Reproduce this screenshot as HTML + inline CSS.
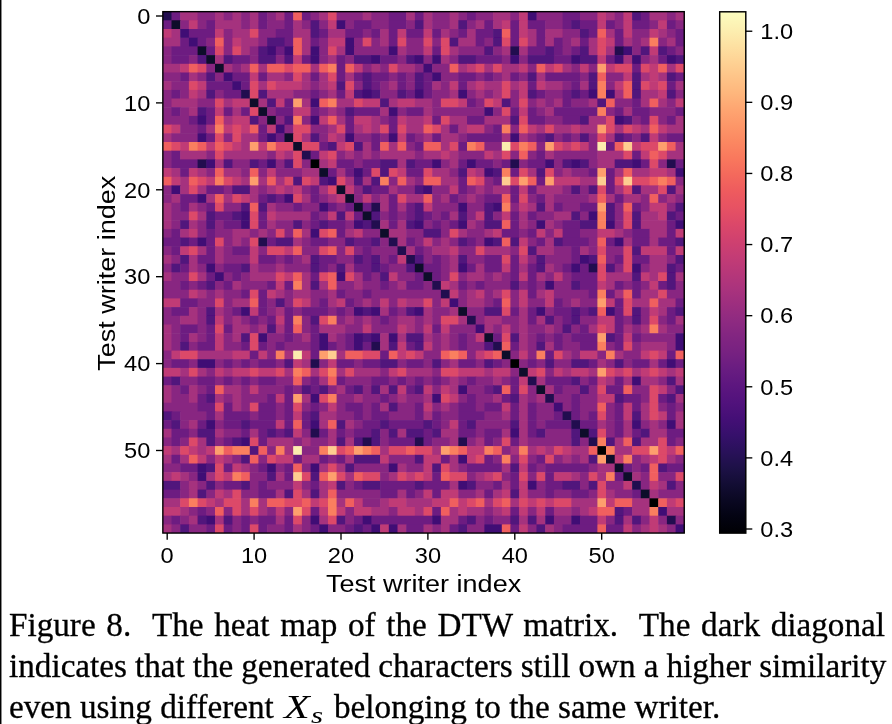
<!DOCTYPE html>
<html><head><meta charset="utf-8"><style>
html,body{margin:0;padding:0;background:#fff;}
body{width:892px;height:724px;overflow:hidden;position:relative;}
#lb{position:absolute;left:0;top:0;width:1px;height:724px;background:#000;box-shadow:1px 0 0 #8a8a8a;}
svg{position:absolute;left:0;top:0;will-change:transform;}
.c0{fill:#221150}.c1{fill:#6d1d81}.c2{fill:#a5317e}.c3{fill:#882781}.c4{fill:#f05f5e}.c5{fill:#dc4869}.c6{fill:#c03a76}.c7{fill:#400f74}.c8{fill:#51127c}.c9{fill:#0d0a29}.c10{fill:#fa7f5e}.c11{fill:#fe9f6d}.c12{fill:#fcecae}.c13{fill:#fecd90}.c14{fill:#010106}
.t{font-family:"Liberation Sans",sans-serif;font-size:22.3px;fill:#000;}
.lab{font-family:"Liberation Sans",sans-serif;font-size:24.3px;fill:#000;}
.tk{stroke:#000;stroke-width:1.35;}
.cap{position:absolute;left:8.7px;width:876px;font-family:"Liberation Serif",serif;font-size:33.2px;line-height:40.7px;height:40.7px;white-space:nowrap;color:#000;-webkit-text-stroke:0.3px #000;}
.cap{will-change:transform;}
.j{text-align:justify;text-align-last:justify;white-space:normal;}
</style></head><body>
<div id="lb"></div>
<svg width="892" height="724" viewBox="0 0 892 724">
<defs><filter id="bl" x="0" y="0" width="1" height="1"><feGaussianBlur stdDeviation="0.45"/></filter><linearGradient id="g" x1="0" y1="0" x2="0" y2="1"><stop offset="0.0000" stop-color="#fcfdbf"/><stop offset="0.0312" stop-color="#fcf0b2"/><stop offset="0.0625" stop-color="#fde2a3"/><stop offset="0.0938" stop-color="#fed395"/><stop offset="0.1250" stop-color="#fec488"/><stop offset="0.1562" stop-color="#feb67c"/><stop offset="0.1875" stop-color="#fea571"/><stop offset="0.2188" stop-color="#fd9668"/><stop offset="0.2500" stop-color="#fb8761"/><stop offset="0.2812" stop-color="#f9785d"/><stop offset="0.3125" stop-color="#f4695c"/><stop offset="0.3438" stop-color="#ee5b5e"/><stop offset="0.3750" stop-color="#e75263"/><stop offset="0.4062" stop-color="#dc4869"/><stop offset="0.4375" stop-color="#d0416f"/><stop offset="0.4688" stop-color="#c43c75"/><stop offset="0.5000" stop-color="#b73779"/><stop offset="0.5312" stop-color="#aa337d"/><stop offset="0.5625" stop-color="#9c2e7f"/><stop offset="0.5938" stop-color="#8e2a81"/><stop offset="0.6250" stop-color="#812581"/><stop offset="0.6562" stop-color="#762181"/><stop offset="0.6875" stop-color="#681c81"/><stop offset="0.7188" stop-color="#5c167f"/><stop offset="0.7500" stop-color="#51127c"/><stop offset="0.7812" stop-color="#440f76"/><stop offset="0.8125" stop-color="#36106b"/><stop offset="0.8438" stop-color="#29115a"/><stop offset="0.8750" stop-color="#1d1147"/><stop offset="0.9062" stop-color="#130d34"/><stop offset="0.9375" stop-color="#0a0822"/><stop offset="0.9688" stop-color="#030312"/><stop offset="1.0000" stop-color="#000004"/></linearGradient></defs>
<g filter="url(#bl)"><rect class="c0" x="162.8" y="11.7" width="9.3" height="9.3"/><rect class="c1" x="171.5" y="11.7" width="9.3" height="9.3"/><rect class="c2" x="180.2" y="11.7" width="18.0" height="9.3"/><rect class="c3" x="197.6" y="11.7" width="18.0" height="9.3"/><rect class="c2" x="215.0" y="11.7" width="9.3" height="9.3"/><rect class="c3" x="223.7" y="11.7" width="9.3" height="9.3"/><rect class="c2" x="232.4" y="11.7" width="9.3" height="9.3"/><rect class="c3" x="241.1" y="11.7" width="9.3" height="9.3"/><rect class="c2" x="249.8" y="11.7" width="9.3" height="9.3"/><rect class="c1" x="258.4" y="11.7" width="9.3" height="9.3"/><rect class="c3" x="267.1" y="11.7" width="9.3" height="9.3"/><rect class="c2" x="275.8" y="11.7" width="9.3" height="9.3"/><rect class="c1" x="284.5" y="11.7" width="9.3" height="9.3"/><rect class="c4" x="293.2" y="11.7" width="9.3" height="9.3"/><rect class="c1" x="301.9" y="11.7" width="9.3" height="9.3"/><rect class="c3" x="310.6" y="11.7" width="9.3" height="9.3"/><rect class="c2" x="319.3" y="11.7" width="9.3" height="9.3"/><rect class="c5" x="328.0" y="11.7" width="9.3" height="9.3"/><rect class="c3" x="336.6" y="11.7" width="26.7" height="9.3"/><rect class="c2" x="362.7" y="11.7" width="9.3" height="9.3"/><rect class="c3" x="371.4" y="11.7" width="18.0" height="9.3"/><rect class="c1" x="388.8" y="11.7" width="18.0" height="9.3"/><rect class="c2" x="406.2" y="11.7" width="9.3" height="9.3"/><rect class="c1" x="414.9" y="11.7" width="9.3" height="9.3"/><rect class="c2" x="423.5" y="11.7" width="9.3" height="9.3"/><rect class="c3" x="432.2" y="11.7" width="18.0" height="9.3"/><rect class="c2" x="449.6" y="11.7" width="9.3" height="9.3"/><rect class="c3" x="458.3" y="11.7" width="9.3" height="9.3"/><rect class="c1" x="467.0" y="11.7" width="9.3" height="9.3"/><rect class="c3" x="475.7" y="11.7" width="18.0" height="9.3"/><rect class="c2" x="493.1" y="11.7" width="18.0" height="9.3"/><rect class="c3" x="510.4" y="11.7" width="9.3" height="9.3"/><rect class="c6" x="519.1" y="11.7" width="9.3" height="9.3"/><rect class="c7" x="527.8" y="11.7" width="9.3" height="9.3"/><rect class="c3" x="536.5" y="11.7" width="26.7" height="9.3"/><rect class="c1" x="562.6" y="11.7" width="18.0" height="9.3"/><rect class="c3" x="580.0" y="11.7" width="18.0" height="9.3"/><rect class="c6" x="597.4" y="11.7" width="9.3" height="9.3"/><rect class="c2" x="606.0" y="11.7" width="9.3" height="9.3"/><rect class="c3" x="614.7" y="11.7" width="9.3" height="9.3"/><rect class="c6" x="623.4" y="11.7" width="9.3" height="9.3"/><rect class="c8" x="632.1" y="11.7" width="9.3" height="9.3"/><rect class="c1" x="640.8" y="11.7" width="9.3" height="9.3"/><rect class="c2" x="649.5" y="11.7" width="18.0" height="9.3"/><rect class="c3" x="666.9" y="11.7" width="9.3" height="9.3"/><rect class="c2" x="675.6" y="11.7" width="8.7" height="9.3"/><rect class="c1" x="162.8" y="20.3" width="9.3" height="9.3"/><rect class="c9" x="171.5" y="20.3" width="9.3" height="9.3"/><rect class="c3" x="180.2" y="20.3" width="9.3" height="9.3"/><rect class="c6" x="188.9" y="20.3" width="9.3" height="9.3"/><rect class="c3" x="197.6" y="20.3" width="9.3" height="9.3"/><rect class="c1" x="206.3" y="20.3" width="9.3" height="9.3"/><rect class="c2" x="215.0" y="20.3" width="26.7" height="9.3"/><rect class="c3" x="241.1" y="20.3" width="9.3" height="9.3"/><rect class="c2" x="249.8" y="20.3" width="9.3" height="9.3"/><rect class="c1" x="258.4" y="20.3" width="9.3" height="9.3"/><rect class="c3" x="267.1" y="20.3" width="18.0" height="9.3"/><rect class="c1" x="284.5" y="20.3" width="9.3" height="9.3"/><rect class="c2" x="293.2" y="20.3" width="9.3" height="9.3"/><rect class="c3" x="301.9" y="20.3" width="9.3" height="9.3"/><rect class="c8" x="310.6" y="20.3" width="9.3" height="9.3"/><rect class="c3" x="319.3" y="20.3" width="9.3" height="9.3"/><rect class="c6" x="328.0" y="20.3" width="9.3" height="9.3"/><rect class="c7" x="336.6" y="20.3" width="9.3" height="9.3"/><rect class="c3" x="345.3" y="20.3" width="9.3" height="9.3"/><rect class="c1" x="354.0" y="20.3" width="18.0" height="9.3"/><rect class="c3" x="371.4" y="20.3" width="18.0" height="9.3"/><rect class="c1" x="388.8" y="20.3" width="18.0" height="9.3"/><rect class="c3" x="406.2" y="20.3" width="9.3" height="9.3"/><rect class="c8" x="414.9" y="20.3" width="9.3" height="9.3"/><rect class="c2" x="423.5" y="20.3" width="9.3" height="9.3"/><rect class="c3" x="432.2" y="20.3" width="18.0" height="9.3"/><rect class="c2" x="449.6" y="20.3" width="9.3" height="9.3"/><rect class="c8" x="458.3" y="20.3" width="9.3" height="9.3"/><rect class="c3" x="467.0" y="20.3" width="9.3" height="9.3"/><rect class="c2" x="475.7" y="20.3" width="9.3" height="9.3"/><rect class="c1" x="484.4" y="20.3" width="9.3" height="9.3"/><rect class="c2" x="493.1" y="20.3" width="9.3" height="9.3"/><rect class="c6" x="501.8" y="20.3" width="9.3" height="9.3"/><rect class="c1" x="510.4" y="20.3" width="9.3" height="9.3"/><rect class="c6" x="519.1" y="20.3" width="9.3" height="9.3"/><rect class="c1" x="527.8" y="20.3" width="18.0" height="9.3"/><rect class="c3" x="545.2" y="20.3" width="18.0" height="9.3"/><rect class="c1" x="562.6" y="20.3" width="9.3" height="9.3"/><rect class="c8" x="571.3" y="20.3" width="9.3" height="9.3"/><rect class="c1" x="580.0" y="20.3" width="18.0" height="9.3"/><rect class="c6" x="597.4" y="20.3" width="9.3" height="9.3"/><rect class="c1" x="606.0" y="20.3" width="9.3" height="9.3"/><rect class="c3" x="614.7" y="20.3" width="9.3" height="9.3"/><rect class="c6" x="623.4" y="20.3" width="9.3" height="9.3"/><rect class="c1" x="632.1" y="20.3" width="18.0" height="9.3"/><rect class="c3" x="649.5" y="20.3" width="9.3" height="9.3"/><rect class="c6" x="658.2" y="20.3" width="9.3" height="9.3"/><rect class="c1" x="666.9" y="20.3" width="9.3" height="9.3"/><rect class="c3" x="675.6" y="20.3" width="8.7" height="9.3"/><rect class="c6" x="162.8" y="29.0" width="9.3" height="9.3"/><rect class="c2" x="171.5" y="29.0" width="9.3" height="9.3"/><rect class="c7" x="180.2" y="29.0" width="9.3" height="9.3"/><rect class="c1" x="188.9" y="29.0" width="26.7" height="9.3"/><rect class="c6" x="215.0" y="29.0" width="9.3" height="9.3"/><rect class="c3" x="223.7" y="29.0" width="9.3" height="9.3"/><rect class="c2" x="232.4" y="29.0" width="18.0" height="9.3"/><rect class="c5" x="249.8" y="29.0" width="9.3" height="9.3"/><rect class="c3" x="258.4" y="29.0" width="18.0" height="9.3"/><rect class="c1" x="275.8" y="29.0" width="18.0" height="9.3"/><rect class="c2" x="293.2" y="29.0" width="18.0" height="9.3"/><rect class="c8" x="310.6" y="29.0" width="9.3" height="9.3"/><rect class="c1" x="319.3" y="29.0" width="9.3" height="9.3"/><rect class="c2" x="328.0" y="29.0" width="18.0" height="9.3"/><rect class="c1" x="345.3" y="29.0" width="18.0" height="9.3"/><rect class="c3" x="362.7" y="29.0" width="9.3" height="9.3"/><rect class="c1" x="371.4" y="29.0" width="9.3" height="9.3"/><rect class="c2" x="380.1" y="29.0" width="9.3" height="9.3"/><rect class="c1" x="388.8" y="29.0" width="9.3" height="9.3"/><rect class="c6" x="397.5" y="29.0" width="9.3" height="9.3"/><rect class="c1" x="406.2" y="29.0" width="18.0" height="9.3"/><rect class="c6" x="423.5" y="29.0" width="9.3" height="9.3"/><rect class="c1" x="432.2" y="29.0" width="9.3" height="9.3"/><rect class="c2" x="440.9" y="29.0" width="9.3" height="9.3"/><rect class="c3" x="449.6" y="29.0" width="9.3" height="9.3"/><rect class="c1" x="458.3" y="29.0" width="9.3" height="9.3"/><rect class="c2" x="467.0" y="29.0" width="9.3" height="9.3"/><rect class="c1" x="475.7" y="29.0" width="18.0" height="9.3"/><rect class="c8" x="493.1" y="29.0" width="9.3" height="9.3"/><rect class="c4" x="501.8" y="29.0" width="9.3" height="9.3"/><rect class="c1" x="510.4" y="29.0" width="9.3" height="9.3"/><rect class="c6" x="519.1" y="29.0" width="9.3" height="9.3"/><rect class="c2" x="527.8" y="29.0" width="9.3" height="9.3"/><rect class="c1" x="536.5" y="29.0" width="9.3" height="9.3"/><rect class="c2" x="545.2" y="29.0" width="18.0" height="9.3"/><rect class="c3" x="562.6" y="29.0" width="18.0" height="9.3"/><rect class="c8" x="580.0" y="29.0" width="9.3" height="9.3"/><rect class="c1" x="588.7" y="29.0" width="9.3" height="9.3"/><rect class="c4" x="597.4" y="29.0" width="9.3" height="9.3"/><rect class="c2" x="606.0" y="29.0" width="9.3" height="9.3"/><rect class="c1" x="614.7" y="29.0" width="9.3" height="9.3"/><rect class="c6" x="623.4" y="29.0" width="9.3" height="9.3"/><rect class="c3" x="632.1" y="29.0" width="18.0" height="9.3"/><rect class="c6" x="649.5" y="29.0" width="9.3" height="9.3"/><rect class="c2" x="658.2" y="29.0" width="9.3" height="9.3"/><rect class="c3" x="666.9" y="29.0" width="9.3" height="9.3"/><rect class="c1" x="675.6" y="29.0" width="8.7" height="9.3"/><rect class="c2" x="162.8" y="37.7" width="18.0" height="9.3"/><rect class="c1" x="180.2" y="37.7" width="9.3" height="9.3"/><rect class="c7" x="188.9" y="37.7" width="9.3" height="9.3"/><rect class="c1" x="197.6" y="37.7" width="9.3" height="9.3"/><rect class="c3" x="206.3" y="37.7" width="9.3" height="9.3"/><rect class="c4" x="215.0" y="37.7" width="9.3" height="9.3"/><rect class="c3" x="223.7" y="37.7" width="9.3" height="9.3"/><rect class="c6" x="232.4" y="37.7" width="9.3" height="9.3"/><rect class="c2" x="241.1" y="37.7" width="18.0" height="9.3"/><rect class="c3" x="258.4" y="37.7" width="9.3" height="9.3"/><rect class="c8" x="267.1" y="37.7" width="18.0" height="9.3"/><rect class="c1" x="284.5" y="37.7" width="9.3" height="9.3"/><rect class="c4" x="293.2" y="37.7" width="9.3" height="9.3"/><rect class="c2" x="301.9" y="37.7" width="9.3" height="9.3"/><rect class="c1" x="310.6" y="37.7" width="9.3" height="9.3"/><rect class="c3" x="319.3" y="37.7" width="9.3" height="9.3"/><rect class="c6" x="328.0" y="37.7" width="18.0" height="9.3"/><rect class="c7" x="345.3" y="37.7" width="9.3" height="9.3"/><rect class="c3" x="354.0" y="37.7" width="9.3" height="9.3"/><rect class="c5" x="362.7" y="37.7" width="9.3" height="9.3"/><rect class="c3" x="371.4" y="37.7" width="9.3" height="9.3"/><rect class="c2" x="380.1" y="37.7" width="9.3" height="9.3"/><rect class="c1" x="388.8" y="37.7" width="9.3" height="9.3"/><rect class="c5" x="397.5" y="37.7" width="9.3" height="9.3"/><rect class="c3" x="406.2" y="37.7" width="18.0" height="9.3"/><rect class="c5" x="423.5" y="37.7" width="9.3" height="9.3"/><rect class="c3" x="432.2" y="37.7" width="9.3" height="9.3"/><rect class="c5" x="440.9" y="37.7" width="9.3" height="9.3"/><rect class="c8" x="449.6" y="37.7" width="9.3" height="9.3"/><rect class="c2" x="458.3" y="37.7" width="18.0" height="9.3"/><rect class="c1" x="475.7" y="37.7" width="9.3" height="9.3"/><rect class="c3" x="484.4" y="37.7" width="9.3" height="9.3"/><rect class="c8" x="493.1" y="37.7" width="9.3" height="9.3"/><rect class="c5" x="501.8" y="37.7" width="9.3" height="9.3"/><rect class="c1" x="510.4" y="37.7" width="9.3" height="9.3"/><rect class="c5" x="519.1" y="37.7" width="9.3" height="9.3"/><rect class="c2" x="527.8" y="37.7" width="9.3" height="9.3"/><rect class="c1" x="536.5" y="37.7" width="9.3" height="9.3"/><rect class="c2" x="545.2" y="37.7" width="9.3" height="9.3"/><rect class="c1" x="553.9" y="37.7" width="9.3" height="9.3"/><rect class="c3" x="562.6" y="37.7" width="9.3" height="9.3"/><rect class="c2" x="571.3" y="37.7" width="9.3" height="9.3"/><rect class="c1" x="580.0" y="37.7" width="9.3" height="9.3"/><rect class="c2" x="588.7" y="37.7" width="9.3" height="9.3"/><rect class="c5" x="597.4" y="37.7" width="9.3" height="9.3"/><rect class="c6" x="606.0" y="37.7" width="9.3" height="9.3"/><rect class="c1" x="614.7" y="37.7" width="9.3" height="9.3"/><rect class="c2" x="623.4" y="37.7" width="9.3" height="9.3"/><rect class="c3" x="632.1" y="37.7" width="9.3" height="9.3"/><rect class="c2" x="640.8" y="37.7" width="9.3" height="9.3"/><rect class="c10" x="649.5" y="37.7" width="9.3" height="9.3"/><rect class="c3" x="658.2" y="37.7" width="9.3" height="9.3"/><rect class="c2" x="666.9" y="37.7" width="9.3" height="9.3"/><rect class="c1" x="675.6" y="37.7" width="8.7" height="9.3"/><rect class="c3" x="162.8" y="46.4" width="9.3" height="9.3"/><rect class="c1" x="171.5" y="46.4" width="26.7" height="9.3"/><rect class="c9" x="197.6" y="46.4" width="9.3" height="9.3"/><rect class="c1" x="206.3" y="46.4" width="9.3" height="9.3"/><rect class="c5" x="215.0" y="46.4" width="9.3" height="9.3"/><rect class="c3" x="223.7" y="46.4" width="9.3" height="9.3"/><rect class="c5" x="232.4" y="46.4" width="9.3" height="9.3"/><rect class="c2" x="241.1" y="46.4" width="9.3" height="9.3"/><rect class="c3" x="249.8" y="46.4" width="9.3" height="9.3"/><rect class="c8" x="258.4" y="46.4" width="9.3" height="9.3"/><rect class="c7" x="267.1" y="46.4" width="9.3" height="9.3"/><rect class="c1" x="275.8" y="46.4" width="9.3" height="9.3"/><rect class="c7" x="284.5" y="46.4" width="9.3" height="9.3"/><rect class="c4" x="293.2" y="46.4" width="9.3" height="9.3"/><rect class="c2" x="301.9" y="46.4" width="9.3" height="9.3"/><rect class="c7" x="310.6" y="46.4" width="9.3" height="9.3"/><rect class="c3" x="319.3" y="46.4" width="9.3" height="9.3"/><rect class="c5" x="328.0" y="46.4" width="9.3" height="9.3"/><rect class="c2" x="336.6" y="46.4" width="9.3" height="9.3"/><rect class="c7" x="345.3" y="46.4" width="9.3" height="9.3"/><rect class="c3" x="354.0" y="46.4" width="35.4" height="9.3"/><rect class="c7" x="388.8" y="46.4" width="9.3" height="9.3"/><rect class="c2" x="397.5" y="46.4" width="9.3" height="9.3"/><rect class="c3" x="406.2" y="46.4" width="18.0" height="9.3"/><rect class="c6" x="423.5" y="46.4" width="9.3" height="9.3"/><rect class="c1" x="432.2" y="46.4" width="9.3" height="9.3"/><rect class="c5" x="440.9" y="46.4" width="9.3" height="9.3"/><rect class="c2" x="449.6" y="46.4" width="9.3" height="9.3"/><rect class="c3" x="458.3" y="46.4" width="26.7" height="9.3"/><rect class="c8" x="484.4" y="46.4" width="9.3" height="9.3"/><rect class="c3" x="493.1" y="46.4" width="9.3" height="9.3"/><rect class="c2" x="501.8" y="46.4" width="9.3" height="9.3"/><rect class="c0" x="510.4" y="46.4" width="9.3" height="9.3"/><rect class="c2" x="519.1" y="46.4" width="9.3" height="9.3"/><rect class="c1" x="527.8" y="46.4" width="18.0" height="9.3"/><rect class="c8" x="545.2" y="46.4" width="9.3" height="9.3"/><rect class="c1" x="553.9" y="46.4" width="9.3" height="9.3"/><rect class="c3" x="562.6" y="46.4" width="9.3" height="9.3"/><rect class="c1" x="571.3" y="46.4" width="9.3" height="9.3"/><rect class="c8" x="580.0" y="46.4" width="9.3" height="9.3"/><rect class="c2" x="588.7" y="46.4" width="9.3" height="9.3"/><rect class="c5" x="597.4" y="46.4" width="9.3" height="9.3"/><rect class="c2" x="606.0" y="46.4" width="9.3" height="9.3"/><rect class="c0" x="614.7" y="46.4" width="9.3" height="9.3"/><rect class="c7" x="623.4" y="46.4" width="9.3" height="9.3"/><rect class="c3" x="632.1" y="46.4" width="9.3" height="9.3"/><rect class="c8" x="640.8" y="46.4" width="9.3" height="9.3"/><rect class="c6" x="649.5" y="46.4" width="9.3" height="9.3"/><rect class="c8" x="658.2" y="46.4" width="9.3" height="9.3"/><rect class="c1" x="666.9" y="46.4" width="9.3" height="9.3"/><rect class="c3" x="675.6" y="46.4" width="8.7" height="9.3"/><rect class="c3" x="162.8" y="55.1" width="9.3" height="9.3"/><rect class="c1" x="171.5" y="55.1" width="18.0" height="9.3"/><rect class="c3" x="188.9" y="55.1" width="9.3" height="9.3"/><rect class="c8" x="197.6" y="55.1" width="9.3" height="9.3"/><rect class="c9" x="206.3" y="55.1" width="9.3" height="9.3"/><rect class="c2" x="215.0" y="55.1" width="9.3" height="9.3"/><rect class="c8" x="223.7" y="55.1" width="9.3" height="9.3"/><rect class="c1" x="232.4" y="55.1" width="18.0" height="9.3"/><rect class="c3" x="249.8" y="55.1" width="9.3" height="9.3"/><rect class="c8" x="258.4" y="55.1" width="18.0" height="9.3"/><rect class="c3" x="275.8" y="55.1" width="9.3" height="9.3"/><rect class="c8" x="284.5" y="55.1" width="9.3" height="9.3"/><rect class="c6" x="293.2" y="55.1" width="9.3" height="9.3"/><rect class="c1" x="301.9" y="55.1" width="9.3" height="9.3"/><rect class="c7" x="310.6" y="55.1" width="9.3" height="9.3"/><rect class="c3" x="319.3" y="55.1" width="9.3" height="9.3"/><rect class="c2" x="328.0" y="55.1" width="9.3" height="9.3"/><rect class="c1" x="336.6" y="55.1" width="9.3" height="9.3"/><rect class="c3" x="345.3" y="55.1" width="9.3" height="9.3"/><rect class="c8" x="354.0" y="55.1" width="18.0" height="9.3"/><rect class="c7" x="371.4" y="55.1" width="9.3" height="9.3"/><rect class="c1" x="380.1" y="55.1" width="18.0" height="9.3"/><rect class="c3" x="397.5" y="55.1" width="9.3" height="9.3"/><rect class="c8" x="406.2" y="55.1" width="9.3" height="9.3"/><rect class="c7" x="414.9" y="55.1" width="9.3" height="9.3"/><rect class="c3" x="423.5" y="55.1" width="9.3" height="9.3"/><rect class="c7" x="432.2" y="55.1" width="9.3" height="9.3"/><rect class="c2" x="440.9" y="55.1" width="9.3" height="9.3"/><rect class="c3" x="449.6" y="55.1" width="9.3" height="9.3"/><rect class="c8" x="458.3" y="55.1" width="18.0" height="9.3"/><rect class="c1" x="475.7" y="55.1" width="26.7" height="9.3"/><rect class="c3" x="501.8" y="55.1" width="9.3" height="9.3"/><rect class="c7" x="510.4" y="55.1" width="9.3" height="9.3"/><rect class="c3" x="519.1" y="55.1" width="9.3" height="9.3"/><rect class="c8" x="527.8" y="55.1" width="26.7" height="9.3"/><rect class="c1" x="553.9" y="55.1" width="18.0" height="9.3"/><rect class="c7" x="571.3" y="55.1" width="9.3" height="9.3"/><rect class="c8" x="580.0" y="55.1" width="18.0" height="9.3"/><rect class="c6" x="597.4" y="55.1" width="9.3" height="9.3"/><rect class="c1" x="606.0" y="55.1" width="9.3" height="9.3"/><rect class="c7" x="614.7" y="55.1" width="9.3" height="9.3"/><rect class="c2" x="623.4" y="55.1" width="9.3" height="9.3"/><rect class="c7" x="632.1" y="55.1" width="9.3" height="9.3"/><rect class="c3" x="640.8" y="55.1" width="9.3" height="9.3"/><rect class="c2" x="649.5" y="55.1" width="9.3" height="9.3"/><rect class="c1" x="658.2" y="55.1" width="9.3" height="9.3"/><rect class="c7" x="666.9" y="55.1" width="9.3" height="9.3"/><rect class="c8" x="675.6" y="55.1" width="8.7" height="9.3"/><rect class="c2" x="162.8" y="63.8" width="18.0" height="9.3"/><rect class="c6" x="180.2" y="63.8" width="9.3" height="9.3"/><rect class="c4" x="188.9" y="63.8" width="9.3" height="9.3"/><rect class="c5" x="197.6" y="63.8" width="9.3" height="9.3"/><rect class="c3" x="206.3" y="63.8" width="9.3" height="9.3"/><rect class="c9" x="215.0" y="63.8" width="9.3" height="9.3"/><rect class="c2" x="223.7" y="63.8" width="9.3" height="9.3"/><rect class="c3" x="232.4" y="63.8" width="9.3" height="9.3"/><rect class="c2" x="241.1" y="63.8" width="9.3" height="9.3"/><rect class="c4" x="249.8" y="63.8" width="9.3" height="9.3"/><rect class="c2" x="258.4" y="63.8" width="9.3" height="9.3"/><rect class="c4" x="267.1" y="63.8" width="18.0" height="9.3"/><rect class="c5" x="284.5" y="63.8" width="9.3" height="9.3"/><rect class="c4" x="293.2" y="63.8" width="18.0" height="9.3"/><rect class="c2" x="310.6" y="63.8" width="9.3" height="9.3"/><rect class="c4" x="319.3" y="63.8" width="9.3" height="9.3"/><rect class="c10" x="328.0" y="63.8" width="9.3" height="9.3"/><rect class="c1" x="336.6" y="63.8" width="9.3" height="9.3"/><rect class="c4" x="345.3" y="63.8" width="9.3" height="9.3"/><rect class="c6" x="354.0" y="63.8" width="9.3" height="9.3"/><rect class="c3" x="362.7" y="63.8" width="9.3" height="9.3"/><rect class="c2" x="371.4" y="63.8" width="9.3" height="9.3"/><rect class="c3" x="380.1" y="63.8" width="9.3" height="9.3"/><rect class="c5" x="388.8" y="63.8" width="9.3" height="9.3"/><rect class="c2" x="397.5" y="63.8" width="18.0" height="9.3"/><rect class="c3" x="414.9" y="63.8" width="9.3" height="9.3"/><rect class="c7" x="423.5" y="63.8" width="9.3" height="9.3"/><rect class="c3" x="432.2" y="63.8" width="18.0" height="9.3"/><rect class="c4" x="449.6" y="63.8" width="9.3" height="9.3"/><rect class="c2" x="458.3" y="63.8" width="9.3" height="9.3"/><rect class="c6" x="467.0" y="63.8" width="9.3" height="9.3"/><rect class="c5" x="475.7" y="63.8" width="9.3" height="9.3"/><rect class="c2" x="484.4" y="63.8" width="9.3" height="9.3"/><rect class="c5" x="493.1" y="63.8" width="9.3" height="9.3"/><rect class="c2" x="501.8" y="63.8" width="18.0" height="9.3"/><rect class="c6" x="519.1" y="63.8" width="9.3" height="9.3"/><rect class="c3" x="527.8" y="63.8" width="9.3" height="9.3"/><rect class="c4" x="536.5" y="63.8" width="9.3" height="9.3"/><rect class="c6" x="545.2" y="63.8" width="9.3" height="9.3"/><rect class="c5" x="553.9" y="63.8" width="9.3" height="9.3"/><rect class="c2" x="562.6" y="63.8" width="9.3" height="9.3"/><rect class="c3" x="571.3" y="63.8" width="9.3" height="9.3"/><rect class="c6" x="580.0" y="63.8" width="9.3" height="9.3"/><rect class="c3" x="588.7" y="63.8" width="9.3" height="9.3"/><rect class="c11" x="597.4" y="63.8" width="9.3" height="9.3"/><rect class="c6" x="606.0" y="63.8" width="9.3" height="9.3"/><rect class="c5" x="614.7" y="63.8" width="18.0" height="9.3"/><rect class="c1" x="632.1" y="63.8" width="9.3" height="9.3"/><rect class="c5" x="640.8" y="63.8" width="9.3" height="9.3"/><rect class="c6" x="649.5" y="63.8" width="9.3" height="9.3"/><rect class="c4" x="658.2" y="63.8" width="9.3" height="9.3"/><rect class="c2" x="666.9" y="63.8" width="9.3" height="9.3"/><rect class="c5" x="675.6" y="63.8" width="8.7" height="9.3"/><rect class="c3" x="162.8" y="72.5" width="18.0" height="9.3"/><rect class="c1" x="180.2" y="72.5" width="9.3" height="9.3"/><rect class="c2" x="188.9" y="72.5" width="9.3" height="9.3"/><rect class="c3" x="197.6" y="72.5" width="9.3" height="9.3"/><rect class="c8" x="206.3" y="72.5" width="9.3" height="9.3"/><rect class="c3" x="215.0" y="72.5" width="9.3" height="9.3"/><rect class="c7" x="223.7" y="72.5" width="9.3" height="9.3"/><rect class="c1" x="232.4" y="72.5" width="18.0" height="9.3"/><rect class="c6" x="249.8" y="72.5" width="9.3" height="9.3"/><rect class="c1" x="258.4" y="72.5" width="9.3" height="9.3"/><rect class="c2" x="267.1" y="72.5" width="18.0" height="9.3"/><rect class="c3" x="284.5" y="72.5" width="9.3" height="9.3"/><rect class="c5" x="293.2" y="72.5" width="9.3" height="9.3"/><rect class="c2" x="301.9" y="72.5" width="9.3" height="9.3"/><rect class="c1" x="310.6" y="72.5" width="9.3" height="9.3"/><rect class="c2" x="319.3" y="72.5" width="9.3" height="9.3"/><rect class="c5" x="328.0" y="72.5" width="9.3" height="9.3"/><rect class="c1" x="336.6" y="72.5" width="9.3" height="9.3"/><rect class="c2" x="345.3" y="72.5" width="9.3" height="9.3"/><rect class="c1" x="354.0" y="72.5" width="9.3" height="9.3"/><rect class="c8" x="362.7" y="72.5" width="9.3" height="9.3"/><rect class="c1" x="371.4" y="72.5" width="18.0" height="9.3"/><rect class="c3" x="388.8" y="72.5" width="9.3" height="9.3"/><rect class="c1" x="397.5" y="72.5" width="9.3" height="9.3"/><rect class="c3" x="406.2" y="72.5" width="9.3" height="9.3"/><rect class="c8" x="414.9" y="72.5" width="9.3" height="9.3"/><rect class="c1" x="423.5" y="72.5" width="9.3" height="9.3"/><rect class="c7" x="432.2" y="72.5" width="9.3" height="9.3"/><rect class="c3" x="440.9" y="72.5" width="18.0" height="9.3"/><rect class="c1" x="458.3" y="72.5" width="18.0" height="9.3"/><rect class="c3" x="475.7" y="72.5" width="9.3" height="9.3"/><rect class="c1" x="484.4" y="72.5" width="9.3" height="9.3"/><rect class="c3" x="493.1" y="72.5" width="9.3" height="9.3"/><rect class="c2" x="501.8" y="72.5" width="9.3" height="9.3"/><rect class="c1" x="510.4" y="72.5" width="9.3" height="9.3"/><rect class="c3" x="519.1" y="72.5" width="9.3" height="9.3"/><rect class="c8" x="527.8" y="72.5" width="9.3" height="9.3"/><rect class="c2" x="536.5" y="72.5" width="9.3" height="9.3"/><rect class="c1" x="545.2" y="72.5" width="35.4" height="9.3"/><rect class="c3" x="580.0" y="72.5" width="9.3" height="9.3"/><rect class="c8" x="588.7" y="72.5" width="9.3" height="9.3"/><rect class="c4" x="597.4" y="72.5" width="9.3" height="9.3"/><rect class="c3" x="606.0" y="72.5" width="18.0" height="9.3"/><rect class="c6" x="623.4" y="72.5" width="9.3" height="9.3"/><rect class="c8" x="632.1" y="72.5" width="9.3" height="9.3"/><rect class="c2" x="640.8" y="72.5" width="9.3" height="9.3"/><rect class="c6" x="649.5" y="72.5" width="9.3" height="9.3"/><rect class="c2" x="658.2" y="72.5" width="9.3" height="9.3"/><rect class="c8" x="666.9" y="72.5" width="9.3" height="9.3"/><rect class="c1" x="675.6" y="72.5" width="8.7" height="9.3"/><rect class="c2" x="162.8" y="81.2" width="9.3" height="9.3"/><rect class="c3" x="171.5" y="81.2" width="18.0" height="9.3"/><rect class="c5" x="188.9" y="81.2" width="9.3" height="9.3"/><rect class="c6" x="197.6" y="81.2" width="9.3" height="9.3"/><rect class="c1" x="206.3" y="81.2" width="26.7" height="9.3"/><rect class="c7" x="232.4" y="81.2" width="9.3" height="9.3"/><rect class="c1" x="241.1" y="81.2" width="9.3" height="9.3"/><rect class="c5" x="249.8" y="81.2" width="9.3" height="9.3"/><rect class="c2" x="258.4" y="81.2" width="9.3" height="9.3"/><rect class="c5" x="267.1" y="81.2" width="9.3" height="9.3"/><rect class="c6" x="275.8" y="81.2" width="26.7" height="9.3"/><rect class="c2" x="301.9" y="81.2" width="9.3" height="9.3"/><rect class="c3" x="310.6" y="81.2" width="9.3" height="9.3"/><rect class="c2" x="319.3" y="81.2" width="9.3" height="9.3"/><rect class="c6" x="328.0" y="81.2" width="9.3" height="9.3"/><rect class="c8" x="336.6" y="81.2" width="9.3" height="9.3"/><rect class="c5" x="345.3" y="81.2" width="9.3" height="9.3"/><rect class="c3" x="354.0" y="81.2" width="9.3" height="9.3"/><rect class="c8" x="362.7" y="81.2" width="9.3" height="9.3"/><rect class="c1" x="371.4" y="81.2" width="9.3" height="9.3"/><rect class="c3" x="380.1" y="81.2" width="9.3" height="9.3"/><rect class="c2" x="388.8" y="81.2" width="9.3" height="9.3"/><rect class="c1" x="397.5" y="81.2" width="9.3" height="9.3"/><rect class="c3" x="406.2" y="81.2" width="9.3" height="9.3"/><rect class="c8" x="414.9" y="81.2" width="9.3" height="9.3"/><rect class="c1" x="423.5" y="81.2" width="9.3" height="9.3"/><rect class="c2" x="432.2" y="81.2" width="9.3" height="9.3"/><rect class="c3" x="440.9" y="81.2" width="9.3" height="9.3"/><rect class="c6" x="449.6" y="81.2" width="9.3" height="9.3"/><rect class="c1" x="458.3" y="81.2" width="9.3" height="9.3"/><rect class="c2" x="467.0" y="81.2" width="9.3" height="9.3"/><rect class="c6" x="475.7" y="81.2" width="9.3" height="9.3"/><rect class="c2" x="484.4" y="81.2" width="18.0" height="9.3"/><rect class="c5" x="501.8" y="81.2" width="9.3" height="9.3"/><rect class="c2" x="510.4" y="81.2" width="9.3" height="9.3"/><rect class="c6" x="519.1" y="81.2" width="9.3" height="9.3"/><rect class="c1" x="527.8" y="81.2" width="9.3" height="9.3"/><rect class="c6" x="536.5" y="81.2" width="9.3" height="9.3"/><rect class="c2" x="545.2" y="81.2" width="18.0" height="9.3"/><rect class="c3" x="562.6" y="81.2" width="9.3" height="9.3"/><rect class="c1" x="571.3" y="81.2" width="9.3" height="9.3"/><rect class="c2" x="580.0" y="81.2" width="9.3" height="9.3"/><rect class="c8" x="588.7" y="81.2" width="9.3" height="9.3"/><rect class="c10" x="597.4" y="81.2" width="9.3" height="9.3"/><rect class="c3" x="606.0" y="81.2" width="9.3" height="9.3"/><rect class="c6" x="614.7" y="81.2" width="9.3" height="9.3"/><rect class="c4" x="623.4" y="81.2" width="9.3" height="9.3"/><rect class="c8" x="632.1" y="81.2" width="9.3" height="9.3"/><rect class="c5" x="640.8" y="81.2" width="9.3" height="9.3"/><rect class="c6" x="649.5" y="81.2" width="9.3" height="9.3"/><rect class="c5" x="658.2" y="81.2" width="9.3" height="9.3"/><rect class="c1" x="666.9" y="81.2" width="9.3" height="9.3"/><rect class="c2" x="675.6" y="81.2" width="8.7" height="9.3"/><rect class="c3" x="162.8" y="89.9" width="9.3" height="9.3"/><rect class="c1" x="171.5" y="89.9" width="9.3" height="9.3"/><rect class="c3" x="180.2" y="89.9" width="9.3" height="9.3"/><rect class="c6" x="188.9" y="89.9" width="9.3" height="9.3"/><rect class="c2" x="197.6" y="89.9" width="9.3" height="9.3"/><rect class="c8" x="206.3" y="89.9" width="9.3" height="9.3"/><rect class="c3" x="215.0" y="89.9" width="9.3" height="9.3"/><rect class="c1" x="223.7" y="89.9" width="18.0" height="9.3"/><rect class="c0" x="241.1" y="89.9" width="9.3" height="9.3"/><rect class="c5" x="249.8" y="89.9" width="9.3" height="9.3"/><rect class="c8" x="258.4" y="89.9" width="9.3" height="9.3"/><rect class="c2" x="267.1" y="89.9" width="26.7" height="9.3"/><rect class="c3" x="293.2" y="89.9" width="18.0" height="9.3"/><rect class="c1" x="310.6" y="89.9" width="9.3" height="9.3"/><rect class="c3" x="319.3" y="89.9" width="9.3" height="9.3"/><rect class="c2" x="328.0" y="89.9" width="9.3" height="9.3"/><rect class="c1" x="336.6" y="89.9" width="9.3" height="9.3"/><rect class="c6" x="345.3" y="89.9" width="9.3" height="9.3"/><rect class="c8" x="354.0" y="89.9" width="9.3" height="9.3"/><rect class="c7" x="362.7" y="89.9" width="9.3" height="9.3"/><rect class="c8" x="371.4" y="89.9" width="9.3" height="9.3"/><rect class="c3" x="380.1" y="89.9" width="18.0" height="9.3"/><rect class="c8" x="397.5" y="89.9" width="9.3" height="9.3"/><rect class="c1" x="406.2" y="89.9" width="9.3" height="9.3"/><rect class="c7" x="414.9" y="89.9" width="9.3" height="9.3"/><rect class="c1" x="423.5" y="89.9" width="9.3" height="9.3"/><rect class="c3" x="432.2" y="89.9" width="18.0" height="9.3"/><rect class="c2" x="449.6" y="89.9" width="9.3" height="9.3"/><rect class="c7" x="458.3" y="89.9" width="9.3" height="9.3"/><rect class="c3" x="467.0" y="89.9" width="9.3" height="9.3"/><rect class="c2" x="475.7" y="89.9" width="9.3" height="9.3"/><rect class="c3" x="484.4" y="89.9" width="9.3" height="9.3"/><rect class="c2" x="493.1" y="89.9" width="9.3" height="9.3"/><rect class="c5" x="501.8" y="89.9" width="9.3" height="9.3"/><rect class="c3" x="510.4" y="89.9" width="9.3" height="9.3"/><rect class="c6" x="519.1" y="89.9" width="9.3" height="9.3"/><rect class="c8" x="527.8" y="89.9" width="9.3" height="9.3"/><rect class="c1" x="536.5" y="89.9" width="9.3" height="9.3"/><rect class="c3" x="545.2" y="89.9" width="18.0" height="9.3"/><rect class="c1" x="562.6" y="89.9" width="9.3" height="9.3"/><rect class="c8" x="571.3" y="89.9" width="9.3" height="9.3"/><rect class="c1" x="580.0" y="89.9" width="9.3" height="9.3"/><rect class="c7" x="588.7" y="89.9" width="9.3" height="9.3"/><rect class="c10" x="597.4" y="89.9" width="9.3" height="9.3"/><rect class="c7" x="606.0" y="89.9" width="9.3" height="9.3"/><rect class="c2" x="614.7" y="89.9" width="9.3" height="9.3"/><rect class="c4" x="623.4" y="89.9" width="9.3" height="9.3"/><rect class="c8" x="632.1" y="89.9" width="9.3" height="9.3"/><rect class="c2" x="640.8" y="89.9" width="18.0" height="9.3"/><rect class="c6" x="658.2" y="89.9" width="9.3" height="9.3"/><rect class="c8" x="666.9" y="89.9" width="9.3" height="9.3"/><rect class="c3" x="675.6" y="89.9" width="8.7" height="9.3"/><rect class="c3" x="162.8" y="98.5" width="9.3" height="9.3"/><rect class="c2" x="171.5" y="98.5" width="26.7" height="9.3"/><rect class="c3" x="197.6" y="98.5" width="18.0" height="9.3"/><rect class="c5" x="215.0" y="98.5" width="9.3" height="9.3"/><rect class="c2" x="223.7" y="98.5" width="9.3" height="9.3"/><rect class="c6" x="232.4" y="98.5" width="18.0" height="9.3"/><rect class="c9" x="249.8" y="98.5" width="9.3" height="9.3"/><rect class="c2" x="258.4" y="98.5" width="9.3" height="9.3"/><rect class="c8" x="267.1" y="98.5" width="9.3" height="9.3"/><rect class="c6" x="275.8" y="98.5" width="9.3" height="9.3"/><rect class="c1" x="284.5" y="98.5" width="9.3" height="9.3"/><rect class="c11" x="293.2" y="98.5" width="9.3" height="9.3"/><rect class="c2" x="301.9" y="98.5" width="9.3" height="9.3"/><rect class="c7" x="310.6" y="98.5" width="9.3" height="9.3"/><rect class="c4" x="319.3" y="98.5" width="9.3" height="9.3"/><rect class="c10" x="328.0" y="98.5" width="9.3" height="9.3"/><rect class="c2" x="336.6" y="98.5" width="18.0" height="9.3"/><rect class="c5" x="354.0" y="98.5" width="9.3" height="9.3"/><rect class="c6" x="362.7" y="98.5" width="18.0" height="9.3"/><rect class="c8" x="380.1" y="98.5" width="9.3" height="9.3"/><rect class="c2" x="388.8" y="98.5" width="9.3" height="9.3"/><rect class="c6" x="397.5" y="98.5" width="18.0" height="9.3"/><rect class="c2" x="414.9" y="98.5" width="18.0" height="9.3"/><rect class="c3" x="432.2" y="98.5" width="9.3" height="9.3"/><rect class="c5" x="440.9" y="98.5" width="18.0" height="9.3"/><rect class="c6" x="458.3" y="98.5" width="9.3" height="9.3"/><rect class="c1" x="467.0" y="98.5" width="9.3" height="9.3"/><rect class="c3" x="475.7" y="98.5" width="9.3" height="9.3"/><rect class="c5" x="484.4" y="98.5" width="9.3" height="9.3"/><rect class="c6" x="493.1" y="98.5" width="9.3" height="9.3"/><rect class="c8" x="501.8" y="98.5" width="9.3" height="9.3"/><rect class="c3" x="510.4" y="98.5" width="9.3" height="9.3"/><rect class="c5" x="519.1" y="98.5" width="9.3" height="9.3"/><rect class="c3" x="527.8" y="98.5" width="9.3" height="9.3"/><rect class="c2" x="536.5" y="98.5" width="9.3" height="9.3"/><rect class="c3" x="545.2" y="98.5" width="9.3" height="9.3"/><rect class="c2" x="553.9" y="98.5" width="9.3" height="9.3"/><rect class="c1" x="562.6" y="98.5" width="9.3" height="9.3"/><rect class="c3" x="571.3" y="98.5" width="18.0" height="9.3"/><rect class="c2" x="588.7" y="98.5" width="9.3" height="9.3"/><rect class="c8" x="597.4" y="98.5" width="9.3" height="9.3"/><rect class="c4" x="606.0" y="98.5" width="9.3" height="9.3"/><rect class="c3" x="614.7" y="98.5" width="18.0" height="9.3"/><rect class="c1" x="632.1" y="98.5" width="9.3" height="9.3"/><rect class="c2" x="640.8" y="98.5" width="9.3" height="9.3"/><rect class="c4" x="649.5" y="98.5" width="9.3" height="9.3"/><rect class="c2" x="658.2" y="98.5" width="9.3" height="9.3"/><rect class="c3" x="666.9" y="98.5" width="9.3" height="9.3"/><rect class="c6" x="675.6" y="98.5" width="8.7" height="9.3"/><rect class="c3" x="162.8" y="107.2" width="9.3" height="9.3"/><rect class="c1" x="171.5" y="107.2" width="9.3" height="9.3"/><rect class="c3" x="180.2" y="107.2" width="9.3" height="9.3"/><rect class="c2" x="188.9" y="107.2" width="9.3" height="9.3"/><rect class="c8" x="197.6" y="107.2" width="9.3" height="9.3"/><rect class="c1" x="206.3" y="107.2" width="9.3" height="9.3"/><rect class="c6" x="215.0" y="107.2" width="9.3" height="9.3"/><rect class="c1" x="223.7" y="107.2" width="9.3" height="9.3"/><rect class="c2" x="232.4" y="107.2" width="9.3" height="9.3"/><rect class="c1" x="241.1" y="107.2" width="9.3" height="9.3"/><rect class="c5" x="249.8" y="107.2" width="9.3" height="9.3"/><rect class="c9" x="258.4" y="107.2" width="9.3" height="9.3"/><rect class="c3" x="267.1" y="107.2" width="9.3" height="9.3"/><rect class="c1" x="275.8" y="107.2" width="18.0" height="9.3"/><rect class="c6" x="293.2" y="107.2" width="18.0" height="9.3"/><rect class="c1" x="310.6" y="107.2" width="9.3" height="9.3"/><rect class="c3" x="319.3" y="107.2" width="9.3" height="9.3"/><rect class="c2" x="328.0" y="107.2" width="9.3" height="9.3"/><rect class="c3" x="336.6" y="107.2" width="9.3" height="9.3"/><rect class="c8" x="345.3" y="107.2" width="9.3" height="9.3"/><rect class="c1" x="354.0" y="107.2" width="26.7" height="9.3"/><rect class="c2" x="380.1" y="107.2" width="9.3" height="9.3"/><rect class="c7" x="388.8" y="107.2" width="9.3" height="9.3"/><rect class="c3" x="397.5" y="107.2" width="9.3" height="9.3"/><rect class="c1" x="406.2" y="107.2" width="18.0" height="9.3"/><rect class="c2" x="423.5" y="107.2" width="9.3" height="9.3"/><rect class="c3" x="432.2" y="107.2" width="52.7" height="9.3"/><rect class="c7" x="484.4" y="107.2" width="9.3" height="9.3"/><rect class="c3" x="493.1" y="107.2" width="9.3" height="9.3"/><rect class="c5" x="501.8" y="107.2" width="9.3" height="9.3"/><rect class="c1" x="510.4" y="107.2" width="9.3" height="9.3"/><rect class="c6" x="519.1" y="107.2" width="9.3" height="9.3"/><rect class="c1" x="527.8" y="107.2" width="9.3" height="9.3"/><rect class="c3" x="536.5" y="107.2" width="9.3" height="9.3"/><rect class="c2" x="545.2" y="107.2" width="9.3" height="9.3"/><rect class="c1" x="553.9" y="107.2" width="44.0" height="9.3"/><rect class="c10" x="597.4" y="107.2" width="9.3" height="9.3"/><rect class="c3" x="606.0" y="107.2" width="9.3" height="9.3"/><rect class="c1" x="614.7" y="107.2" width="9.3" height="9.3"/><rect class="c2" x="623.4" y="107.2" width="9.3" height="9.3"/><rect class="c1" x="632.1" y="107.2" width="18.0" height="9.3"/><rect class="c3" x="649.5" y="107.2" width="26.7" height="9.3"/><rect class="c1" x="675.6" y="107.2" width="8.7" height="9.3"/><rect class="c3" x="162.8" y="115.9" width="26.7" height="9.3"/><rect class="c1" x="188.9" y="115.9" width="9.3" height="9.3"/><rect class="c7" x="197.6" y="115.9" width="9.3" height="9.3"/><rect class="c1" x="206.3" y="115.9" width="9.3" height="9.3"/><rect class="c4" x="215.0" y="115.9" width="9.3" height="9.3"/><rect class="c2" x="223.7" y="115.9" width="9.3" height="9.3"/><rect class="c6" x="232.4" y="115.9" width="18.0" height="9.3"/><rect class="c8" x="249.8" y="115.9" width="9.3" height="9.3"/><rect class="c3" x="258.4" y="115.9" width="9.3" height="9.3"/><rect class="c9" x="267.1" y="115.9" width="9.3" height="9.3"/><rect class="c3" x="275.8" y="115.9" width="9.3" height="9.3"/><rect class="c8" x="284.5" y="115.9" width="9.3" height="9.3"/><rect class="c10" x="293.2" y="115.9" width="9.3" height="9.3"/><rect class="c3" x="301.9" y="115.9" width="9.3" height="9.3"/><rect class="c7" x="310.6" y="115.9" width="9.3" height="9.3"/><rect class="c6" x="319.3" y="115.9" width="9.3" height="9.3"/><rect class="c4" x="328.0" y="115.9" width="9.3" height="9.3"/><rect class="c2" x="336.6" y="115.9" width="9.3" height="9.3"/><rect class="c1" x="345.3" y="115.9" width="9.3" height="9.3"/><rect class="c6" x="354.0" y="115.9" width="18.0" height="9.3"/><rect class="c2" x="371.4" y="115.9" width="9.3" height="9.3"/><rect class="c3" x="380.1" y="115.9" width="9.3" height="9.3"/><rect class="c1" x="388.8" y="115.9" width="9.3" height="9.3"/><rect class="c6" x="397.5" y="115.9" width="9.3" height="9.3"/><rect class="c2" x="406.2" y="115.9" width="18.0" height="9.3"/><rect class="c6" x="423.5" y="115.9" width="9.3" height="9.3"/><rect class="c1" x="432.2" y="115.9" width="9.3" height="9.3"/><rect class="c5" x="440.9" y="115.9" width="9.3" height="9.3"/><rect class="c2" x="449.6" y="115.9" width="18.0" height="9.3"/><rect class="c1" x="467.0" y="115.9" width="18.0" height="9.3"/><rect class="c2" x="484.4" y="115.9" width="26.7" height="9.3"/><rect class="c8" x="510.4" y="115.9" width="9.3" height="9.3"/><rect class="c5" x="519.1" y="115.9" width="9.3" height="9.3"/><rect class="c1" x="527.8" y="115.9" width="18.0" height="9.3"/><rect class="c3" x="545.2" y="115.9" width="18.0" height="9.3"/><rect class="c1" x="562.6" y="115.9" width="18.0" height="9.3"/><rect class="c8" x="580.0" y="115.9" width="9.3" height="9.3"/><rect class="c2" x="588.7" y="115.9" width="18.0" height="9.3"/><rect class="c5" x="606.0" y="115.9" width="9.3" height="9.3"/><rect class="c7" x="614.7" y="115.9" width="9.3" height="9.3"/><rect class="c8" x="623.4" y="115.9" width="9.3" height="9.3"/><rect class="c3" x="632.1" y="115.9" width="9.3" height="9.3"/><rect class="c1" x="640.8" y="115.9" width="9.3" height="9.3"/><rect class="c5" x="649.5" y="115.9" width="9.3" height="9.3"/><rect class="c3" x="658.2" y="115.9" width="9.3" height="9.3"/><rect class="c1" x="666.9" y="115.9" width="9.3" height="9.3"/><rect class="c2" x="675.6" y="115.9" width="8.7" height="9.3"/><rect class="c5" x="162.8" y="124.6" width="9.3" height="9.3"/><rect class="c6" x="171.5" y="124.6" width="9.3" height="9.3"/><rect class="c3" x="180.2" y="124.6" width="18.0" height="9.3"/><rect class="c1" x="197.6" y="124.6" width="9.3" height="9.3"/><rect class="c2" x="206.3" y="124.6" width="9.3" height="9.3"/><rect class="c10" x="215.0" y="124.6" width="9.3" height="9.3"/><rect class="c6" x="223.7" y="124.6" width="9.3" height="9.3"/><rect class="c5" x="232.4" y="124.6" width="9.3" height="9.3"/><rect class="c6" x="241.1" y="124.6" width="9.3" height="9.3"/><rect class="c4" x="249.8" y="124.6" width="9.3" height="9.3"/><rect class="c1" x="258.4" y="124.6" width="9.3" height="9.3"/><rect class="c6" x="267.1" y="124.6" width="9.3" height="9.3"/><rect class="c7" x="275.8" y="124.6" width="9.3" height="9.3"/><rect class="c3" x="284.5" y="124.6" width="9.3" height="9.3"/><rect class="c5" x="293.2" y="124.6" width="18.0" height="9.3"/><rect class="c3" x="310.6" y="124.6" width="18.0" height="9.3"/><rect class="c2" x="328.0" y="124.6" width="9.3" height="9.3"/><rect class="c5" x="336.6" y="124.6" width="9.3" height="9.3"/><rect class="c1" x="345.3" y="124.6" width="9.3" height="9.3"/><rect class="c2" x="354.0" y="124.6" width="9.3" height="9.3"/><rect class="c6" x="362.7" y="124.6" width="9.3" height="9.3"/><rect class="c2" x="371.4" y="124.6" width="9.3" height="9.3"/><rect class="c5" x="380.1" y="124.6" width="9.3" height="9.3"/><rect class="c1" x="388.8" y="124.6" width="9.3" height="9.3"/><rect class="c5" x="397.5" y="124.6" width="9.3" height="9.3"/><rect class="c2" x="406.2" y="124.6" width="18.0" height="9.3"/><rect class="c4" x="423.5" y="124.6" width="9.3" height="9.3"/><rect class="c5" x="432.2" y="124.6" width="9.3" height="9.3"/><rect class="c2" x="440.9" y="124.6" width="9.3" height="9.3"/><rect class="c1" x="449.6" y="124.6" width="9.3" height="9.3"/><rect class="c2" x="458.3" y="124.6" width="9.3" height="9.3"/><rect class="c6" x="467.0" y="124.6" width="18.0" height="9.3"/><rect class="c3" x="484.4" y="124.6" width="9.3" height="9.3"/><rect class="c1" x="493.1" y="124.6" width="9.3" height="9.3"/><rect class="c10" x="501.8" y="124.6" width="9.3" height="9.3"/><rect class="c3" x="510.4" y="124.6" width="9.3" height="9.3"/><rect class="c4" x="519.1" y="124.6" width="9.3" height="9.3"/><rect class="c6" x="527.8" y="124.6" width="9.3" height="9.3"/><rect class="c2" x="536.5" y="124.6" width="9.3" height="9.3"/><rect class="c5" x="545.2" y="124.6" width="9.3" height="9.3"/><rect class="c2" x="553.9" y="124.6" width="18.0" height="9.3"/><rect class="c6" x="571.3" y="124.6" width="9.3" height="9.3"/><rect class="c2" x="580.0" y="124.6" width="18.0" height="9.3"/><rect class="c11" x="597.4" y="124.6" width="9.3" height="9.3"/><rect class="c5" x="606.0" y="124.6" width="9.3" height="9.3"/><rect class="c2" x="614.7" y="124.6" width="9.3" height="9.3"/><rect class="c5" x="623.4" y="124.6" width="9.3" height="9.3"/><rect class="c6" x="632.1" y="124.6" width="9.3" height="9.3"/><rect class="c2" x="640.8" y="124.6" width="9.3" height="9.3"/><rect class="c4" x="649.5" y="124.6" width="9.3" height="9.3"/><rect class="c6" x="658.2" y="124.6" width="9.3" height="9.3"/><rect class="c2" x="666.9" y="124.6" width="17.4" height="9.3"/><rect class="c2" x="162.8" y="133.3" width="9.3" height="9.3"/><rect class="c3" x="171.5" y="133.3" width="26.7" height="9.3"/><rect class="c7" x="197.6" y="133.3" width="9.3" height="9.3"/><rect class="c1" x="206.3" y="133.3" width="9.3" height="9.3"/><rect class="c5" x="215.0" y="133.3" width="9.3" height="9.3"/><rect class="c3" x="223.7" y="133.3" width="9.3" height="9.3"/><rect class="c5" x="232.4" y="133.3" width="9.3" height="9.3"/><rect class="c2" x="241.1" y="133.3" width="18.0" height="9.3"/><rect class="c1" x="258.4" y="133.3" width="9.3" height="9.3"/><rect class="c7" x="267.1" y="133.3" width="9.3" height="9.3"/><rect class="c1" x="275.8" y="133.3" width="9.3" height="9.3"/><rect class="c9" x="284.5" y="133.3" width="9.3" height="9.3"/><rect class="c5" x="293.2" y="133.3" width="9.3" height="9.3"/><rect class="c2" x="301.9" y="133.3" width="9.3" height="9.3"/><rect class="c8" x="310.6" y="133.3" width="9.3" height="9.3"/><rect class="c3" x="319.3" y="133.3" width="9.3" height="9.3"/><rect class="c6" x="328.0" y="133.3" width="9.3" height="9.3"/><rect class="c2" x="336.6" y="133.3" width="9.3" height="9.3"/><rect class="c7" x="345.3" y="133.3" width="9.3" height="9.3"/><rect class="c3" x="354.0" y="133.3" width="18.0" height="9.3"/><rect class="c1" x="371.4" y="133.3" width="9.3" height="9.3"/><rect class="c3" x="380.1" y="133.3" width="9.3" height="9.3"/><rect class="c7" x="388.8" y="133.3" width="9.3" height="9.3"/><rect class="c6" x="397.5" y="133.3" width="9.3" height="9.3"/><rect class="c1" x="406.2" y="133.3" width="9.3" height="9.3"/><rect class="c3" x="414.9" y="133.3" width="9.3" height="9.3"/><rect class="c2" x="423.5" y="133.3" width="9.3" height="9.3"/><rect class="c1" x="432.2" y="133.3" width="9.3" height="9.3"/><rect class="c2" x="440.9" y="133.3" width="18.0" height="9.3"/><rect class="c3" x="458.3" y="133.3" width="9.3" height="9.3"/><rect class="c1" x="467.0" y="133.3" width="35.4" height="9.3"/><rect class="c2" x="501.8" y="133.3" width="9.3" height="9.3"/><rect class="c7" x="510.4" y="133.3" width="9.3" height="9.3"/><rect class="c2" x="519.1" y="133.3" width="9.3" height="9.3"/><rect class="c3" x="527.8" y="133.3" width="9.3" height="9.3"/><rect class="c1" x="536.5" y="133.3" width="9.3" height="9.3"/><rect class="c8" x="545.2" y="133.3" width="9.3" height="9.3"/><rect class="c3" x="553.9" y="133.3" width="9.3" height="9.3"/><rect class="c1" x="562.6" y="133.3" width="9.3" height="9.3"/><rect class="c3" x="571.3" y="133.3" width="9.3" height="9.3"/><rect class="c8" x="580.0" y="133.3" width="9.3" height="9.3"/><rect class="c3" x="588.7" y="133.3" width="9.3" height="9.3"/><rect class="c5" x="597.4" y="133.3" width="9.3" height="9.3"/><rect class="c2" x="606.0" y="133.3" width="9.3" height="9.3"/><rect class="c8" x="614.7" y="133.3" width="9.3" height="9.3"/><rect class="c1" x="623.4" y="133.3" width="9.3" height="9.3"/><rect class="c3" x="632.1" y="133.3" width="9.3" height="9.3"/><rect class="c8" x="640.8" y="133.3" width="9.3" height="9.3"/><rect class="c6" x="649.5" y="133.3" width="9.3" height="9.3"/><rect class="c3" x="658.2" y="133.3" width="9.3" height="9.3"/><rect class="c1" x="666.9" y="133.3" width="17.4" height="9.3"/><rect class="c4" x="162.8" y="142.0" width="9.3" height="9.3"/><rect class="c5" x="171.5" y="142.0" width="9.3" height="9.3"/><rect class="c6" x="180.2" y="142.0" width="9.3" height="9.3"/><rect class="c10" x="188.9" y="142.0" width="9.3" height="9.3"/><rect class="c4" x="197.6" y="142.0" width="9.3" height="9.3"/><rect class="c6" x="206.3" y="142.0" width="9.3" height="9.3"/><rect class="c4" x="215.0" y="142.0" width="9.3" height="9.3"/><rect class="c5" x="223.7" y="142.0" width="9.3" height="9.3"/><rect class="c6" x="232.4" y="142.0" width="9.3" height="9.3"/><rect class="c2" x="241.1" y="142.0" width="9.3" height="9.3"/><rect class="c11" x="249.8" y="142.0" width="9.3" height="9.3"/><rect class="c6" x="258.4" y="142.0" width="9.3" height="9.3"/><rect class="c10" x="267.1" y="142.0" width="9.3" height="9.3"/><rect class="c5" x="275.8" y="142.0" width="18.0" height="9.3"/><rect class="c9" x="293.2" y="142.0" width="9.3" height="9.3"/><rect class="c5" x="301.9" y="142.0" width="18.0" height="9.3"/><rect class="c1" x="319.3" y="142.0" width="9.3" height="9.3"/><rect class="c8" x="328.0" y="142.0" width="9.3" height="9.3"/><rect class="c6" x="336.6" y="142.0" width="9.3" height="9.3"/><rect class="c5" x="345.3" y="142.0" width="9.3" height="9.3"/><rect class="c8" x="354.0" y="142.0" width="9.3" height="9.3"/><rect class="c2" x="362.7" y="142.0" width="9.3" height="9.3"/><rect class="c1" x="371.4" y="142.0" width="9.3" height="9.3"/><rect class="c4" x="380.1" y="142.0" width="9.3" height="9.3"/><rect class="c2" x="388.8" y="142.0" width="9.3" height="9.3"/><rect class="c4" x="397.5" y="142.0" width="9.3" height="9.3"/><rect class="c3" x="406.2" y="142.0" width="9.3" height="9.3"/><rect class="c1" x="414.9" y="142.0" width="9.3" height="9.3"/><rect class="c4" x="423.5" y="142.0" width="18.0" height="9.3"/><rect class="c2" x="440.9" y="142.0" width="9.3" height="9.3"/><rect class="c5" x="449.6" y="142.0" width="9.3" height="9.3"/><rect class="c1" x="458.3" y="142.0" width="9.3" height="9.3"/><rect class="c10" x="467.0" y="142.0" width="9.3" height="9.3"/><rect class="c4" x="475.7" y="142.0" width="9.3" height="9.3"/><rect class="c3" x="484.4" y="142.0" width="18.0" height="9.3"/><rect class="c12" x="501.8" y="142.0" width="9.3" height="9.3"/><rect class="c5" x="510.4" y="142.0" width="9.3" height="9.3"/><rect class="c10" x="519.1" y="142.0" width="9.3" height="9.3"/><rect class="c4" x="527.8" y="142.0" width="9.3" height="9.3"/><rect class="c3" x="536.5" y="142.0" width="9.3" height="9.3"/><rect class="c11" x="545.2" y="142.0" width="9.3" height="9.3"/><rect class="c5" x="553.9" y="142.0" width="9.3" height="9.3"/><rect class="c6" x="562.6" y="142.0" width="9.3" height="9.3"/><rect class="c5" x="571.3" y="142.0" width="9.3" height="9.3"/><rect class="c6" x="580.0" y="142.0" width="9.3" height="9.3"/><rect class="c3" x="588.7" y="142.0" width="9.3" height="9.3"/><rect class="c12" x="597.4" y="142.0" width="9.3" height="9.3"/><rect class="c1" x="606.0" y="142.0" width="9.3" height="9.3"/><rect class="c4" x="614.7" y="142.0" width="9.3" height="9.3"/><rect class="c13" x="623.4" y="142.0" width="9.3" height="9.3"/><rect class="c6" x="632.1" y="142.0" width="9.3" height="9.3"/><rect class="c5" x="640.8" y="142.0" width="18.0" height="9.3"/><rect class="c11" x="658.2" y="142.0" width="9.3" height="9.3"/><rect class="c4" x="666.9" y="142.0" width="9.3" height="9.3"/><rect class="c2" x="675.6" y="142.0" width="8.7" height="9.3"/><rect class="c3" x="162.8" y="150.7" width="9.3" height="9.3"/><rect class="c1" x="171.5" y="150.7" width="9.3" height="9.3"/><rect class="c2" x="180.2" y="150.7" width="26.7" height="9.3"/><rect class="c3" x="206.3" y="150.7" width="9.3" height="9.3"/><rect class="c5" x="215.0" y="150.7" width="9.3" height="9.3"/><rect class="c2" x="223.7" y="150.7" width="44.0" height="9.3"/><rect class="c3" x="267.1" y="150.7" width="9.3" height="9.3"/><rect class="c6" x="275.8" y="150.7" width="9.3" height="9.3"/><rect class="c2" x="284.5" y="150.7" width="9.3" height="9.3"/><rect class="c5" x="293.2" y="150.7" width="9.3" height="9.3"/><rect class="c0" x="301.9" y="150.7" width="9.3" height="9.3"/><rect class="c1" x="310.6" y="150.7" width="9.3" height="9.3"/><rect class="c6" x="319.3" y="150.7" width="9.3" height="9.3"/><rect class="c5" x="328.0" y="150.7" width="9.3" height="9.3"/><rect class="c3" x="336.6" y="150.7" width="9.3" height="9.3"/><rect class="c2" x="345.3" y="150.7" width="9.3" height="9.3"/><rect class="c3" x="354.0" y="150.7" width="9.3" height="9.3"/><rect class="c2" x="362.7" y="150.7" width="9.3" height="9.3"/><rect class="c3" x="371.4" y="150.7" width="9.3" height="9.3"/><rect class="c2" x="380.1" y="150.7" width="35.4" height="9.3"/><rect class="c3" x="414.9" y="150.7" width="9.3" height="9.3"/><rect class="c2" x="423.5" y="150.7" width="18.0" height="9.3"/><rect class="c6" x="440.9" y="150.7" width="9.3" height="9.3"/><rect class="c2" x="449.6" y="150.7" width="9.3" height="9.3"/><rect class="c3" x="458.3" y="150.7" width="26.7" height="9.3"/><rect class="c6" x="484.4" y="150.7" width="9.3" height="9.3"/><rect class="c2" x="493.1" y="150.7" width="9.3" height="9.3"/><rect class="c5" x="501.8" y="150.7" width="9.3" height="9.3"/><rect class="c3" x="510.4" y="150.7" width="9.3" height="9.3"/><rect class="c4" x="519.1" y="150.7" width="9.3" height="9.3"/><rect class="c3" x="527.8" y="150.7" width="9.3" height="9.3"/><rect class="c1" x="536.5" y="150.7" width="9.3" height="9.3"/><rect class="c2" x="545.2" y="150.7" width="9.3" height="9.3"/><rect class="c3" x="553.9" y="150.7" width="44.0" height="9.3"/><rect class="c2" x="597.4" y="150.7" width="26.7" height="9.3"/><rect class="c5" x="623.4" y="150.7" width="9.3" height="9.3"/><rect class="c1" x="632.1" y="150.7" width="9.3" height="9.3"/><rect class="c6" x="640.8" y="150.7" width="9.3" height="9.3"/><rect class="c4" x="649.5" y="150.7" width="9.3" height="9.3"/><rect class="c5" x="658.2" y="150.7" width="9.3" height="9.3"/><rect class="c2" x="666.9" y="150.7" width="17.4" height="9.3"/><rect class="c3" x="162.8" y="159.4" width="9.3" height="9.3"/><rect class="c1" x="171.5" y="159.4" width="26.7" height="9.3"/><rect class="c0" x="197.6" y="159.4" width="9.3" height="9.3"/><rect class="c7" x="206.3" y="159.4" width="9.3" height="9.3"/><rect class="c2" x="215.0" y="159.4" width="9.3" height="9.3"/><rect class="c8" x="223.7" y="159.4" width="9.3" height="9.3"/><rect class="c3" x="232.4" y="159.4" width="18.0" height="9.3"/><rect class="c8" x="249.8" y="159.4" width="9.3" height="9.3"/><rect class="c1" x="258.4" y="159.4" width="9.3" height="9.3"/><rect class="c7" x="267.1" y="159.4" width="9.3" height="9.3"/><rect class="c3" x="275.8" y="159.4" width="9.3" height="9.3"/><rect class="c8" x="284.5" y="159.4" width="9.3" height="9.3"/><rect class="c5" x="293.2" y="159.4" width="9.3" height="9.3"/><rect class="c3" x="301.9" y="159.4" width="9.3" height="9.3"/><rect class="c14" x="310.6" y="159.4" width="9.3" height="9.3"/><rect class="c2" x="319.3" y="159.4" width="9.3" height="9.3"/><rect class="c6" x="328.0" y="159.4" width="9.3" height="9.3"/><rect class="c1" x="336.6" y="159.4" width="18.0" height="9.3"/><rect class="c3" x="354.0" y="159.4" width="9.3" height="9.3"/><rect class="c1" x="362.7" y="159.4" width="18.0" height="9.3"/><rect class="c8" x="380.1" y="159.4" width="18.0" height="9.3"/><rect class="c2" x="397.5" y="159.4" width="9.3" height="9.3"/><rect class="c8" x="406.2" y="159.4" width="9.3" height="9.3"/><rect class="c1" x="414.9" y="159.4" width="18.0" height="9.3"/><rect class="c7" x="432.2" y="159.4" width="9.3" height="9.3"/><rect class="c3" x="440.9" y="159.4" width="9.3" height="9.3"/><rect class="c2" x="449.6" y="159.4" width="9.3" height="9.3"/><rect class="c1" x="458.3" y="159.4" width="9.3" height="9.3"/><rect class="c7" x="467.0" y="159.4" width="9.3" height="9.3"/><rect class="c1" x="475.7" y="159.4" width="18.0" height="9.3"/><rect class="c3" x="493.1" y="159.4" width="9.3" height="9.3"/><rect class="c1" x="501.8" y="159.4" width="9.3" height="9.3"/><rect class="c0" x="510.4" y="159.4" width="9.3" height="9.3"/><rect class="c3" x="519.1" y="159.4" width="9.3" height="9.3"/><rect class="c1" x="527.8" y="159.4" width="18.0" height="9.3"/><rect class="c7" x="545.2" y="159.4" width="9.3" height="9.3"/><rect class="c3" x="553.9" y="159.4" width="9.3" height="9.3"/><rect class="c8" x="562.6" y="159.4" width="9.3" height="9.3"/><rect class="c7" x="571.3" y="159.4" width="9.3" height="9.3"/><rect class="c8" x="580.0" y="159.4" width="9.3" height="9.3"/><rect class="c3" x="588.7" y="159.4" width="9.3" height="9.3"/><rect class="c2" x="597.4" y="159.4" width="18.0" height="9.3"/><rect class="c8" x="614.7" y="159.4" width="18.0" height="9.3"/><rect class="c7" x="632.1" y="159.4" width="9.3" height="9.3"/><rect class="c1" x="640.8" y="159.4" width="9.3" height="9.3"/><rect class="c5" x="649.5" y="159.4" width="9.3" height="9.3"/><rect class="c3" x="658.2" y="159.4" width="9.3" height="9.3"/><rect class="c0" x="666.9" y="159.4" width="9.3" height="9.3"/><rect class="c1" x="675.6" y="159.4" width="8.7" height="9.3"/><rect class="c6" x="162.8" y="168.1" width="9.3" height="9.3"/><rect class="c2" x="171.5" y="168.1" width="9.3" height="9.3"/><rect class="c1" x="180.2" y="168.1" width="9.3" height="9.3"/><rect class="c6" x="188.9" y="168.1" width="9.3" height="9.3"/><rect class="c2" x="197.6" y="168.1" width="9.3" height="9.3"/><rect class="c3" x="206.3" y="168.1" width="9.3" height="9.3"/><rect class="c4" x="215.0" y="168.1" width="9.3" height="9.3"/><rect class="c2" x="223.7" y="168.1" width="18.0" height="9.3"/><rect class="c3" x="241.1" y="168.1" width="9.3" height="9.3"/><rect class="c4" x="249.8" y="168.1" width="9.3" height="9.3"/><rect class="c3" x="258.4" y="168.1" width="9.3" height="9.3"/><rect class="c6" x="267.1" y="168.1" width="9.3" height="9.3"/><rect class="c3" x="275.8" y="168.1" width="26.7" height="9.3"/><rect class="c2" x="301.9" y="168.1" width="18.0" height="9.3"/><rect class="c9" x="319.3" y="168.1" width="9.3" height="9.3"/><rect class="c1" x="328.0" y="168.1" width="9.3" height="9.3"/><rect class="c2" x="336.6" y="168.1" width="9.3" height="9.3"/><rect class="c1" x="345.3" y="168.1" width="9.3" height="9.3"/><rect class="c7" x="354.0" y="168.1" width="9.3" height="9.3"/><rect class="c1" x="362.7" y="168.1" width="9.3" height="9.3"/><rect class="c5" x="371.4" y="168.1" width="9.3" height="9.3"/><rect class="c8" x="380.1" y="168.1" width="9.3" height="9.3"/><rect class="c5" x="388.8" y="168.1" width="9.3" height="9.3"/><rect class="c6" x="397.5" y="168.1" width="9.3" height="9.3"/><rect class="c1" x="406.2" y="168.1" width="18.0" height="9.3"/><rect class="c5" x="423.5" y="168.1" width="9.3" height="9.3"/><rect class="c2" x="432.2" y="168.1" width="18.0" height="9.3"/><rect class="c3" x="449.6" y="168.1" width="9.3" height="9.3"/><rect class="c8" x="458.3" y="168.1" width="9.3" height="9.3"/><rect class="c6" x="467.0" y="168.1" width="9.3" height="9.3"/><rect class="c2" x="475.7" y="168.1" width="9.3" height="9.3"/><rect class="c7" x="484.4" y="168.1" width="9.3" height="9.3"/><rect class="c8" x="493.1" y="168.1" width="9.3" height="9.3"/><rect class="c10" x="501.8" y="168.1" width="9.3" height="9.3"/><rect class="c1" x="510.4" y="168.1" width="9.3" height="9.3"/><rect class="c5" x="519.1" y="168.1" width="9.3" height="9.3"/><rect class="c2" x="527.8" y="168.1" width="9.3" height="9.3"/><rect class="c8" x="536.5" y="168.1" width="9.3" height="9.3"/><rect class="c5" x="545.2" y="168.1" width="9.3" height="9.3"/><rect class="c3" x="553.9" y="168.1" width="9.3" height="9.3"/><rect class="c2" x="562.6" y="168.1" width="9.3" height="9.3"/><rect class="c3" x="571.3" y="168.1" width="18.0" height="9.3"/><rect class="c1" x="588.7" y="168.1" width="9.3" height="9.3"/><rect class="c11" x="597.4" y="168.1" width="9.3" height="9.3"/><rect class="c1" x="606.0" y="168.1" width="9.3" height="9.3"/><rect class="c2" x="614.7" y="168.1" width="9.3" height="9.3"/><rect class="c4" x="623.4" y="168.1" width="9.3" height="9.3"/><rect class="c2" x="632.1" y="168.1" width="18.0" height="9.3"/><rect class="c6" x="649.5" y="168.1" width="18.0" height="9.3"/><rect class="c2" x="666.9" y="168.1" width="9.3" height="9.3"/><rect class="c7" x="675.6" y="168.1" width="8.7" height="9.3"/><rect class="c4" x="162.8" y="176.8" width="9.3" height="9.3"/><rect class="c6" x="171.5" y="176.8" width="9.3" height="9.3"/><rect class="c2" x="180.2" y="176.8" width="9.3" height="9.3"/><rect class="c4" x="188.9" y="176.8" width="9.3" height="9.3"/><rect class="c5" x="197.6" y="176.8" width="9.3" height="9.3"/><rect class="c6" x="206.3" y="176.8" width="9.3" height="9.3"/><rect class="c10" x="215.0" y="176.8" width="9.3" height="9.3"/><rect class="c5" x="223.7" y="176.8" width="9.3" height="9.3"/><rect class="c6" x="232.4" y="176.8" width="9.3" height="9.3"/><rect class="c2" x="241.1" y="176.8" width="9.3" height="9.3"/><rect class="c11" x="249.8" y="176.8" width="9.3" height="9.3"/><rect class="c2" x="258.4" y="176.8" width="9.3" height="9.3"/><rect class="c4" x="267.1" y="176.8" width="9.3" height="9.3"/><rect class="c2" x="275.8" y="176.8" width="9.3" height="9.3"/><rect class="c5" x="284.5" y="176.8" width="9.3" height="9.3"/><rect class="c8" x="293.2" y="176.8" width="9.3" height="9.3"/><rect class="c5" x="301.9" y="176.8" width="9.3" height="9.3"/><rect class="c6" x="310.6" y="176.8" width="9.3" height="9.3"/><rect class="c8" x="319.3" y="176.8" width="9.3" height="9.3"/><rect class="c7" x="328.0" y="176.8" width="9.3" height="9.3"/><rect class="c5" x="336.6" y="176.8" width="9.3" height="9.3"/><rect class="c2" x="345.3" y="176.8" width="9.3" height="9.3"/><rect class="c8" x="354.0" y="176.8" width="9.3" height="9.3"/><rect class="c2" x="362.7" y="176.8" width="9.3" height="9.3"/><rect class="c8" x="371.4" y="176.8" width="9.3" height="9.3"/><rect class="c10" x="380.1" y="176.8" width="9.3" height="9.3"/><rect class="c3" x="388.8" y="176.8" width="9.3" height="9.3"/><rect class="c4" x="397.5" y="176.8" width="9.3" height="9.3"/><rect class="c2" x="406.2" y="176.8" width="9.3" height="9.3"/><rect class="c3" x="414.9" y="176.8" width="9.3" height="9.3"/><rect class="c4" x="423.5" y="176.8" width="18.0" height="9.3"/><rect class="c2" x="440.9" y="176.8" width="18.0" height="9.3"/><rect class="c1" x="458.3" y="176.8" width="9.3" height="9.3"/><rect class="c4" x="467.0" y="176.8" width="9.3" height="9.3"/><rect class="c5" x="475.7" y="176.8" width="9.3" height="9.3"/><rect class="c3" x="484.4" y="176.8" width="9.3" height="9.3"/><rect class="c1" x="493.1" y="176.8" width="9.3" height="9.3"/><rect class="c13" x="501.8" y="176.8" width="9.3" height="9.3"/><rect class="c5" x="510.4" y="176.8" width="9.3" height="9.3"/><rect class="c11" x="519.1" y="176.8" width="9.3" height="9.3"/><rect class="c4" x="527.8" y="176.8" width="9.3" height="9.3"/><rect class="c1" x="536.5" y="176.8" width="9.3" height="9.3"/><rect class="c11" x="545.2" y="176.8" width="9.3" height="9.3"/><rect class="c6" x="553.9" y="176.8" width="26.7" height="9.3"/><rect class="c2" x="580.0" y="176.8" width="18.0" height="9.3"/><rect class="c13" x="597.4" y="176.8" width="9.3" height="9.3"/><rect class="c1" x="606.0" y="176.8" width="9.3" height="9.3"/><rect class="c5" x="614.7" y="176.8" width="9.3" height="9.3"/><rect class="c13" x="623.4" y="176.8" width="9.3" height="9.3"/><rect class="c5" x="632.1" y="176.8" width="18.0" height="9.3"/><rect class="c4" x="649.5" y="176.8" width="9.3" height="9.3"/><rect class="c10" x="658.2" y="176.8" width="9.3" height="9.3"/><rect class="c4" x="666.9" y="176.8" width="9.3" height="9.3"/><rect class="c3" x="675.6" y="176.8" width="8.7" height="9.3"/><rect class="c3" x="162.8" y="185.4" width="9.3" height="9.3"/><rect class="c7" x="171.5" y="185.4" width="9.3" height="9.3"/><rect class="c2" x="180.2" y="185.4" width="9.3" height="9.3"/><rect class="c5" x="188.9" y="185.4" width="9.3" height="9.3"/><rect class="c2" x="197.6" y="185.4" width="9.3" height="9.3"/><rect class="c1" x="206.3" y="185.4" width="18.0" height="9.3"/><rect class="c3" x="223.7" y="185.4" width="9.3" height="9.3"/><rect class="c8" x="232.4" y="185.4" width="18.0" height="9.3"/><rect class="c2" x="249.8" y="185.4" width="9.3" height="9.3"/><rect class="c3" x="258.4" y="185.4" width="9.3" height="9.3"/><rect class="c2" x="267.1" y="185.4" width="9.3" height="9.3"/><rect class="c6" x="275.8" y="185.4" width="9.3" height="9.3"/><rect class="c2" x="284.5" y="185.4" width="9.3" height="9.3"/><rect class="c6" x="293.2" y="185.4" width="9.3" height="9.3"/><rect class="c3" x="301.9" y="185.4" width="9.3" height="9.3"/><rect class="c1" x="310.6" y="185.4" width="9.3" height="9.3"/><rect class="c2" x="319.3" y="185.4" width="9.3" height="9.3"/><rect class="c5" x="328.0" y="185.4" width="9.3" height="9.3"/><rect class="c9" x="336.6" y="185.4" width="9.3" height="9.3"/><rect class="c6" x="345.3" y="185.4" width="9.3" height="9.3"/><rect class="c3" x="354.0" y="185.4" width="9.3" height="9.3"/><rect class="c8" x="362.7" y="185.4" width="9.3" height="9.3"/><rect class="c1" x="371.4" y="185.4" width="18.0" height="9.3"/><rect class="c2" x="388.8" y="185.4" width="9.3" height="9.3"/><rect class="c3" x="397.5" y="185.4" width="18.0" height="9.3"/><rect class="c8" x="414.9" y="185.4" width="9.3" height="9.3"/><rect class="c7" x="423.5" y="185.4" width="9.3" height="9.3"/><rect class="c3" x="432.2" y="185.4" width="18.0" height="9.3"/><rect class="c6" x="449.6" y="185.4" width="9.3" height="9.3"/><rect class="c1" x="458.3" y="185.4" width="9.3" height="9.3"/><rect class="c3" x="467.0" y="185.4" width="9.3" height="9.3"/><rect class="c2" x="475.7" y="185.4" width="9.3" height="9.3"/><rect class="c3" x="484.4" y="185.4" width="9.3" height="9.3"/><rect class="c2" x="493.1" y="185.4" width="18.0" height="9.3"/><rect class="c1" x="510.4" y="185.4" width="9.3" height="9.3"/><rect class="c6" x="519.1" y="185.4" width="9.3" height="9.3"/><rect class="c1" x="527.8" y="185.4" width="9.3" height="9.3"/><rect class="c2" x="536.5" y="185.4" width="26.7" height="9.3"/><rect class="c3" x="562.6" y="185.4" width="9.3" height="9.3"/><rect class="c8" x="571.3" y="185.4" width="9.3" height="9.3"/><rect class="c3" x="580.0" y="185.4" width="9.3" height="9.3"/><rect class="c8" x="588.7" y="185.4" width="9.3" height="9.3"/><rect class="c5" x="597.4" y="185.4" width="9.3" height="9.3"/><rect class="c1" x="606.0" y="185.4" width="9.3" height="9.3"/><rect class="c2" x="614.7" y="185.4" width="9.3" height="9.3"/><rect class="c5" x="623.4" y="185.4" width="9.3" height="9.3"/><rect class="c8" x="632.1" y="185.4" width="9.3" height="9.3"/><rect class="c2" x="640.8" y="185.4" width="18.0" height="9.3"/><rect class="c5" x="658.2" y="185.4" width="9.3" height="9.3"/><rect class="c8" x="666.9" y="185.4" width="9.3" height="9.3"/><rect class="c2" x="675.6" y="185.4" width="8.7" height="9.3"/><rect class="c3" x="162.8" y="194.1" width="9.3" height="9.3"/><rect class="c2" x="171.5" y="194.1" width="9.3" height="9.3"/><rect class="c1" x="180.2" y="194.1" width="18.0" height="9.3"/><rect class="c7" x="197.6" y="194.1" width="9.3" height="9.3"/><rect class="c2" x="206.3" y="194.1" width="9.3" height="9.3"/><rect class="c4" x="215.0" y="194.1" width="9.3" height="9.3"/><rect class="c2" x="223.7" y="194.1" width="9.3" height="9.3"/><rect class="c5" x="232.4" y="194.1" width="9.3" height="9.3"/><rect class="c6" x="241.1" y="194.1" width="9.3" height="9.3"/><rect class="c2" x="249.8" y="194.1" width="9.3" height="9.3"/><rect class="c1" x="258.4" y="194.1" width="9.3" height="9.3"/><rect class="c8" x="267.1" y="194.1" width="9.3" height="9.3"/><rect class="c1" x="275.8" y="194.1" width="9.3" height="9.3"/><rect class="c7" x="284.5" y="194.1" width="9.3" height="9.3"/><rect class="c5" x="293.2" y="194.1" width="9.3" height="9.3"/><rect class="c2" x="301.9" y="194.1" width="9.3" height="9.3"/><rect class="c1" x="310.6" y="194.1" width="9.3" height="9.3"/><rect class="c3" x="319.3" y="194.1" width="9.3" height="9.3"/><rect class="c2" x="328.0" y="194.1" width="9.3" height="9.3"/><rect class="c6" x="336.6" y="194.1" width="9.3" height="9.3"/><rect class="c9" x="345.3" y="194.1" width="9.3" height="9.3"/><rect class="c3" x="354.0" y="194.1" width="9.3" height="9.3"/><rect class="c6" x="362.7" y="194.1" width="9.3" height="9.3"/><rect class="c3" x="371.4" y="194.1" width="9.3" height="9.3"/><rect class="c2" x="380.1" y="194.1" width="9.3" height="9.3"/><rect class="c1" x="388.8" y="194.1" width="9.3" height="9.3"/><rect class="c5" x="397.5" y="194.1" width="9.3" height="9.3"/><rect class="c2" x="406.2" y="194.1" width="18.0" height="9.3"/><rect class="c4" x="423.5" y="194.1" width="9.3" height="9.3"/><rect class="c3" x="432.2" y="194.1" width="9.3" height="9.3"/><rect class="c2" x="440.9" y="194.1" width="9.3" height="9.3"/><rect class="c1" x="449.6" y="194.1" width="9.3" height="9.3"/><rect class="c3" x="458.3" y="194.1" width="9.3" height="9.3"/><rect class="c2" x="467.0" y="194.1" width="9.3" height="9.3"/><rect class="c3" x="475.7" y="194.1" width="9.3" height="9.3"/><rect class="c1" x="484.4" y="194.1" width="18.0" height="9.3"/><rect class="c4" x="501.8" y="194.1" width="9.3" height="9.3"/><rect class="c1" x="510.4" y="194.1" width="9.3" height="9.3"/><rect class="c5" x="519.1" y="194.1" width="9.3" height="9.3"/><rect class="c3" x="527.8" y="194.1" width="9.3" height="9.3"/><rect class="c1" x="536.5" y="194.1" width="9.3" height="9.3"/><rect class="c2" x="545.2" y="194.1" width="9.3" height="9.3"/><rect class="c3" x="553.9" y="194.1" width="35.4" height="9.3"/><rect class="c2" x="588.7" y="194.1" width="9.3" height="9.3"/><rect class="c4" x="597.4" y="194.1" width="9.3" height="9.3"/><rect class="c2" x="606.0" y="194.1" width="9.3" height="9.3"/><rect class="c1" x="614.7" y="194.1" width="9.3" height="9.3"/><rect class="c2" x="623.4" y="194.1" width="18.0" height="9.3"/><rect class="c3" x="640.8" y="194.1" width="9.3" height="9.3"/><rect class="c4" x="649.5" y="194.1" width="9.3" height="9.3"/><rect class="c3" x="658.2" y="194.1" width="9.3" height="9.3"/><rect class="c2" x="666.9" y="194.1" width="9.3" height="9.3"/><rect class="c3" x="675.6" y="194.1" width="8.7" height="9.3"/><rect class="c2" x="162.8" y="202.8" width="9.3" height="9.3"/><rect class="c3" x="171.5" y="202.8" width="9.3" height="9.3"/><rect class="c1" x="180.2" y="202.8" width="9.3" height="9.3"/><rect class="c2" x="188.9" y="202.8" width="9.3" height="9.3"/><rect class="c3" x="197.6" y="202.8" width="9.3" height="9.3"/><rect class="c1" x="206.3" y="202.8" width="9.3" height="9.3"/><rect class="c5" x="215.0" y="202.8" width="9.3" height="9.3"/><rect class="c3" x="223.7" y="202.8" width="18.0" height="9.3"/><rect class="c8" x="241.1" y="202.8" width="9.3" height="9.3"/><rect class="c4" x="249.8" y="202.8" width="9.3" height="9.3"/><rect class="c8" x="258.4" y="202.8" width="9.3" height="9.3"/><rect class="c2" x="267.1" y="202.8" width="9.3" height="9.3"/><rect class="c3" x="275.8" y="202.8" width="18.0" height="9.3"/><rect class="c1" x="293.2" y="202.8" width="9.3" height="9.3"/><rect class="c3" x="301.9" y="202.8" width="18.0" height="9.3"/><rect class="c7" x="319.3" y="202.8" width="9.3" height="9.3"/><rect class="c1" x="328.0" y="202.8" width="9.3" height="9.3"/><rect class="c3" x="336.6" y="202.8" width="9.3" height="9.3"/><rect class="c1" x="345.3" y="202.8" width="9.3" height="9.3"/><rect class="c9" x="354.0" y="202.8" width="9.3" height="9.3"/><rect class="c1" x="362.7" y="202.8" width="9.3" height="9.3"/><rect class="c0" x="371.4" y="202.8" width="9.3" height="9.3"/><rect class="c2" x="380.1" y="202.8" width="9.3" height="9.3"/><rect class="c1" x="388.8" y="202.8" width="9.3" height="9.3"/><rect class="c2" x="397.5" y="202.8" width="9.3" height="9.3"/><rect class="c1" x="406.2" y="202.8" width="9.3" height="9.3"/><rect class="c8" x="414.9" y="202.8" width="9.3" height="9.3"/><rect class="c6" x="423.5" y="202.8" width="9.3" height="9.3"/><rect class="c3" x="432.2" y="202.8" width="26.7" height="9.3"/><rect class="c7" x="458.3" y="202.8" width="9.3" height="9.3"/><rect class="c3" x="467.0" y="202.8" width="18.0" height="9.3"/><rect class="c8" x="484.4" y="202.8" width="9.3" height="9.3"/><rect class="c7" x="493.1" y="202.8" width="9.3" height="9.3"/><rect class="c10" x="501.8" y="202.8" width="9.3" height="9.3"/><rect class="c3" x="510.4" y="202.8" width="9.3" height="9.3"/><rect class="c6" x="519.1" y="202.8" width="9.3" height="9.3"/><rect class="c2" x="527.8" y="202.8" width="9.3" height="9.3"/><rect class="c8" x="536.5" y="202.8" width="9.3" height="9.3"/><rect class="c2" x="545.2" y="202.8" width="9.3" height="9.3"/><rect class="c1" x="553.9" y="202.8" width="9.3" height="9.3"/><rect class="c3" x="562.6" y="202.8" width="18.0" height="9.3"/><rect class="c1" x="580.0" y="202.8" width="18.0" height="9.3"/><rect class="c11" x="597.4" y="202.8" width="9.3" height="9.3"/><rect class="c8" x="606.0" y="202.8" width="9.3" height="9.3"/><rect class="c3" x="614.7" y="202.8" width="9.3" height="9.3"/><rect class="c4" x="623.4" y="202.8" width="9.3" height="9.3"/><rect class="c1" x="632.1" y="202.8" width="9.3" height="9.3"/><rect class="c3" x="640.8" y="202.8" width="9.3" height="9.3"/><rect class="c6" x="649.5" y="202.8" width="18.0" height="9.3"/><rect class="c3" x="666.9" y="202.8" width="9.3" height="9.3"/><rect class="c8" x="675.6" y="202.8" width="8.7" height="9.3"/><rect class="c2" x="162.8" y="211.5" width="9.3" height="9.3"/><rect class="c3" x="171.5" y="211.5" width="18.0" height="9.3"/><rect class="c5" x="188.9" y="211.5" width="9.3" height="9.3"/><rect class="c2" x="197.6" y="211.5" width="9.3" height="9.3"/><rect class="c8" x="206.3" y="211.5" width="9.3" height="9.3"/><rect class="c1" x="215.0" y="211.5" width="18.0" height="9.3"/><rect class="c8" x="232.4" y="211.5" width="9.3" height="9.3"/><rect class="c7" x="241.1" y="211.5" width="9.3" height="9.3"/><rect class="c5" x="249.8" y="211.5" width="9.3" height="9.3"/><rect class="c1" x="258.4" y="211.5" width="9.3" height="9.3"/><rect class="c6" x="267.1" y="211.5" width="9.3" height="9.3"/><rect class="c2" x="275.8" y="211.5" width="35.4" height="9.3"/><rect class="c1" x="310.6" y="211.5" width="9.3" height="9.3"/><rect class="c3" x="319.3" y="211.5" width="9.3" height="9.3"/><rect class="c6" x="328.0" y="211.5" width="9.3" height="9.3"/><rect class="c8" x="336.6" y="211.5" width="9.3" height="9.3"/><rect class="c6" x="345.3" y="211.5" width="9.3" height="9.3"/><rect class="c1" x="354.0" y="211.5" width="9.3" height="9.3"/><rect class="c9" x="362.7" y="211.5" width="9.3" height="9.3"/><rect class="c8" x="371.4" y="211.5" width="9.3" height="9.3"/><rect class="c3" x="380.1" y="211.5" width="9.3" height="9.3"/><rect class="c1" x="388.8" y="211.5" width="9.3" height="9.3"/><rect class="c3" x="397.5" y="211.5" width="9.3" height="9.3"/><rect class="c1" x="406.2" y="211.5" width="9.3" height="9.3"/><rect class="c8" x="414.9" y="211.5" width="9.3" height="9.3"/><rect class="c1" x="423.5" y="211.5" width="9.3" height="9.3"/><rect class="c3" x="432.2" y="211.5" width="9.3" height="9.3"/><rect class="c1" x="440.9" y="211.5" width="9.3" height="9.3"/><rect class="c2" x="449.6" y="211.5" width="9.3" height="9.3"/><rect class="c8" x="458.3" y="211.5" width="9.3" height="9.3"/><rect class="c3" x="467.0" y="211.5" width="9.3" height="9.3"/><rect class="c6" x="475.7" y="211.5" width="9.3" height="9.3"/><rect class="c8" x="484.4" y="211.5" width="9.3" height="9.3"/><rect class="c3" x="493.1" y="211.5" width="9.3" height="9.3"/><rect class="c6" x="501.8" y="211.5" width="9.3" height="9.3"/><rect class="c1" x="510.4" y="211.5" width="9.3" height="9.3"/><rect class="c2" x="519.1" y="211.5" width="9.3" height="9.3"/><rect class="c1" x="527.8" y="211.5" width="9.3" height="9.3"/><rect class="c3" x="536.5" y="211.5" width="18.0" height="9.3"/><rect class="c2" x="553.9" y="211.5" width="18.0" height="9.3"/><rect class="c8" x="571.3" y="211.5" width="9.3" height="9.3"/><rect class="c3" x="580.0" y="211.5" width="9.3" height="9.3"/><rect class="c7" x="588.7" y="211.5" width="9.3" height="9.3"/><rect class="c10" x="597.4" y="211.5" width="9.3" height="9.3"/><rect class="c8" x="606.0" y="211.5" width="9.3" height="9.3"/><rect class="c3" x="614.7" y="211.5" width="9.3" height="9.3"/><rect class="c5" x="623.4" y="211.5" width="9.3" height="9.3"/><rect class="c8" x="632.1" y="211.5" width="9.3" height="9.3"/><rect class="c2" x="640.8" y="211.5" width="18.0" height="9.3"/><rect class="c6" x="658.2" y="211.5" width="9.3" height="9.3"/><rect class="c8" x="666.9" y="211.5" width="9.3" height="9.3"/><rect class="c1" x="675.6" y="211.5" width="8.7" height="9.3"/><rect class="c2" x="162.8" y="220.2" width="9.3" height="9.3"/><rect class="c3" x="171.5" y="220.2" width="9.3" height="9.3"/><rect class="c8" x="180.2" y="220.2" width="9.3" height="9.3"/><rect class="c2" x="188.9" y="220.2" width="9.3" height="9.3"/><rect class="c3" x="197.6" y="220.2" width="9.3" height="9.3"/><rect class="c8" x="206.3" y="220.2" width="9.3" height="9.3"/><rect class="c3" x="215.0" y="220.2" width="9.3" height="9.3"/><rect class="c1" x="223.7" y="220.2" width="18.0" height="9.3"/><rect class="c7" x="241.1" y="220.2" width="9.3" height="9.3"/><rect class="c5" x="249.8" y="220.2" width="9.3" height="9.3"/><rect class="c1" x="258.4" y="220.2" width="9.3" height="9.3"/><rect class="c2" x="267.1" y="220.2" width="9.3" height="9.3"/><rect class="c3" x="275.8" y="220.2" width="18.0" height="9.3"/><rect class="c8" x="293.2" y="220.2" width="9.3" height="9.3"/><rect class="c3" x="301.9" y="220.2" width="9.3" height="9.3"/><rect class="c1" x="310.6" y="220.2" width="9.3" height="9.3"/><rect class="c8" x="319.3" y="220.2" width="9.3" height="9.3"/><rect class="c1" x="328.0" y="220.2" width="18.0" height="9.3"/><rect class="c3" x="345.3" y="220.2" width="9.3" height="9.3"/><rect class="c7" x="354.0" y="220.2" width="9.3" height="9.3"/><rect class="c8" x="362.7" y="220.2" width="9.3" height="9.3"/><rect class="c0" x="371.4" y="220.2" width="9.3" height="9.3"/><rect class="c2" x="380.1" y="220.2" width="9.3" height="9.3"/><rect class="c1" x="388.8" y="220.2" width="9.3" height="9.3"/><rect class="c2" x="397.5" y="220.2" width="9.3" height="9.3"/><rect class="c8" x="406.2" y="220.2" width="9.3" height="9.3"/><rect class="c7" x="414.9" y="220.2" width="9.3" height="9.3"/><rect class="c3" x="423.5" y="220.2" width="9.3" height="9.3"/><rect class="c1" x="432.2" y="220.2" width="9.3" height="9.3"/><rect class="c3" x="440.9" y="220.2" width="9.3" height="9.3"/><rect class="c1" x="449.6" y="220.2" width="9.3" height="9.3"/><rect class="c7" x="458.3" y="220.2" width="9.3" height="9.3"/><rect class="c2" x="467.0" y="220.2" width="9.3" height="9.3"/><rect class="c3" x="475.7" y="220.2" width="9.3" height="9.3"/><rect class="c8" x="484.4" y="220.2" width="18.0" height="9.3"/><rect class="c4" x="501.8" y="220.2" width="9.3" height="9.3"/><rect class="c1" x="510.4" y="220.2" width="9.3" height="9.3"/><rect class="c2" x="519.1" y="220.2" width="9.3" height="9.3"/><rect class="c3" x="527.8" y="220.2" width="9.3" height="9.3"/><rect class="c7" x="536.5" y="220.2" width="9.3" height="9.3"/><rect class="c2" x="545.2" y="220.2" width="9.3" height="9.3"/><rect class="c3" x="553.9" y="220.2" width="9.3" height="9.3"/><rect class="c1" x="562.6" y="220.2" width="18.0" height="9.3"/><rect class="c8" x="580.0" y="220.2" width="18.0" height="9.3"/><rect class="c10" x="597.4" y="220.2" width="9.3" height="9.3"/><rect class="c7" x="606.0" y="220.2" width="9.3" height="9.3"/><rect class="c3" x="614.7" y="220.2" width="9.3" height="9.3"/><rect class="c5" x="623.4" y="220.2" width="9.3" height="9.3"/><rect class="c8" x="632.1" y="220.2" width="9.3" height="9.3"/><rect class="c2" x="640.8" y="220.2" width="26.7" height="9.3"/><rect class="c1" x="666.9" y="220.2" width="9.3" height="9.3"/><rect class="c7" x="675.6" y="220.2" width="8.7" height="9.3"/><rect class="c3" x="162.8" y="228.9" width="9.3" height="9.3"/><rect class="c1" x="171.5" y="228.9" width="9.3" height="9.3"/><rect class="c2" x="180.2" y="228.9" width="9.3" height="9.3"/><rect class="c6" x="188.9" y="228.9" width="9.3" height="9.3"/><rect class="c3" x="197.6" y="228.9" width="9.3" height="9.3"/><rect class="c1" x="206.3" y="228.9" width="9.3" height="9.3"/><rect class="c3" x="215.0" y="228.9" width="18.0" height="9.3"/><rect class="c2" x="232.4" y="228.9" width="18.0" height="9.3"/><rect class="c3" x="249.8" y="228.9" width="9.3" height="9.3"/><rect class="c2" x="258.4" y="228.9" width="9.3" height="9.3"/><rect class="c3" x="267.1" y="228.9" width="9.3" height="9.3"/><rect class="c5" x="275.8" y="228.9" width="9.3" height="9.3"/><rect class="c3" x="284.5" y="228.9" width="9.3" height="9.3"/><rect class="c4" x="293.2" y="228.9" width="9.3" height="9.3"/><rect class="c2" x="301.9" y="228.9" width="9.3" height="9.3"/><rect class="c7" x="310.6" y="228.9" width="9.3" height="9.3"/><rect class="c5" x="319.3" y="228.9" width="9.3" height="9.3"/><rect class="c4" x="328.0" y="228.9" width="9.3" height="9.3"/><rect class="c1" x="336.6" y="228.9" width="9.3" height="9.3"/><rect class="c2" x="345.3" y="228.9" width="9.3" height="9.3"/><rect class="c6" x="354.0" y="228.9" width="9.3" height="9.3"/><rect class="c3" x="362.7" y="228.9" width="18.0" height="9.3"/><rect class="c9" x="380.1" y="228.9" width="9.3" height="9.3"/><rect class="c2" x="388.8" y="228.9" width="18.0" height="9.3"/><rect class="c3" x="406.2" y="228.9" width="18.0" height="9.3"/><rect class="c8" x="423.5" y="228.9" width="18.0" height="9.3"/><rect class="c3" x="440.9" y="228.9" width="9.3" height="9.3"/><rect class="c5" x="449.6" y="228.9" width="9.3" height="9.3"/><rect class="c2" x="458.3" y="228.9" width="9.3" height="9.3"/><rect class="c3" x="467.0" y="228.9" width="18.0" height="9.3"/><rect class="c2" x="484.4" y="228.9" width="9.3" height="9.3"/><rect class="c6" x="493.1" y="228.9" width="9.3" height="9.3"/><rect class="c1" x="501.8" y="228.9" width="18.0" height="9.3"/><rect class="c3" x="519.1" y="228.9" width="9.3" height="9.3"/><rect class="c1" x="527.8" y="228.9" width="9.3" height="9.3"/><rect class="c6" x="536.5" y="228.9" width="9.3" height="9.3"/><rect class="c3" x="545.2" y="228.9" width="9.3" height="9.3"/><rect class="c6" x="553.9" y="228.9" width="9.3" height="9.3"/><rect class="c1" x="562.6" y="228.9" width="18.0" height="9.3"/><rect class="c3" x="580.0" y="228.9" width="18.0" height="9.3"/><rect class="c6" x="597.4" y="228.9" width="18.0" height="9.3"/><rect class="c2" x="614.7" y="228.9" width="9.3" height="9.3"/><rect class="c3" x="623.4" y="228.9" width="9.3" height="9.3"/><rect class="c1" x="632.1" y="228.9" width="18.0" height="9.3"/><rect class="c2" x="649.5" y="228.9" width="18.0" height="9.3"/><rect class="c1" x="666.9" y="228.9" width="9.3" height="9.3"/><rect class="c6" x="675.6" y="228.9" width="8.7" height="9.3"/><rect class="c1" x="162.8" y="237.6" width="18.0" height="9.3"/><rect class="c8" x="180.2" y="237.6" width="9.3" height="9.3"/><rect class="c1" x="188.9" y="237.6" width="9.3" height="9.3"/><rect class="c7" x="197.6" y="237.6" width="9.3" height="9.3"/><rect class="c1" x="206.3" y="237.6" width="9.3" height="9.3"/><rect class="c5" x="215.0" y="237.6" width="9.3" height="9.3"/><rect class="c3" x="223.7" y="237.6" width="9.3" height="9.3"/><rect class="c2" x="232.4" y="237.6" width="9.3" height="9.3"/><rect class="c3" x="241.1" y="237.6" width="9.3" height="9.3"/><rect class="c5" x="249.8" y="237.6" width="9.3" height="9.3"/><rect class="c0" x="258.4" y="237.6" width="9.3" height="9.3"/><rect class="c1" x="267.1" y="237.6" width="9.3" height="9.3"/><rect class="c8" x="275.8" y="237.6" width="18.0" height="9.3"/><rect class="c2" x="293.2" y="237.6" width="9.3" height="9.3"/><rect class="c3" x="301.9" y="237.6" width="9.3" height="9.3"/><rect class="c1" x="310.6" y="237.6" width="18.0" height="9.3"/><rect class="c3" x="328.0" y="237.6" width="18.0" height="9.3"/><rect class="c8" x="345.3" y="237.6" width="9.3" height="9.3"/><rect class="c1" x="354.0" y="237.6" width="18.0" height="9.3"/><rect class="c8" x="371.4" y="237.6" width="9.3" height="9.3"/><rect class="c3" x="380.1" y="237.6" width="9.3" height="9.3"/><rect class="c0" x="388.8" y="237.6" width="9.3" height="9.3"/><rect class="c2" x="397.5" y="237.6" width="9.3" height="9.3"/><rect class="c1" x="406.2" y="237.6" width="9.3" height="9.3"/><rect class="c3" x="414.9" y="237.6" width="9.3" height="9.3"/><rect class="c6" x="423.5" y="237.6" width="9.3" height="9.3"/><rect class="c3" x="432.2" y="237.6" width="9.3" height="9.3"/><rect class="c2" x="440.9" y="237.6" width="9.3" height="9.3"/><rect class="c3" x="449.6" y="237.6" width="9.3" height="9.3"/><rect class="c8" x="458.3" y="237.6" width="9.3" height="9.3"/><rect class="c1" x="467.0" y="237.6" width="9.3" height="9.3"/><rect class="c3" x="475.7" y="237.6" width="9.3" height="9.3"/><rect class="c7" x="484.4" y="237.6" width="9.3" height="9.3"/><rect class="c8" x="493.1" y="237.6" width="9.3" height="9.3"/><rect class="c4" x="501.8" y="237.6" width="9.3" height="9.3"/><rect class="c8" x="510.4" y="237.6" width="9.3" height="9.3"/><rect class="c6" x="519.1" y="237.6" width="9.3" height="9.3"/><rect class="c3" x="527.8" y="237.6" width="9.3" height="9.3"/><rect class="c1" x="536.5" y="237.6" width="9.3" height="9.3"/><rect class="c2" x="545.2" y="237.6" width="9.3" height="9.3"/><rect class="c8" x="553.9" y="237.6" width="9.3" height="9.3"/><rect class="c1" x="562.6" y="237.6" width="26.7" height="9.3"/><rect class="c3" x="588.7" y="237.6" width="9.3" height="9.3"/><rect class="c4" x="597.4" y="237.6" width="9.3" height="9.3"/><rect class="c1" x="606.0" y="237.6" width="9.3" height="9.3"/><rect class="c7" x="614.7" y="237.6" width="9.3" height="9.3"/><rect class="c2" x="623.4" y="237.6" width="9.3" height="9.3"/><rect class="c1" x="632.1" y="237.6" width="18.0" height="9.3"/><rect class="c2" x="649.5" y="237.6" width="9.3" height="9.3"/><rect class="c1" x="658.2" y="237.6" width="18.0" height="9.3"/><rect class="c8" x="675.6" y="237.6" width="8.7" height="9.3"/><rect class="c3" x="162.8" y="246.3" width="9.3" height="9.3"/><rect class="c1" x="171.5" y="246.3" width="9.3" height="9.3"/><rect class="c6" x="180.2" y="246.3" width="9.3" height="9.3"/><rect class="c5" x="188.9" y="246.3" width="9.3" height="9.3"/><rect class="c2" x="197.6" y="246.3" width="9.3" height="9.3"/><rect class="c1" x="206.3" y="246.3" width="9.3" height="9.3"/><rect class="c2" x="215.0" y="246.3" width="9.3" height="9.3"/><rect class="c3" x="223.7" y="246.3" width="9.3" height="9.3"/><rect class="c1" x="232.4" y="246.3" width="18.0" height="9.3"/><rect class="c6" x="249.8" y="246.3" width="9.3" height="9.3"/><rect class="c3" x="258.4" y="246.3" width="9.3" height="9.3"/><rect class="c5" x="267.1" y="246.3" width="18.0" height="9.3"/><rect class="c6" x="284.5" y="246.3" width="9.3" height="9.3"/><rect class="c4" x="293.2" y="246.3" width="9.3" height="9.3"/><rect class="c3" x="301.9" y="246.3" width="18.0" height="9.3"/><rect class="c5" x="319.3" y="246.3" width="9.3" height="9.3"/><rect class="c4" x="328.0" y="246.3" width="9.3" height="9.3"/><rect class="c3" x="336.6" y="246.3" width="9.3" height="9.3"/><rect class="c5" x="345.3" y="246.3" width="9.3" height="9.3"/><rect class="c3" x="354.0" y="246.3" width="9.3" height="9.3"/><rect class="c1" x="362.7" y="246.3" width="9.3" height="9.3"/><rect class="c3" x="371.4" y="246.3" width="26.7" height="9.3"/><rect class="c0" x="397.5" y="246.3" width="9.3" height="9.3"/><rect class="c2" x="406.2" y="246.3" width="9.3" height="9.3"/><rect class="c1" x="414.9" y="246.3" width="9.3" height="9.3"/><rect class="c3" x="423.5" y="246.3" width="9.3" height="9.3"/><rect class="c2" x="432.2" y="246.3" width="18.0" height="9.3"/><rect class="c6" x="449.6" y="246.3" width="9.3" height="9.3"/><rect class="c3" x="458.3" y="246.3" width="18.0" height="9.3"/><rect class="c5" x="475.7" y="246.3" width="9.3" height="9.3"/><rect class="c2" x="484.4" y="246.3" width="26.7" height="9.3"/><rect class="c3" x="510.4" y="246.3" width="9.3" height="9.3"/><rect class="c5" x="519.1" y="246.3" width="9.3" height="9.3"/><rect class="c8" x="527.8" y="246.3" width="9.3" height="9.3"/><rect class="c2" x="536.5" y="246.3" width="18.0" height="9.3"/><rect class="c3" x="553.9" y="246.3" width="18.0" height="9.3"/><rect class="c1" x="571.3" y="246.3" width="9.3" height="9.3"/><rect class="c2" x="580.0" y="246.3" width="9.3" height="9.3"/><rect class="c3" x="588.7" y="246.3" width="9.3" height="9.3"/><rect class="c5" x="597.4" y="246.3" width="9.3" height="9.3"/><rect class="c3" x="606.0" y="246.3" width="18.0" height="9.3"/><rect class="c5" x="623.4" y="246.3" width="9.3" height="9.3"/><rect class="c8" x="632.1" y="246.3" width="9.3" height="9.3"/><rect class="c6" x="640.8" y="246.3" width="26.7" height="9.3"/><rect class="c1" x="666.9" y="246.3" width="9.3" height="9.3"/><rect class="c6" x="675.6" y="246.3" width="8.7" height="9.3"/><rect class="c2" x="162.8" y="255.0" width="9.3" height="9.3"/><rect class="c3" x="171.5" y="255.0" width="9.3" height="9.3"/><rect class="c8" x="180.2" y="255.0" width="9.3" height="9.3"/><rect class="c2" x="188.9" y="255.0" width="9.3" height="9.3"/><rect class="c1" x="197.6" y="255.0" width="18.0" height="9.3"/><rect class="c2" x="215.0" y="255.0" width="9.3" height="9.3"/><rect class="c3" x="223.7" y="255.0" width="26.7" height="9.3"/><rect class="c6" x="249.8" y="255.0" width="9.3" height="9.3"/><rect class="c1" x="258.4" y="255.0" width="18.0" height="9.3"/><rect class="c3" x="275.8" y="255.0" width="9.3" height="9.3"/><rect class="c1" x="284.5" y="255.0" width="9.3" height="9.3"/><rect class="c3" x="293.2" y="255.0" width="9.3" height="9.3"/><rect class="c2" x="301.9" y="255.0" width="9.3" height="9.3"/><rect class="c8" x="310.6" y="255.0" width="9.3" height="9.3"/><rect class="c1" x="319.3" y="255.0" width="18.0" height="9.3"/><rect class="c3" x="336.6" y="255.0" width="18.0" height="9.3"/><rect class="c8" x="354.0" y="255.0" width="9.3" height="9.3"/><rect class="c1" x="362.7" y="255.0" width="9.3" height="9.3"/><rect class="c8" x="371.4" y="255.0" width="9.3" height="9.3"/><rect class="c3" x="380.1" y="255.0" width="9.3" height="9.3"/><rect class="c1" x="388.8" y="255.0" width="9.3" height="9.3"/><rect class="c6" x="397.5" y="255.0" width="9.3" height="9.3"/><rect class="c0" x="406.2" y="255.0" width="9.3" height="9.3"/><rect class="c8" x="414.9" y="255.0" width="9.3" height="9.3"/><rect class="c3" x="423.5" y="255.0" width="9.3" height="9.3"/><rect class="c1" x="432.2" y="255.0" width="9.3" height="9.3"/><rect class="c3" x="440.9" y="255.0" width="9.3" height="9.3"/><rect class="c2" x="449.6" y="255.0" width="9.3" height="9.3"/><rect class="c8" x="458.3" y="255.0" width="9.3" height="9.3"/><rect class="c3" x="467.0" y="255.0" width="18.0" height="9.3"/><rect class="c1" x="484.4" y="255.0" width="18.0" height="9.3"/><rect class="c5" x="501.8" y="255.0" width="9.3" height="9.3"/><rect class="c1" x="510.4" y="255.0" width="9.3" height="9.3"/><rect class="c6" x="519.1" y="255.0" width="9.3" height="9.3"/><rect class="c3" x="527.8" y="255.0" width="9.3" height="9.3"/><rect class="c8" x="536.5" y="255.0" width="9.3" height="9.3"/><rect class="c3" x="545.2" y="255.0" width="26.7" height="9.3"/><rect class="c1" x="571.3" y="255.0" width="9.3" height="9.3"/><rect class="c7" x="580.0" y="255.0" width="9.3" height="9.3"/><rect class="c8" x="588.7" y="255.0" width="9.3" height="9.3"/><rect class="c4" x="597.4" y="255.0" width="9.3" height="9.3"/><rect class="c3" x="606.0" y="255.0" width="9.3" height="9.3"/><rect class="c1" x="614.7" y="255.0" width="9.3" height="9.3"/><rect class="c5" x="623.4" y="255.0" width="9.3" height="9.3"/><rect class="c1" x="632.1" y="255.0" width="18.0" height="9.3"/><rect class="c2" x="649.5" y="255.0" width="18.0" height="9.3"/><rect class="c3" x="666.9" y="255.0" width="9.3" height="9.3"/><rect class="c8" x="675.6" y="255.0" width="8.7" height="9.3"/><rect class="c3" x="162.8" y="263.7" width="9.3" height="9.3"/><rect class="c8" x="171.5" y="263.7" width="9.3" height="9.3"/><rect class="c1" x="180.2" y="263.7" width="9.3" height="9.3"/><rect class="c2" x="188.9" y="263.7" width="9.3" height="9.3"/><rect class="c3" x="197.6" y="263.7" width="9.3" height="9.3"/><rect class="c7" x="206.3" y="263.7" width="9.3" height="9.3"/><rect class="c3" x="215.0" y="263.7" width="9.3" height="9.3"/><rect class="c1" x="223.7" y="263.7" width="18.0" height="9.3"/><rect class="c8" x="241.1" y="263.7" width="9.3" height="9.3"/><rect class="c2" x="249.8" y="263.7" width="9.3" height="9.3"/><rect class="c3" x="258.4" y="263.7" width="18.0" height="9.3"/><rect class="c2" x="275.8" y="263.7" width="9.3" height="9.3"/><rect class="c3" x="284.5" y="263.7" width="26.7" height="9.3"/><rect class="c8" x="310.6" y="263.7" width="9.3" height="9.3"/><rect class="c1" x="319.3" y="263.7" width="9.3" height="9.3"/><rect class="c3" x="328.0" y="263.7" width="9.3" height="9.3"/><rect class="c8" x="336.6" y="263.7" width="9.3" height="9.3"/><rect class="c2" x="345.3" y="263.7" width="9.3" height="9.3"/><rect class="c1" x="354.0" y="263.7" width="18.0" height="9.3"/><rect class="c8" x="371.4" y="263.7" width="9.3" height="9.3"/><rect class="c1" x="380.1" y="263.7" width="9.3" height="9.3"/><rect class="c3" x="388.8" y="263.7" width="18.0" height="9.3"/><rect class="c8" x="406.2" y="263.7" width="9.3" height="9.3"/><rect class="c9" x="414.9" y="263.7" width="9.3" height="9.3"/><rect class="c1" x="423.5" y="263.7" width="18.0" height="9.3"/><rect class="c3" x="440.9" y="263.7" width="9.3" height="9.3"/><rect class="c2" x="449.6" y="263.7" width="9.3" height="9.3"/><rect class="c7" x="458.3" y="263.7" width="9.3" height="9.3"/><rect class="c1" x="467.0" y="263.7" width="9.3" height="9.3"/><rect class="c2" x="475.7" y="263.7" width="9.3" height="9.3"/><rect class="c1" x="484.4" y="263.7" width="18.0" height="9.3"/><rect class="c6" x="501.8" y="263.7" width="9.3" height="9.3"/><rect class="c1" x="510.4" y="263.7" width="9.3" height="9.3"/><rect class="c2" x="519.1" y="263.7" width="9.3" height="9.3"/><rect class="c1" x="527.8" y="263.7" width="9.3" height="9.3"/><rect class="c8" x="536.5" y="263.7" width="9.3" height="9.3"/><rect class="c2" x="545.2" y="263.7" width="9.3" height="9.3"/><rect class="c3" x="553.9" y="263.7" width="9.3" height="9.3"/><rect class="c1" x="562.6" y="263.7" width="9.3" height="9.3"/><rect class="c7" x="571.3" y="263.7" width="9.3" height="9.3"/><rect class="c1" x="580.0" y="263.7" width="9.3" height="9.3"/><rect class="c0" x="588.7" y="263.7" width="9.3" height="9.3"/><rect class="c5" x="597.4" y="263.7" width="9.3" height="9.3"/><rect class="c8" x="606.0" y="263.7" width="9.3" height="9.3"/><rect class="c3" x="614.7" y="263.7" width="9.3" height="9.3"/><rect class="c5" x="623.4" y="263.7" width="9.3" height="9.3"/><rect class="c7" x="632.1" y="263.7" width="9.3" height="9.3"/><rect class="c3" x="640.8" y="263.7" width="9.3" height="9.3"/><rect class="c2" x="649.5" y="263.7" width="18.0" height="9.3"/><rect class="c8" x="666.9" y="263.7" width="9.3" height="9.3"/><rect class="c1" x="675.6" y="263.7" width="8.7" height="9.3"/><rect class="c2" x="162.8" y="272.3" width="9.3" height="9.3"/><rect class="c3" x="171.5" y="272.3" width="18.0" height="9.3"/><rect class="c5" x="188.9" y="272.3" width="9.3" height="9.3"/><rect class="c2" x="197.6" y="272.3" width="9.3" height="9.3"/><rect class="c1" x="206.3" y="272.3" width="9.3" height="9.3"/><rect class="c7" x="215.0" y="272.3" width="9.3" height="9.3"/><rect class="c3" x="223.7" y="272.3" width="9.3" height="9.3"/><rect class="c1" x="232.4" y="272.3" width="9.3" height="9.3"/><rect class="c3" x="241.1" y="272.3" width="9.3" height="9.3"/><rect class="c2" x="249.8" y="272.3" width="26.7" height="9.3"/><rect class="c5" x="275.8" y="272.3" width="9.3" height="9.3"/><rect class="c6" x="284.5" y="272.3" width="9.3" height="9.3"/><rect class="c4" x="293.2" y="272.3" width="9.3" height="9.3"/><rect class="c2" x="301.9" y="272.3" width="9.3" height="9.3"/><rect class="c1" x="310.6" y="272.3" width="9.3" height="9.3"/><rect class="c5" x="319.3" y="272.3" width="9.3" height="9.3"/><rect class="c4" x="328.0" y="272.3" width="9.3" height="9.3"/><rect class="c7" x="336.6" y="272.3" width="9.3" height="9.3"/><rect class="c5" x="345.3" y="272.3" width="9.3" height="9.3"/><rect class="c2" x="354.0" y="272.3" width="9.3" height="9.3"/><rect class="c1" x="362.7" y="272.3" width="9.3" height="9.3"/><rect class="c3" x="371.4" y="272.3" width="9.3" height="9.3"/><rect class="c8" x="380.1" y="272.3" width="9.3" height="9.3"/><rect class="c6" x="388.8" y="272.3" width="9.3" height="9.3"/><rect class="c3" x="397.5" y="272.3" width="18.0" height="9.3"/><rect class="c1" x="414.9" y="272.3" width="9.3" height="9.3"/><rect class="c9" x="423.5" y="272.3" width="9.3" height="9.3"/><rect class="c1" x="432.2" y="272.3" width="9.3" height="9.3"/><rect class="c3" x="440.9" y="272.3" width="9.3" height="9.3"/><rect class="c5" x="449.6" y="272.3" width="9.3" height="9.3"/><rect class="c3" x="458.3" y="272.3" width="9.3" height="9.3"/><rect class="c2" x="467.0" y="272.3" width="18.0" height="9.3"/><rect class="c3" x="484.4" y="272.3" width="9.3" height="9.3"/><rect class="c2" x="493.1" y="272.3" width="9.3" height="9.3"/><rect class="c3" x="501.8" y="272.3" width="9.3" height="9.3"/><rect class="c1" x="510.4" y="272.3" width="9.3" height="9.3"/><rect class="c6" x="519.1" y="272.3" width="9.3" height="9.3"/><rect class="c1" x="527.8" y="272.3" width="9.3" height="9.3"/><rect class="c2" x="536.5" y="272.3" width="9.3" height="9.3"/><rect class="c3" x="545.2" y="272.3" width="9.3" height="9.3"/><rect class="c6" x="553.9" y="272.3" width="9.3" height="9.3"/><rect class="c3" x="562.6" y="272.3" width="9.3" height="9.3"/><rect class="c1" x="571.3" y="272.3" width="26.7" height="9.3"/><rect class="c5" x="597.4" y="272.3" width="9.3" height="9.3"/><rect class="c2" x="606.0" y="272.3" width="26.7" height="9.3"/><rect class="c8" x="632.1" y="272.3" width="9.3" height="9.3"/><rect class="c6" x="640.8" y="272.3" width="9.3" height="9.3"/><rect class="c2" x="649.5" y="272.3" width="9.3" height="9.3"/><rect class="c5" x="658.2" y="272.3" width="9.3" height="9.3"/><rect class="c8" x="666.9" y="272.3" width="9.3" height="9.3"/><rect class="c2" x="675.6" y="272.3" width="8.7" height="9.3"/><rect class="c3" x="162.8" y="281.0" width="18.0" height="9.3"/><rect class="c1" x="180.2" y="281.0" width="9.3" height="9.3"/><rect class="c3" x="188.9" y="281.0" width="9.3" height="9.3"/><rect class="c1" x="197.6" y="281.0" width="9.3" height="9.3"/><rect class="c8" x="206.3" y="281.0" width="9.3" height="9.3"/><rect class="c3" x="215.0" y="281.0" width="9.3" height="9.3"/><rect class="c1" x="223.7" y="281.0" width="9.3" height="9.3"/><rect class="c2" x="232.4" y="281.0" width="9.3" height="9.3"/><rect class="c3" x="241.1" y="281.0" width="26.7" height="9.3"/><rect class="c1" x="267.1" y="281.0" width="9.3" height="9.3"/><rect class="c6" x="275.8" y="281.0" width="9.3" height="9.3"/><rect class="c1" x="284.5" y="281.0" width="9.3" height="9.3"/><rect class="c10" x="293.2" y="281.0" width="9.3" height="9.3"/><rect class="c2" x="301.9" y="281.0" width="9.3" height="9.3"/><rect class="c8" x="310.6" y="281.0" width="9.3" height="9.3"/><rect class="c2" x="319.3" y="281.0" width="9.3" height="9.3"/><rect class="c4" x="328.0" y="281.0" width="9.3" height="9.3"/><rect class="c3" x="336.6" y="281.0" width="18.0" height="9.3"/><rect class="c2" x="354.0" y="281.0" width="9.3" height="9.3"/><rect class="c3" x="362.7" y="281.0" width="18.0" height="9.3"/><rect class="c1" x="380.1" y="281.0" width="9.3" height="9.3"/><rect class="c3" x="388.8" y="281.0" width="9.3" height="9.3"/><rect class="c2" x="397.5" y="281.0" width="9.3" height="9.3"/><rect class="c1" x="406.2" y="281.0" width="18.0" height="9.3"/><rect class="c3" x="423.5" y="281.0" width="9.3" height="9.3"/><rect class="c0" x="432.2" y="281.0" width="9.3" height="9.3"/><rect class="c6" x="440.9" y="281.0" width="9.3" height="9.3"/><rect class="c2" x="449.6" y="281.0" width="9.3" height="9.3"/><rect class="c1" x="458.3" y="281.0" width="9.3" height="9.3"/><rect class="c3" x="467.0" y="281.0" width="9.3" height="9.3"/><rect class="c1" x="475.7" y="281.0" width="9.3" height="9.3"/><rect class="c3" x="484.4" y="281.0" width="26.7" height="9.3"/><rect class="c8" x="510.4" y="281.0" width="9.3" height="9.3"/><rect class="c3" x="519.1" y="281.0" width="9.3" height="9.3"/><rect class="c1" x="527.8" y="281.0" width="9.3" height="9.3"/><rect class="c3" x="536.5" y="281.0" width="9.3" height="9.3"/><rect class="c7" x="545.2" y="281.0" width="9.3" height="9.3"/><rect class="c3" x="553.9" y="281.0" width="18.0" height="9.3"/><rect class="c8" x="571.3" y="281.0" width="9.3" height="9.3"/><rect class="c1" x="580.0" y="281.0" width="18.0" height="9.3"/><rect class="c6" x="597.4" y="281.0" width="9.3" height="9.3"/><rect class="c2" x="606.0" y="281.0" width="9.3" height="9.3"/><rect class="c1" x="614.7" y="281.0" width="9.3" height="9.3"/><rect class="c3" x="623.4" y="281.0" width="9.3" height="9.3"/><rect class="c1" x="632.1" y="281.0" width="9.3" height="9.3"/><rect class="c3" x="640.8" y="281.0" width="9.3" height="9.3"/><rect class="c6" x="649.5" y="281.0" width="9.3" height="9.3"/><rect class="c1" x="658.2" y="281.0" width="9.3" height="9.3"/><rect class="c8" x="666.9" y="281.0" width="9.3" height="9.3"/><rect class="c3" x="675.6" y="281.0" width="8.7" height="9.3"/><rect class="c3" x="162.8" y="289.7" width="26.7" height="9.3"/><rect class="c6" x="188.9" y="289.7" width="9.3" height="9.3"/><rect class="c2" x="197.6" y="289.7" width="9.3" height="9.3"/><rect class="c3" x="206.3" y="289.7" width="9.3" height="9.3"/><rect class="c2" x="215.0" y="289.7" width="9.3" height="9.3"/><rect class="c3" x="223.7" y="289.7" width="18.0" height="9.3"/><rect class="c1" x="241.1" y="289.7" width="9.3" height="9.3"/><rect class="c5" x="249.8" y="289.7" width="9.3" height="9.3"/><rect class="c1" x="258.4" y="289.7" width="9.3" height="9.3"/><rect class="c6" x="267.1" y="289.7" width="9.3" height="9.3"/><rect class="c2" x="275.8" y="289.7" width="9.3" height="9.3"/><rect class="c3" x="284.5" y="289.7" width="9.3" height="9.3"/><rect class="c2" x="293.2" y="289.7" width="18.0" height="9.3"/><rect class="c3" x="310.6" y="289.7" width="18.0" height="9.3"/><rect class="c2" x="328.0" y="289.7" width="9.3" height="9.3"/><rect class="c1" x="336.6" y="289.7" width="9.3" height="9.3"/><rect class="c3" x="345.3" y="289.7" width="18.0" height="9.3"/><rect class="c1" x="362.7" y="289.7" width="9.3" height="9.3"/><rect class="c3" x="371.4" y="289.7" width="70.1" height="9.3"/><rect class="c0" x="440.9" y="289.7" width="9.3" height="9.3"/><rect class="c6" x="449.6" y="289.7" width="9.3" height="9.3"/><rect class="c3" x="458.3" y="289.7" width="9.3" height="9.3"/><rect class="c2" x="467.0" y="289.7" width="9.3" height="9.3"/><rect class="c6" x="475.7" y="289.7" width="9.3" height="9.3"/><rect class="c3" x="484.4" y="289.7" width="9.3" height="9.3"/><rect class="c2" x="493.1" y="289.7" width="9.3" height="9.3"/><rect class="c5" x="501.8" y="289.7" width="9.3" height="9.3"/><rect class="c3" x="510.4" y="289.7" width="9.3" height="9.3"/><rect class="c6" x="519.1" y="289.7" width="9.3" height="9.3"/><rect class="c1" x="527.8" y="289.7" width="9.3" height="9.3"/><rect class="c2" x="536.5" y="289.7" width="9.3" height="9.3"/><rect class="c6" x="545.2" y="289.7" width="9.3" height="9.3"/><rect class="c3" x="553.9" y="289.7" width="35.4" height="9.3"/><rect class="c1" x="588.7" y="289.7" width="9.3" height="9.3"/><rect class="c10" x="597.4" y="289.7" width="9.3" height="9.3"/><rect class="c1" x="606.0" y="289.7" width="9.3" height="9.3"/><rect class="c2" x="614.7" y="289.7" width="9.3" height="9.3"/><rect class="c4" x="623.4" y="289.7" width="9.3" height="9.3"/><rect class="c1" x="632.1" y="289.7" width="9.3" height="9.3"/><rect class="c2" x="640.8" y="289.7" width="18.0" height="9.3"/><rect class="c5" x="658.2" y="289.7" width="9.3" height="9.3"/><rect class="c3" x="666.9" y="289.7" width="17.4" height="9.3"/><rect class="c6" x="162.8" y="298.4" width="18.0" height="9.3"/><rect class="c1" x="180.2" y="298.4" width="18.0" height="9.3"/><rect class="c3" x="197.6" y="298.4" width="18.0" height="9.3"/><rect class="c5" x="215.0" y="298.4" width="9.3" height="9.3"/><rect class="c3" x="223.7" y="298.4" width="9.3" height="9.3"/><rect class="c2" x="232.4" y="298.4" width="18.0" height="9.3"/><rect class="c4" x="249.8" y="298.4" width="9.3" height="9.3"/><rect class="c1" x="258.4" y="298.4" width="9.3" height="9.3"/><rect class="c3" x="267.1" y="298.4" width="9.3" height="9.3"/><rect class="c8" x="275.8" y="298.4" width="9.3" height="9.3"/><rect class="c3" x="284.5" y="298.4" width="9.3" height="9.3"/><rect class="c5" x="293.2" y="298.4" width="9.3" height="9.3"/><rect class="c6" x="301.9" y="298.4" width="9.3" height="9.3"/><rect class="c3" x="310.6" y="298.4" width="9.3" height="9.3"/><rect class="c1" x="319.3" y="298.4" width="9.3" height="9.3"/><rect class="c2" x="328.0" y="298.4" width="9.3" height="9.3"/><rect class="c6" x="336.6" y="298.4" width="9.3" height="9.3"/><rect class="c1" x="345.3" y="298.4" width="9.3" height="9.3"/><rect class="c3" x="354.0" y="298.4" width="9.3" height="9.3"/><rect class="c2" x="362.7" y="298.4" width="9.3" height="9.3"/><rect class="c3" x="371.4" y="298.4" width="9.3" height="9.3"/><rect class="c6" x="380.1" y="298.4" width="9.3" height="9.3"/><rect class="c3" x="388.8" y="298.4" width="9.3" height="9.3"/><rect class="c6" x="397.5" y="298.4" width="9.3" height="9.3"/><rect class="c2" x="406.2" y="298.4" width="18.0" height="9.3"/><rect class="c5" x="423.5" y="298.4" width="9.3" height="9.3"/><rect class="c3" x="432.2" y="298.4" width="9.3" height="9.3"/><rect class="c6" x="440.9" y="298.4" width="9.3" height="9.3"/><rect class="c7" x="449.6" y="298.4" width="9.3" height="9.3"/><rect class="c3" x="458.3" y="298.4" width="9.3" height="9.3"/><rect class="c2" x="467.0" y="298.4" width="18.0" height="9.3"/><rect class="c3" x="484.4" y="298.4" width="9.3" height="9.3"/><rect class="c1" x="493.1" y="298.4" width="9.3" height="9.3"/><rect class="c4" x="501.8" y="298.4" width="9.3" height="9.3"/><rect class="c3" x="510.4" y="298.4" width="9.3" height="9.3"/><rect class="c6" x="519.1" y="298.4" width="9.3" height="9.3"/><rect class="c3" x="527.8" y="298.4" width="18.0" height="9.3"/><rect class="c6" x="545.2" y="298.4" width="9.3" height="9.3"/><rect class="c1" x="553.9" y="298.4" width="9.3" height="9.3"/><rect class="c3" x="562.6" y="298.4" width="9.3" height="9.3"/><rect class="c2" x="571.3" y="298.4" width="9.3" height="9.3"/><rect class="c3" x="580.0" y="298.4" width="18.0" height="9.3"/><rect class="c11" x="597.4" y="298.4" width="9.3" height="9.3"/><rect class="c6" x="606.0" y="298.4" width="9.3" height="9.3"/><rect class="c1" x="614.7" y="298.4" width="9.3" height="9.3"/><rect class="c5" x="623.4" y="298.4" width="9.3" height="9.3"/><rect class="c2" x="632.1" y="298.4" width="18.0" height="9.3"/><rect class="c4" x="649.5" y="298.4" width="9.3" height="9.3"/><rect class="c2" x="658.2" y="298.4" width="18.0" height="9.3"/><rect class="c1" x="675.6" y="298.4" width="8.7" height="9.3"/><rect class="c3" x="162.8" y="307.1" width="9.3" height="9.3"/><rect class="c1" x="171.5" y="307.1" width="18.0" height="9.3"/><rect class="c2" x="188.9" y="307.1" width="9.3" height="9.3"/><rect class="c3" x="197.6" y="307.1" width="9.3" height="9.3"/><rect class="c8" x="206.3" y="307.1" width="9.3" height="9.3"/><rect class="c2" x="215.0" y="307.1" width="9.3" height="9.3"/><rect class="c3" x="223.7" y="307.1" width="9.3" height="9.3"/><rect class="c1" x="232.4" y="307.1" width="9.3" height="9.3"/><rect class="c7" x="241.1" y="307.1" width="9.3" height="9.3"/><rect class="c6" x="249.8" y="307.1" width="9.3" height="9.3"/><rect class="c1" x="258.4" y="307.1" width="9.3" height="9.3"/><rect class="c3" x="267.1" y="307.1" width="9.3" height="9.3"/><rect class="c2" x="275.8" y="307.1" width="9.3" height="9.3"/><rect class="c1" x="284.5" y="307.1" width="9.3" height="9.3"/><rect class="c3" x="293.2" y="307.1" width="9.3" height="9.3"/><rect class="c1" x="301.9" y="307.1" width="26.7" height="9.3"/><rect class="c3" x="328.0" y="307.1" width="9.3" height="9.3"/><rect class="c1" x="336.6" y="307.1" width="9.3" height="9.3"/><rect class="c3" x="345.3" y="307.1" width="9.3" height="9.3"/><rect class="c7" x="354.0" y="307.1" width="9.3" height="9.3"/><rect class="c8" x="362.7" y="307.1" width="9.3" height="9.3"/><rect class="c7" x="371.4" y="307.1" width="9.3" height="9.3"/><rect class="c2" x="380.1" y="307.1" width="9.3" height="9.3"/><rect class="c1" x="388.8" y="307.1" width="9.3" height="9.3"/><rect class="c3" x="397.5" y="307.1" width="9.3" height="9.3"/><rect class="c8" x="406.2" y="307.1" width="9.3" height="9.3"/><rect class="c7" x="414.9" y="307.1" width="9.3" height="9.3"/><rect class="c2" x="423.5" y="307.1" width="9.3" height="9.3"/><rect class="c3" x="432.2" y="307.1" width="18.0" height="9.3"/><rect class="c2" x="449.6" y="307.1" width="9.3" height="9.3"/><rect class="c9" x="458.3" y="307.1" width="9.3" height="9.3"/><rect class="c3" x="467.0" y="307.1" width="18.0" height="9.3"/><rect class="c8" x="484.4" y="307.1" width="18.0" height="9.3"/><rect class="c5" x="501.8" y="307.1" width="9.3" height="9.3"/><rect class="c1" x="510.4" y="307.1" width="9.3" height="9.3"/><rect class="c2" x="519.1" y="307.1" width="9.3" height="9.3"/><rect class="c1" x="527.8" y="307.1" width="9.3" height="9.3"/><rect class="c7" x="536.5" y="307.1" width="9.3" height="9.3"/><rect class="c3" x="545.2" y="307.1" width="9.3" height="9.3"/><rect class="c1" x="553.9" y="307.1" width="18.0" height="9.3"/><rect class="c8" x="571.3" y="307.1" width="9.3" height="9.3"/><rect class="c1" x="580.0" y="307.1" width="9.3" height="9.3"/><rect class="c8" x="588.7" y="307.1" width="9.3" height="9.3"/><rect class="c4" x="597.4" y="307.1" width="9.3" height="9.3"/><rect class="c7" x="606.0" y="307.1" width="9.3" height="9.3"/><rect class="c1" x="614.7" y="307.1" width="9.3" height="9.3"/><rect class="c5" x="623.4" y="307.1" width="9.3" height="9.3"/><rect class="c8" x="632.1" y="307.1" width="9.3" height="9.3"/><rect class="c3" x="640.8" y="307.1" width="9.3" height="9.3"/><rect class="c6" x="649.5" y="307.1" width="9.3" height="9.3"/><rect class="c2" x="658.2" y="307.1" width="9.3" height="9.3"/><rect class="c1" x="666.9" y="307.1" width="9.3" height="9.3"/><rect class="c8" x="675.6" y="307.1" width="8.7" height="9.3"/><rect class="c3" x="162.8" y="315.8" width="18.0" height="9.3"/><rect class="c2" x="180.2" y="315.8" width="18.0" height="9.3"/><rect class="c3" x="197.6" y="315.8" width="9.3" height="9.3"/><rect class="c8" x="206.3" y="315.8" width="9.3" height="9.3"/><rect class="c6" x="215.0" y="315.8" width="9.3" height="9.3"/><rect class="c3" x="223.7" y="315.8" width="9.3" height="9.3"/><rect class="c2" x="232.4" y="315.8" width="9.3" height="9.3"/><rect class="c3" x="241.1" y="315.8" width="9.3" height="9.3"/><rect class="c1" x="249.8" y="315.8" width="9.3" height="9.3"/><rect class="c3" x="258.4" y="315.8" width="9.3" height="9.3"/><rect class="c1" x="267.1" y="315.8" width="9.3" height="9.3"/><rect class="c6" x="275.8" y="315.8" width="9.3" height="9.3"/><rect class="c1" x="284.5" y="315.8" width="9.3" height="9.3"/><rect class="c10" x="293.2" y="315.8" width="9.3" height="9.3"/><rect class="c3" x="301.9" y="315.8" width="9.3" height="9.3"/><rect class="c8" x="310.6" y="315.8" width="9.3" height="9.3"/><rect class="c5" x="319.3" y="315.8" width="9.3" height="9.3"/><rect class="c10" x="328.0" y="315.8" width="9.3" height="9.3"/><rect class="c3" x="336.6" y="315.8" width="9.3" height="9.3"/><rect class="c2" x="345.3" y="315.8" width="9.3" height="9.3"/><rect class="c3" x="354.0" y="315.8" width="9.3" height="9.3"/><rect class="c2" x="362.7" y="315.8" width="9.3" height="9.3"/><rect class="c3" x="371.4" y="315.8" width="9.3" height="9.3"/><rect class="c1" x="380.1" y="315.8" width="9.3" height="9.3"/><rect class="c3" x="388.8" y="315.8" width="9.3" height="9.3"/><rect class="c2" x="397.5" y="315.8" width="18.0" height="9.3"/><rect class="c3" x="414.9" y="315.8" width="9.3" height="9.3"/><rect class="c2" x="423.5" y="315.8" width="9.3" height="9.3"/><rect class="c3" x="432.2" y="315.8" width="9.3" height="9.3"/><rect class="c5" x="440.9" y="315.8" width="18.0" height="9.3"/><rect class="c2" x="458.3" y="315.8" width="9.3" height="9.3"/><rect class="c0" x="467.0" y="315.8" width="9.3" height="9.3"/><rect class="c3" x="475.7" y="315.8" width="9.3" height="9.3"/><rect class="c2" x="484.4" y="315.8" width="18.0" height="9.3"/><rect class="c3" x="501.8" y="315.8" width="18.0" height="9.3"/><rect class="c2" x="519.1" y="315.8" width="9.3" height="9.3"/><rect class="c1" x="527.8" y="315.8" width="9.3" height="9.3"/><rect class="c2" x="536.5" y="315.8" width="9.3" height="9.3"/><rect class="c8" x="545.2" y="315.8" width="9.3" height="9.3"/><rect class="c3" x="553.9" y="315.8" width="9.3" height="9.3"/><rect class="c1" x="562.6" y="315.8" width="9.3" height="9.3"/><rect class="c8" x="571.3" y="315.8" width="9.3" height="9.3"/><rect class="c3" x="580.0" y="315.8" width="18.0" height="9.3"/><rect class="c6" x="597.4" y="315.8" width="18.0" height="9.3"/><rect class="c1" x="614.7" y="315.8" width="9.3" height="9.3"/><rect class="c3" x="623.4" y="315.8" width="9.3" height="9.3"/><rect class="c8" x="632.1" y="315.8" width="9.3" height="9.3"/><rect class="c3" x="640.8" y="315.8" width="9.3" height="9.3"/><rect class="c5" x="649.5" y="315.8" width="9.3" height="9.3"/><rect class="c3" x="658.2" y="315.8" width="9.3" height="9.3"/><rect class="c1" x="666.9" y="315.8" width="9.3" height="9.3"/><rect class="c2" x="675.6" y="315.8" width="8.7" height="9.3"/><rect class="c2" x="162.8" y="324.5" width="9.3" height="9.3"/><rect class="c3" x="171.5" y="324.5" width="9.3" height="9.3"/><rect class="c1" x="180.2" y="324.5" width="18.0" height="9.3"/><rect class="c3" x="197.6" y="324.5" width="9.3" height="9.3"/><rect class="c1" x="206.3" y="324.5" width="9.3" height="9.3"/><rect class="c5" x="215.0" y="324.5" width="9.3" height="9.3"/><rect class="c1" x="223.7" y="324.5" width="9.3" height="9.3"/><rect class="c2" x="232.4" y="324.5" width="18.0" height="9.3"/><rect class="c3" x="249.8" y="324.5" width="9.3" height="9.3"/><rect class="c2" x="258.4" y="324.5" width="9.3" height="9.3"/><rect class="c8" x="267.1" y="324.5" width="9.3" height="9.3"/><rect class="c2" x="275.8" y="324.5" width="9.3" height="9.3"/><rect class="c1" x="284.5" y="324.5" width="9.3" height="9.3"/><rect class="c4" x="293.2" y="324.5" width="9.3" height="9.3"/><rect class="c3" x="301.9" y="324.5" width="9.3" height="9.3"/><rect class="c1" x="310.6" y="324.5" width="9.3" height="9.3"/><rect class="c2" x="319.3" y="324.5" width="26.7" height="9.3"/><rect class="c3" x="345.3" y="324.5" width="18.0" height="9.3"/><rect class="c6" x="362.7" y="324.5" width="9.3" height="9.3"/><rect class="c3" x="371.4" y="324.5" width="26.7" height="9.3"/><rect class="c6" x="397.5" y="324.5" width="9.3" height="9.3"/><rect class="c2" x="406.2" y="324.5" width="9.3" height="9.3"/><rect class="c3" x="414.9" y="324.5" width="9.3" height="9.3"/><rect class="c6" x="423.5" y="324.5" width="9.3" height="9.3"/><rect class="c1" x="432.2" y="324.5" width="9.3" height="9.3"/><rect class="c6" x="440.9" y="324.5" width="9.3" height="9.3"/><rect class="c3" x="449.6" y="324.5" width="26.7" height="9.3"/><rect class="c7" x="475.7" y="324.5" width="9.3" height="9.3"/><rect class="c2" x="484.4" y="324.5" width="9.3" height="9.3"/><rect class="c3" x="493.1" y="324.5" width="9.3" height="9.3"/><rect class="c6" x="501.8" y="324.5" width="9.3" height="9.3"/><rect class="c3" x="510.4" y="324.5" width="9.3" height="9.3"/><rect class="c2" x="519.1" y="324.5" width="9.3" height="9.3"/><rect class="c3" x="527.8" y="324.5" width="18.0" height="9.3"/><rect class="c2" x="545.2" y="324.5" width="9.3" height="9.3"/><rect class="c3" x="553.9" y="324.5" width="9.3" height="9.3"/><rect class="c8" x="562.6" y="324.5" width="9.3" height="9.3"/><rect class="c3" x="571.3" y="324.5" width="9.3" height="9.3"/><rect class="c1" x="580.0" y="324.5" width="9.3" height="9.3"/><rect class="c2" x="588.7" y="324.5" width="9.3" height="9.3"/><rect class="c5" x="597.4" y="324.5" width="9.3" height="9.3"/><rect class="c6" x="606.0" y="324.5" width="9.3" height="9.3"/><rect class="c1" x="614.7" y="324.5" width="9.3" height="9.3"/><rect class="c2" x="623.4" y="324.5" width="9.3" height="9.3"/><rect class="c3" x="632.1" y="324.5" width="9.3" height="9.3"/><rect class="c2" x="640.8" y="324.5" width="9.3" height="9.3"/><rect class="c10" x="649.5" y="324.5" width="9.3" height="9.3"/><rect class="c2" x="658.2" y="324.5" width="9.3" height="9.3"/><rect class="c3" x="666.9" y="324.5" width="17.4" height="9.3"/><rect class="c2" x="162.8" y="333.2" width="9.3" height="9.3"/><rect class="c3" x="171.5" y="333.2" width="9.3" height="9.3"/><rect class="c1" x="180.2" y="333.2" width="9.3" height="9.3"/><rect class="c2" x="188.9" y="333.2" width="9.3" height="9.3"/><rect class="c3" x="197.6" y="333.2" width="9.3" height="9.3"/><rect class="c1" x="206.3" y="333.2" width="9.3" height="9.3"/><rect class="c6" x="215.0" y="333.2" width="9.3" height="9.3"/><rect class="c3" x="223.7" y="333.2" width="9.3" height="9.3"/><rect class="c2" x="232.4" y="333.2" width="9.3" height="9.3"/><rect class="c8" x="241.1" y="333.2" width="9.3" height="9.3"/><rect class="c5" x="249.8" y="333.2" width="9.3" height="9.3"/><rect class="c7" x="258.4" y="333.2" width="9.3" height="9.3"/><rect class="c3" x="267.1" y="333.2" width="18.0" height="9.3"/><rect class="c1" x="284.5" y="333.2" width="9.3" height="9.3"/><rect class="c3" x="293.2" y="333.2" width="9.3" height="9.3"/><rect class="c2" x="301.9" y="333.2" width="9.3" height="9.3"/><rect class="c1" x="310.6" y="333.2" width="9.3" height="9.3"/><rect class="c7" x="319.3" y="333.2" width="9.3" height="9.3"/><rect class="c2" x="328.0" y="333.2" width="9.3" height="9.3"/><rect class="c3" x="336.6" y="333.2" width="9.3" height="9.3"/><rect class="c1" x="345.3" y="333.2" width="9.3" height="9.3"/><rect class="c7" x="354.0" y="333.2" width="9.3" height="9.3"/><rect class="c8" x="362.7" y="333.2" width="9.3" height="9.3"/><rect class="c7" x="371.4" y="333.2" width="9.3" height="9.3"/><rect class="c2" x="380.1" y="333.2" width="9.3" height="9.3"/><rect class="c7" x="388.8" y="333.2" width="9.3" height="9.3"/><rect class="c2" x="397.5" y="333.2" width="9.3" height="9.3"/><rect class="c8" x="406.2" y="333.2" width="18.0" height="9.3"/><rect class="c2" x="423.5" y="333.2" width="9.3" height="9.3"/><rect class="c3" x="432.2" y="333.2" width="9.3" height="9.3"/><rect class="c2" x="440.9" y="333.2" width="9.3" height="9.3"/><rect class="c3" x="449.6" y="333.2" width="9.3" height="9.3"/><rect class="c1" x="458.3" y="333.2" width="9.3" height="9.3"/><rect class="c3" x="467.0" y="333.2" width="9.3" height="9.3"/><rect class="c6" x="475.7" y="333.2" width="9.3" height="9.3"/><rect class="c9" x="484.4" y="333.2" width="9.3" height="9.3"/><rect class="c1" x="493.1" y="333.2" width="9.3" height="9.3"/><rect class="c5" x="501.8" y="333.2" width="9.3" height="9.3"/><rect class="c8" x="510.4" y="333.2" width="9.3" height="9.3"/><rect class="c2" x="519.1" y="333.2" width="9.3" height="9.3"/><rect class="c3" x="527.8" y="333.2" width="9.3" height="9.3"/><rect class="c1" x="536.5" y="333.2" width="9.3" height="9.3"/><rect class="c3" x="545.2" y="333.2" width="9.3" height="9.3"/><rect class="c1" x="553.9" y="333.2" width="9.3" height="9.3"/><rect class="c3" x="562.6" y="333.2" width="9.3" height="9.3"/><rect class="c1" x="571.3" y="333.2" width="26.7" height="9.3"/><rect class="c11" x="597.4" y="333.2" width="9.3" height="9.3"/><rect class="c8" x="606.0" y="333.2" width="9.3" height="9.3"/><rect class="c1" x="614.7" y="333.2" width="9.3" height="9.3"/><rect class="c6" x="623.4" y="333.2" width="9.3" height="9.3"/><rect class="c1" x="632.1" y="333.2" width="9.3" height="9.3"/><rect class="c3" x="640.8" y="333.2" width="35.4" height="9.3"/><rect class="c7" x="675.6" y="333.2" width="8.7" height="9.3"/><rect class="c2" x="162.8" y="341.9" width="9.3" height="9.3"/><rect class="c3" x="171.5" y="341.9" width="9.3" height="9.3"/><rect class="c8" x="180.2" y="341.9" width="9.3" height="9.3"/><rect class="c3" x="188.9" y="341.9" width="9.3" height="9.3"/><rect class="c1" x="197.6" y="341.9" width="18.0" height="9.3"/><rect class="c6" x="215.0" y="341.9" width="9.3" height="9.3"/><rect class="c3" x="223.7" y="341.9" width="18.0" height="9.3"/><rect class="c1" x="241.1" y="341.9" width="9.3" height="9.3"/><rect class="c5" x="249.8" y="341.9" width="9.3" height="9.3"/><rect class="c1" x="258.4" y="341.9" width="9.3" height="9.3"/><rect class="c3" x="267.1" y="341.9" width="9.3" height="9.3"/><rect class="c1" x="275.8" y="341.9" width="9.3" height="9.3"/><rect class="c3" x="284.5" y="341.9" width="26.7" height="9.3"/><rect class="c1" x="310.6" y="341.9" width="9.3" height="9.3"/><rect class="c7" x="319.3" y="341.9" width="9.3" height="9.3"/><rect class="c1" x="328.0" y="341.9" width="9.3" height="9.3"/><rect class="c3" x="336.6" y="341.9" width="9.3" height="9.3"/><rect class="c1" x="345.3" y="341.9" width="9.3" height="9.3"/><rect class="c7" x="354.0" y="341.9" width="9.3" height="9.3"/><rect class="c1" x="362.7" y="341.9" width="9.3" height="9.3"/><rect class="c0" x="371.4" y="341.9" width="9.3" height="9.3"/><rect class="c2" x="380.1" y="341.9" width="9.3" height="9.3"/><rect class="c8" x="388.8" y="341.9" width="9.3" height="9.3"/><rect class="c6" x="397.5" y="341.9" width="9.3" height="9.3"/><rect class="c1" x="406.2" y="341.9" width="9.3" height="9.3"/><rect class="c8" x="414.9" y="341.9" width="9.3" height="9.3"/><rect class="c6" x="423.5" y="341.9" width="9.3" height="9.3"/><rect class="c3" x="432.2" y="341.9" width="9.3" height="9.3"/><rect class="c2" x="440.9" y="341.9" width="9.3" height="9.3"/><rect class="c3" x="449.6" y="341.9" width="9.3" height="9.3"/><rect class="c1" x="458.3" y="341.9" width="9.3" height="9.3"/><rect class="c3" x="467.0" y="341.9" width="18.0" height="9.3"/><rect class="c8" x="484.4" y="341.9" width="9.3" height="9.3"/><rect class="c0" x="493.1" y="341.9" width="9.3" height="9.3"/><rect class="c4" x="501.8" y="341.9" width="9.3" height="9.3"/><rect class="c1" x="510.4" y="341.9" width="9.3" height="9.3"/><rect class="c2" x="519.1" y="341.9" width="9.3" height="9.3"/><rect class="c3" x="527.8" y="341.9" width="9.3" height="9.3"/><rect class="c8" x="536.5" y="341.9" width="9.3" height="9.3"/><rect class="c2" x="545.2" y="341.9" width="9.3" height="9.3"/><rect class="c1" x="553.9" y="341.9" width="9.3" height="9.3"/><rect class="c3" x="562.6" y="341.9" width="18.0" height="9.3"/><rect class="c1" x="580.0" y="341.9" width="18.0" height="9.3"/><rect class="c10" x="597.4" y="341.9" width="9.3" height="9.3"/><rect class="c3" x="606.0" y="341.9" width="9.3" height="9.3"/><rect class="c1" x="614.7" y="341.9" width="9.3" height="9.3"/><rect class="c5" x="623.4" y="341.9" width="9.3" height="9.3"/><rect class="c3" x="632.1" y="341.9" width="9.3" height="9.3"/><rect class="c2" x="640.8" y="341.9" width="26.7" height="9.3"/><rect class="c3" x="666.9" y="341.9" width="9.3" height="9.3"/><rect class="c7" x="675.6" y="341.9" width="8.7" height="9.3"/><rect class="c3" x="162.8" y="350.6" width="9.3" height="9.3"/><rect class="c6" x="171.5" y="350.6" width="9.3" height="9.3"/><rect class="c5" x="180.2" y="350.6" width="18.0" height="9.3"/><rect class="c2" x="197.6" y="350.6" width="35.4" height="9.3"/><rect class="c6" x="232.4" y="350.6" width="18.0" height="9.3"/><rect class="c1" x="249.8" y="350.6" width="9.3" height="9.3"/><rect class="c6" x="258.4" y="350.6" width="9.3" height="9.3"/><rect class="c3" x="267.1" y="350.6" width="9.3" height="9.3"/><rect class="c10" x="275.8" y="350.6" width="9.3" height="9.3"/><rect class="c2" x="284.5" y="350.6" width="9.3" height="9.3"/><rect class="c12" x="293.2" y="350.6" width="9.3" height="9.3"/><rect class="c6" x="301.9" y="350.6" width="9.3" height="9.3"/><rect class="c1" x="310.6" y="350.6" width="9.3" height="9.3"/><rect class="c11" x="319.3" y="350.6" width="9.3" height="9.3"/><rect class="c13" x="328.0" y="350.6" width="9.3" height="9.3"/><rect class="c2" x="336.6" y="350.6" width="9.3" height="9.3"/><rect class="c4" x="345.3" y="350.6" width="18.0" height="9.3"/><rect class="c5" x="362.7" y="350.6" width="18.0" height="9.3"/><rect class="c1" x="380.1" y="350.6" width="9.3" height="9.3"/><rect class="c4" x="388.8" y="350.6" width="9.3" height="9.3"/><rect class="c6" x="397.5" y="350.6" width="9.3" height="9.3"/><rect class="c5" x="406.2" y="350.6" width="9.3" height="9.3"/><rect class="c6" x="414.9" y="350.6" width="9.3" height="9.3"/><rect class="c3" x="423.5" y="350.6" width="18.0" height="9.3"/><rect class="c4" x="440.9" y="350.6" width="9.3" height="9.3"/><rect class="c10" x="449.6" y="350.6" width="9.3" height="9.3"/><rect class="c4" x="458.3" y="350.6" width="9.3" height="9.3"/><rect class="c3" x="467.0" y="350.6" width="9.3" height="9.3"/><rect class="c6" x="475.7" y="350.6" width="9.3" height="9.3"/><rect class="c5" x="484.4" y="350.6" width="9.3" height="9.3"/><rect class="c4" x="493.1" y="350.6" width="9.3" height="9.3"/><rect class="c9" x="501.8" y="350.6" width="9.3" height="9.3"/><rect class="c3" x="510.4" y="350.6" width="9.3" height="9.3"/><rect class="c6" x="519.1" y="350.6" width="9.3" height="9.3"/><rect class="c3" x="527.8" y="350.6" width="9.3" height="9.3"/><rect class="c10" x="536.5" y="350.6" width="9.3" height="9.3"/><rect class="c1" x="545.2" y="350.6" width="9.3" height="9.3"/><rect class="c5" x="553.9" y="350.6" width="9.3" height="9.3"/><rect class="c2" x="562.6" y="350.6" width="9.3" height="9.3"/><rect class="c3" x="571.3" y="350.6" width="9.3" height="9.3"/><rect class="c6" x="580.0" y="350.6" width="18.0" height="9.3"/><rect class="c3" x="597.4" y="350.6" width="9.3" height="9.3"/><rect class="c10" x="606.0" y="350.6" width="9.3" height="9.3"/><rect class="c2" x="614.7" y="350.6" width="9.3" height="9.3"/><rect class="c3" x="623.4" y="350.6" width="18.0" height="9.3"/><rect class="c6" x="640.8" y="350.6" width="9.3" height="9.3"/><rect class="c5" x="649.5" y="350.6" width="9.3" height="9.3"/><rect class="c6" x="658.2" y="350.6" width="9.3" height="9.3"/><rect class="c1" x="666.9" y="350.6" width="9.3" height="9.3"/><rect class="c4" x="675.6" y="350.6" width="8.7" height="9.3"/><rect class="c3" x="162.8" y="359.2" width="9.3" height="9.3"/><rect class="c1" x="171.5" y="359.2" width="18.0" height="9.3"/><rect class="c3" x="188.9" y="359.2" width="9.3" height="9.3"/><rect class="c7" x="197.6" y="359.2" width="18.0" height="9.3"/><rect class="c3" x="215.0" y="359.2" width="9.3" height="9.3"/><rect class="c1" x="223.7" y="359.2" width="9.3" height="9.3"/><rect class="c3" x="232.4" y="359.2" width="9.3" height="9.3"/><rect class="c1" x="241.1" y="359.2" width="9.3" height="9.3"/><rect class="c3" x="249.8" y="359.2" width="9.3" height="9.3"/><rect class="c1" x="258.4" y="359.2" width="18.0" height="9.3"/><rect class="c3" x="275.8" y="359.2" width="9.3" height="9.3"/><rect class="c8" x="284.5" y="359.2" width="9.3" height="9.3"/><rect class="c6" x="293.2" y="359.2" width="9.3" height="9.3"/><rect class="c2" x="301.9" y="359.2" width="9.3" height="9.3"/><rect class="c0" x="310.6" y="359.2" width="9.3" height="9.3"/><rect class="c3" x="319.3" y="359.2" width="9.3" height="9.3"/><rect class="c6" x="328.0" y="359.2" width="9.3" height="9.3"/><rect class="c1" x="336.6" y="359.2" width="18.0" height="9.3"/><rect class="c3" x="354.0" y="359.2" width="9.3" height="9.3"/><rect class="c1" x="362.7" y="359.2" width="18.0" height="9.3"/><rect class="c8" x="380.1" y="359.2" width="18.0" height="9.3"/><rect class="c3" x="397.5" y="359.2" width="9.3" height="9.3"/><rect class="c1" x="406.2" y="359.2" width="18.0" height="9.3"/><rect class="c3" x="423.5" y="359.2" width="9.3" height="9.3"/><rect class="c8" x="432.2" y="359.2" width="9.3" height="9.3"/><rect class="c3" x="440.9" y="359.2" width="9.3" height="9.3"/><rect class="c2" x="449.6" y="359.2" width="9.3" height="9.3"/><rect class="c1" x="458.3" y="359.2" width="18.0" height="9.3"/><rect class="c3" x="475.7" y="359.2" width="9.3" height="9.3"/><rect class="c8" x="484.4" y="359.2" width="9.3" height="9.3"/><rect class="c1" x="493.1" y="359.2" width="9.3" height="9.3"/><rect class="c3" x="501.8" y="359.2" width="9.3" height="9.3"/><rect class="c14" x="510.4" y="359.2" width="9.3" height="9.3"/><rect class="c3" x="519.1" y="359.2" width="9.3" height="9.3"/><rect class="c1" x="527.8" y="359.2" width="9.3" height="9.3"/><rect class="c3" x="536.5" y="359.2" width="9.3" height="9.3"/><rect class="c8" x="545.2" y="359.2" width="9.3" height="9.3"/><rect class="c3" x="553.9" y="359.2" width="18.0" height="9.3"/><rect class="c8" x="571.3" y="359.2" width="18.0" height="9.3"/><rect class="c1" x="588.7" y="359.2" width="9.3" height="9.3"/><rect class="c2" x="597.4" y="359.2" width="9.3" height="9.3"/><rect class="c3" x="606.0" y="359.2" width="9.3" height="9.3"/><rect class="c8" x="614.7" y="359.2" width="9.3" height="9.3"/><rect class="c3" x="623.4" y="359.2" width="9.3" height="9.3"/><rect class="c1" x="632.1" y="359.2" width="18.0" height="9.3"/><rect class="c2" x="649.5" y="359.2" width="9.3" height="9.3"/><rect class="c1" x="658.2" y="359.2" width="9.3" height="9.3"/><rect class="c7" x="666.9" y="359.2" width="9.3" height="9.3"/><rect class="c1" x="675.6" y="359.2" width="8.7" height="9.3"/><rect class="c6" x="162.8" y="367.9" width="18.0" height="9.3"/><rect class="c2" x="180.2" y="367.9" width="9.3" height="9.3"/><rect class="c5" x="188.9" y="367.9" width="9.3" height="9.3"/><rect class="c2" x="197.6" y="367.9" width="9.3" height="9.3"/><rect class="c3" x="206.3" y="367.9" width="9.3" height="9.3"/><rect class="c6" x="215.0" y="367.9" width="9.3" height="9.3"/><rect class="c2" x="223.7" y="367.9" width="9.3" height="9.3"/><rect class="c6" x="232.4" y="367.9" width="18.0" height="9.3"/><rect class="c5" x="249.8" y="367.9" width="9.3" height="9.3"/><rect class="c6" x="258.4" y="367.9" width="18.0" height="9.3"/><rect class="c5" x="275.8" y="367.9" width="9.3" height="9.3"/><rect class="c2" x="284.5" y="367.9" width="9.3" height="9.3"/><rect class="c10" x="293.2" y="367.9" width="9.3" height="9.3"/><rect class="c4" x="301.9" y="367.9" width="9.3" height="9.3"/><rect class="c2" x="310.6" y="367.9" width="9.3" height="9.3"/><rect class="c5" x="319.3" y="367.9" width="9.3" height="9.3"/><rect class="c10" x="328.0" y="367.9" width="9.3" height="9.3"/><rect class="c2" x="336.6" y="367.9" width="9.3" height="9.3"/><rect class="c5" x="345.3" y="367.9" width="9.3" height="9.3"/><rect class="c2" x="354.0" y="367.9" width="26.7" height="9.3"/><rect class="c3" x="380.1" y="367.9" width="9.3" height="9.3"/><rect class="c6" x="388.8" y="367.9" width="9.3" height="9.3"/><rect class="c5" x="397.5" y="367.9" width="9.3" height="9.3"/><rect class="c2" x="406.2" y="367.9" width="26.7" height="9.3"/><rect class="c3" x="432.2" y="367.9" width="9.3" height="9.3"/><rect class="c5" x="440.9" y="367.9" width="18.0" height="9.3"/><rect class="c6" x="458.3" y="367.9" width="26.7" height="9.3"/><rect class="c2" x="484.4" y="367.9" width="9.3" height="9.3"/><rect class="c6" x="493.1" y="367.9" width="18.0" height="9.3"/><rect class="c3" x="510.4" y="367.9" width="9.3" height="9.3"/><rect class="c9" x="519.1" y="367.9" width="9.3" height="9.3"/><rect class="c6" x="527.8" y="367.9" width="9.3" height="9.3"/><rect class="c5" x="536.5" y="367.9" width="9.3" height="9.3"/><rect class="c3" x="545.2" y="367.9" width="9.3" height="9.3"/><rect class="c6" x="553.9" y="367.9" width="9.3" height="9.3"/><rect class="c2" x="562.6" y="367.9" width="9.3" height="9.3"/><rect class="c6" x="571.3" y="367.9" width="18.0" height="9.3"/><rect class="c2" x="588.7" y="367.9" width="9.3" height="9.3"/><rect class="c11" x="597.4" y="367.9" width="9.3" height="9.3"/><rect class="c5" x="606.0" y="367.9" width="9.3" height="9.3"/><rect class="c6" x="614.7" y="367.9" width="9.3" height="9.3"/><rect class="c5" x="623.4" y="367.9" width="9.3" height="9.3"/><rect class="c2" x="632.1" y="367.9" width="9.3" height="9.3"/><rect class="c6" x="640.8" y="367.9" width="9.3" height="9.3"/><rect class="c5" x="649.5" y="367.9" width="9.3" height="9.3"/><rect class="c6" x="658.2" y="367.9" width="9.3" height="9.3"/><rect class="c2" x="666.9" y="367.9" width="9.3" height="9.3"/><rect class="c6" x="675.6" y="367.9" width="8.7" height="9.3"/><rect class="c1" x="162.8" y="376.6" width="9.3" height="9.3"/><rect class="c8" x="171.5" y="376.6" width="9.3" height="9.3"/><rect class="c3" x="180.2" y="376.6" width="18.0" height="9.3"/><rect class="c1" x="197.6" y="376.6" width="18.0" height="9.3"/><rect class="c3" x="215.0" y="376.6" width="9.3" height="9.3"/><rect class="c1" x="223.7" y="376.6" width="9.3" height="9.3"/><rect class="c3" x="232.4" y="376.6" width="9.3" height="9.3"/><rect class="c1" x="241.1" y="376.6" width="9.3" height="9.3"/><rect class="c3" x="249.8" y="376.6" width="9.3" height="9.3"/><rect class="c1" x="258.4" y="376.6" width="18.0" height="9.3"/><rect class="c3" x="275.8" y="376.6" width="18.0" height="9.3"/><rect class="c4" x="293.2" y="376.6" width="9.3" height="9.3"/><rect class="c3" x="301.9" y="376.6" width="9.3" height="9.3"/><rect class="c1" x="310.6" y="376.6" width="9.3" height="9.3"/><rect class="c2" x="319.3" y="376.6" width="9.3" height="9.3"/><rect class="c4" x="328.0" y="376.6" width="9.3" height="9.3"/><rect class="c1" x="336.6" y="376.6" width="9.3" height="9.3"/><rect class="c3" x="345.3" y="376.6" width="26.7" height="9.3"/><rect class="c1" x="371.4" y="376.6" width="18.0" height="9.3"/><rect class="c3" x="388.8" y="376.6" width="9.3" height="9.3"/><rect class="c1" x="397.5" y="376.6" width="9.3" height="9.3"/><rect class="c3" x="406.2" y="376.6" width="9.3" height="9.3"/><rect class="c1" x="414.9" y="376.6" width="9.3" height="9.3"/><rect class="c3" x="423.5" y="376.6" width="9.3" height="9.3"/><rect class="c1" x="432.2" y="376.6" width="9.3" height="9.3"/><rect class="c3" x="440.9" y="376.6" width="9.3" height="9.3"/><rect class="c2" x="449.6" y="376.6" width="9.3" height="9.3"/><rect class="c3" x="458.3" y="376.6" width="9.3" height="9.3"/><rect class="c1" x="467.0" y="376.6" width="9.3" height="9.3"/><rect class="c3" x="475.7" y="376.6" width="18.0" height="9.3"/><rect class="c2" x="493.1" y="376.6" width="9.3" height="9.3"/><rect class="c3" x="501.8" y="376.6" width="9.3" height="9.3"/><rect class="c1" x="510.4" y="376.6" width="9.3" height="9.3"/><rect class="c6" x="519.1" y="376.6" width="9.3" height="9.3"/><rect class="c0" x="527.8" y="376.6" width="9.3" height="9.3"/><rect class="c2" x="536.5" y="376.6" width="9.3" height="9.3"/><rect class="c1" x="545.2" y="376.6" width="26.7" height="9.3"/><rect class="c8" x="571.3" y="376.6" width="9.3" height="9.3"/><rect class="c3" x="580.0" y="376.6" width="9.3" height="9.3"/><rect class="c1" x="588.7" y="376.6" width="9.3" height="9.3"/><rect class="c6" x="597.4" y="376.6" width="9.3" height="9.3"/><rect class="c2" x="606.0" y="376.6" width="9.3" height="9.3"/><rect class="c1" x="614.7" y="376.6" width="9.3" height="9.3"/><rect class="c2" x="623.4" y="376.6" width="9.3" height="9.3"/><rect class="c7" x="632.1" y="376.6" width="9.3" height="9.3"/><rect class="c2" x="640.8" y="376.6" width="18.0" height="9.3"/><rect class="c3" x="658.2" y="376.6" width="9.3" height="9.3"/><rect class="c8" x="666.9" y="376.6" width="9.3" height="9.3"/><rect class="c2" x="675.6" y="376.6" width="8.7" height="9.3"/><rect class="c2" x="162.8" y="385.3" width="9.3" height="9.3"/><rect class="c3" x="171.5" y="385.3" width="9.3" height="9.3"/><rect class="c1" x="180.2" y="385.3" width="9.3" height="9.3"/><rect class="c2" x="188.9" y="385.3" width="9.3" height="9.3"/><rect class="c3" x="197.6" y="385.3" width="9.3" height="9.3"/><rect class="c1" x="206.3" y="385.3" width="9.3" height="9.3"/><rect class="c4" x="215.0" y="385.3" width="9.3" height="9.3"/><rect class="c2" x="223.7" y="385.3" width="18.0" height="9.3"/><rect class="c3" x="241.1" y="385.3" width="9.3" height="9.3"/><rect class="c6" x="249.8" y="385.3" width="9.3" height="9.3"/><rect class="c3" x="258.4" y="385.3" width="26.7" height="9.3"/><rect class="c1" x="284.5" y="385.3" width="9.3" height="9.3"/><rect class="c3" x="293.2" y="385.3" width="9.3" height="9.3"/><rect class="c8" x="301.9" y="385.3" width="9.3" height="9.3"/><rect class="c1" x="310.6" y="385.3" width="9.3" height="9.3"/><rect class="c8" x="319.3" y="385.3" width="9.3" height="9.3"/><rect class="c3" x="328.0" y="385.3" width="9.3" height="9.3"/><rect class="c2" x="336.6" y="385.3" width="9.3" height="9.3"/><rect class="c1" x="345.3" y="385.3" width="9.3" height="9.3"/><rect class="c8" x="354.0" y="385.3" width="9.3" height="9.3"/><rect class="c3" x="362.7" y="385.3" width="9.3" height="9.3"/><rect class="c8" x="371.4" y="385.3" width="9.3" height="9.3"/><rect class="c2" x="380.1" y="385.3" width="9.3" height="9.3"/><rect class="c8" x="388.8" y="385.3" width="9.3" height="9.3"/><rect class="c6" x="397.5" y="385.3" width="9.3" height="9.3"/><rect class="c1" x="406.2" y="385.3" width="9.3" height="9.3"/><rect class="c8" x="414.9" y="385.3" width="9.3" height="9.3"/><rect class="c6" x="423.5" y="385.3" width="9.3" height="9.3"/><rect class="c3" x="432.2" y="385.3" width="9.3" height="9.3"/><rect class="c6" x="440.9" y="385.3" width="9.3" height="9.3"/><rect class="c2" x="449.6" y="385.3" width="9.3" height="9.3"/><rect class="c7" x="458.3" y="385.3" width="9.3" height="9.3"/><rect class="c3" x="467.0" y="385.3" width="18.0" height="9.3"/><rect class="c1" x="484.4" y="385.3" width="9.3" height="9.3"/><rect class="c8" x="493.1" y="385.3" width="9.3" height="9.3"/><rect class="c4" x="501.8" y="385.3" width="9.3" height="9.3"/><rect class="c1" x="510.4" y="385.3" width="9.3" height="9.3"/><rect class="c5" x="519.1" y="385.3" width="9.3" height="9.3"/><rect class="c3" x="527.8" y="385.3" width="9.3" height="9.3"/><rect class="c9" x="536.5" y="385.3" width="9.3" height="9.3"/><rect class="c2" x="545.2" y="385.3" width="9.3" height="9.3"/><rect class="c1" x="553.9" y="385.3" width="9.3" height="9.3"/><rect class="c3" x="562.6" y="385.3" width="18.0" height="9.3"/><rect class="c8" x="580.0" y="385.3" width="9.3" height="9.3"/><rect class="c3" x="588.7" y="385.3" width="9.3" height="9.3"/><rect class="c5" x="597.4" y="385.3" width="9.3" height="9.3"/><rect class="c1" x="606.0" y="385.3" width="18.0" height="9.3"/><rect class="c4" x="623.4" y="385.3" width="9.3" height="9.3"/><rect class="c3" x="632.1" y="385.3" width="18.0" height="9.3"/><rect class="c5" x="649.5" y="385.3" width="9.3" height="9.3"/><rect class="c6" x="658.2" y="385.3" width="9.3" height="9.3"/><rect class="c3" x="666.9" y="385.3" width="9.3" height="9.3"/><rect class="c8" x="675.6" y="385.3" width="8.7" height="9.3"/><rect class="c2" x="162.8" y="394.0" width="9.3" height="9.3"/><rect class="c3" x="171.5" y="394.0" width="18.0" height="9.3"/><rect class="c2" x="188.9" y="394.0" width="9.3" height="9.3"/><rect class="c1" x="197.6" y="394.0" width="9.3" height="9.3"/><rect class="c8" x="206.3" y="394.0" width="9.3" height="9.3"/><rect class="c2" x="215.0" y="394.0" width="9.3" height="9.3"/><rect class="c3" x="223.7" y="394.0" width="9.3" height="9.3"/><rect class="c2" x="232.4" y="394.0" width="9.3" height="9.3"/><rect class="c3" x="241.1" y="394.0" width="26.7" height="9.3"/><rect class="c1" x="267.1" y="394.0" width="9.3" height="9.3"/><rect class="c6" x="275.8" y="394.0" width="9.3" height="9.3"/><rect class="c1" x="284.5" y="394.0" width="9.3" height="9.3"/><rect class="c11" x="293.2" y="394.0" width="9.3" height="9.3"/><rect class="c2" x="301.9" y="394.0" width="9.3" height="9.3"/><rect class="c7" x="310.6" y="394.0" width="9.3" height="9.3"/><rect class="c5" x="319.3" y="394.0" width="9.3" height="9.3"/><rect class="c10" x="328.0" y="394.0" width="9.3" height="9.3"/><rect class="c3" x="336.6" y="394.0" width="18.0" height="9.3"/><rect class="c2" x="354.0" y="394.0" width="9.3" height="9.3"/><rect class="c3" x="362.7" y="394.0" width="18.0" height="9.3"/><rect class="c1" x="380.1" y="394.0" width="9.3" height="9.3"/><rect class="c3" x="388.8" y="394.0" width="9.3" height="9.3"/><rect class="c2" x="397.5" y="394.0" width="9.3" height="9.3"/><rect class="c3" x="406.2" y="394.0" width="18.0" height="9.3"/><rect class="c2" x="423.5" y="394.0" width="9.3" height="9.3"/><rect class="c7" x="432.2" y="394.0" width="9.3" height="9.3"/><rect class="c5" x="440.9" y="394.0" width="9.3" height="9.3"/><rect class="c6" x="449.6" y="394.0" width="9.3" height="9.3"/><rect class="c3" x="458.3" y="394.0" width="9.3" height="9.3"/><rect class="c1" x="467.0" y="394.0" width="9.3" height="9.3"/><rect class="c3" x="475.7" y="394.0" width="18.0" height="9.3"/><rect class="c2" x="493.1" y="394.0" width="9.3" height="9.3"/><rect class="c1" x="501.8" y="394.0" width="9.3" height="9.3"/><rect class="c8" x="510.4" y="394.0" width="9.3" height="9.3"/><rect class="c2" x="519.1" y="394.0" width="9.3" height="9.3"/><rect class="c3" x="527.8" y="394.0" width="9.3" height="9.3"/><rect class="c2" x="536.5" y="394.0" width="9.3" height="9.3"/><rect class="c0" x="545.2" y="394.0" width="9.3" height="9.3"/><rect class="c3" x="553.9" y="394.0" width="18.0" height="9.3"/><rect class="c1" x="571.3" y="394.0" width="9.3" height="9.3"/><rect class="c3" x="580.0" y="394.0" width="18.0" height="9.3"/><rect class="c6" x="597.4" y="394.0" width="18.0" height="9.3"/><rect class="c8" x="614.7" y="394.0" width="9.3" height="9.3"/><rect class="c1" x="623.4" y="394.0" width="18.0" height="9.3"/><rect class="c3" x="640.8" y="394.0" width="9.3" height="9.3"/><rect class="c5" x="649.5" y="394.0" width="9.3" height="9.3"/><rect class="c1" x="658.2" y="394.0" width="9.3" height="9.3"/><rect class="c8" x="666.9" y="394.0" width="9.3" height="9.3"/><rect class="c2" x="675.6" y="394.0" width="8.7" height="9.3"/><rect class="c3" x="162.8" y="402.7" width="35.4" height="9.3"/><rect class="c1" x="197.6" y="402.7" width="18.0" height="9.3"/><rect class="c5" x="215.0" y="402.7" width="9.3" height="9.3"/><rect class="c1" x="223.7" y="402.7" width="9.3" height="9.3"/><rect class="c2" x="232.4" y="402.7" width="9.3" height="9.3"/><rect class="c3" x="241.1" y="402.7" width="9.3" height="9.3"/><rect class="c5" x="249.8" y="402.7" width="9.3" height="9.3"/><rect class="c1" x="258.4" y="402.7" width="18.0" height="9.3"/><rect class="c3" x="275.8" y="402.7" width="9.3" height="9.3"/><rect class="c1" x="284.5" y="402.7" width="9.3" height="9.3"/><rect class="c5" x="293.2" y="402.7" width="9.3" height="9.3"/><rect class="c3" x="301.9" y="402.7" width="9.3" height="9.3"/><rect class="c1" x="310.6" y="402.7" width="9.3" height="9.3"/><rect class="c3" x="319.3" y="402.7" width="9.3" height="9.3"/><rect class="c6" x="328.0" y="402.7" width="9.3" height="9.3"/><rect class="c3" x="336.6" y="402.7" width="9.3" height="9.3"/><rect class="c1" x="345.3" y="402.7" width="18.0" height="9.3"/><rect class="c3" x="362.7" y="402.7" width="9.3" height="9.3"/><rect class="c1" x="371.4" y="402.7" width="9.3" height="9.3"/><rect class="c2" x="380.1" y="402.7" width="9.3" height="9.3"/><rect class="c8" x="388.8" y="402.7" width="9.3" height="9.3"/><rect class="c3" x="397.5" y="402.7" width="18.0" height="9.3"/><rect class="c1" x="414.9" y="402.7" width="9.3" height="9.3"/><rect class="c6" x="423.5" y="402.7" width="9.3" height="9.3"/><rect class="c3" x="432.2" y="402.7" width="9.3" height="9.3"/><rect class="c2" x="440.9" y="402.7" width="9.3" height="9.3"/><rect class="c3" x="449.6" y="402.7" width="9.3" height="9.3"/><rect class="c1" x="458.3" y="402.7" width="18.0" height="9.3"/><rect class="c3" x="475.7" y="402.7" width="9.3" height="9.3"/><rect class="c1" x="484.4" y="402.7" width="18.0" height="9.3"/><rect class="c6" x="501.8" y="402.7" width="9.3" height="9.3"/><rect class="c1" x="510.4" y="402.7" width="9.3" height="9.3"/><rect class="c2" x="519.1" y="402.7" width="9.3" height="9.3"/><rect class="c1" x="527.8" y="402.7" width="9.3" height="9.3"/><rect class="c3" x="536.5" y="402.7" width="18.0" height="9.3"/><rect class="c7" x="553.9" y="402.7" width="9.3" height="9.3"/><rect class="c3" x="562.6" y="402.7" width="9.3" height="9.3"/><rect class="c1" x="571.3" y="402.7" width="9.3" height="9.3"/><rect class="c3" x="580.0" y="402.7" width="18.0" height="9.3"/><rect class="c4" x="597.4" y="402.7" width="9.3" height="9.3"/><rect class="c3" x="606.0" y="402.7" width="9.3" height="9.3"/><rect class="c1" x="614.7" y="402.7" width="9.3" height="9.3"/><rect class="c6" x="623.4" y="402.7" width="9.3" height="9.3"/><rect class="c1" x="632.1" y="402.7" width="9.3" height="9.3"/><rect class="c2" x="640.8" y="402.7" width="9.3" height="9.3"/><rect class="c5" x="649.5" y="402.7" width="9.3" height="9.3"/><rect class="c3" x="658.2" y="402.7" width="9.3" height="9.3"/><rect class="c1" x="666.9" y="402.7" width="9.3" height="9.3"/><rect class="c3" x="675.6" y="402.7" width="8.7" height="9.3"/><rect class="c8" x="162.8" y="411.4" width="9.3" height="9.3"/><rect class="c1" x="171.5" y="411.4" width="9.3" height="9.3"/><rect class="c3" x="180.2" y="411.4" width="26.7" height="9.3"/><rect class="c1" x="206.3" y="411.4" width="9.3" height="9.3"/><rect class="c2" x="215.0" y="411.4" width="9.3" height="9.3"/><rect class="c1" x="223.7" y="411.4" width="26.7" height="9.3"/><rect class="c3" x="249.8" y="411.4" width="9.3" height="9.3"/><rect class="c1" x="258.4" y="411.4" width="18.0" height="9.3"/><rect class="c3" x="275.8" y="411.4" width="9.3" height="9.3"/><rect class="c1" x="284.5" y="411.4" width="9.3" height="9.3"/><rect class="c6" x="293.2" y="411.4" width="9.3" height="9.3"/><rect class="c1" x="301.9" y="411.4" width="9.3" height="9.3"/><rect class="c8" x="310.6" y="411.4" width="9.3" height="9.3"/><rect class="c2" x="319.3" y="411.4" width="18.0" height="9.3"/><rect class="c3" x="336.6" y="411.4" width="18.0" height="9.3"/><rect class="c1" x="354.0" y="411.4" width="9.3" height="9.3"/><rect class="c3" x="362.7" y="411.4" width="9.3" height="9.3"/><rect class="c1" x="371.4" y="411.4" width="18.0" height="9.3"/><rect class="c3" x="388.8" y="411.4" width="26.7" height="9.3"/><rect class="c1" x="414.9" y="411.4" width="9.3" height="9.3"/><rect class="c2" x="423.5" y="411.4" width="9.3" height="9.3"/><rect class="c1" x="432.2" y="411.4" width="9.3" height="9.3"/><rect class="c3" x="440.9" y="411.4" width="18.0" height="9.3"/><rect class="c1" x="458.3" y="411.4" width="26.7" height="9.3"/><rect class="c3" x="484.4" y="411.4" width="18.0" height="9.3"/><rect class="c2" x="501.8" y="411.4" width="9.3" height="9.3"/><rect class="c1" x="510.4" y="411.4" width="9.3" height="9.3"/><rect class="c2" x="519.1" y="411.4" width="9.3" height="9.3"/><rect class="c1" x="527.8" y="411.4" width="9.3" height="9.3"/><rect class="c3" x="536.5" y="411.4" width="18.0" height="9.3"/><rect class="c1" x="553.9" y="411.4" width="9.3" height="9.3"/><rect class="c0" x="562.6" y="411.4" width="9.3" height="9.3"/><rect class="c1" x="571.3" y="411.4" width="9.3" height="9.3"/><rect class="c3" x="580.0" y="411.4" width="9.3" height="9.3"/><rect class="c1" x="588.7" y="411.4" width="9.3" height="9.3"/><rect class="c5" x="597.4" y="411.4" width="9.3" height="9.3"/><rect class="c3" x="606.0" y="411.4" width="9.3" height="9.3"/><rect class="c1" x="614.7" y="411.4" width="9.3" height="9.3"/><rect class="c6" x="623.4" y="411.4" width="9.3" height="9.3"/><rect class="c8" x="632.1" y="411.4" width="9.3" height="9.3"/><rect class="c2" x="640.8" y="411.4" width="9.3" height="9.3"/><rect class="c5" x="649.5" y="411.4" width="9.3" height="9.3"/><rect class="c6" x="658.2" y="411.4" width="9.3" height="9.3"/><rect class="c1" x="666.9" y="411.4" width="9.3" height="9.3"/><rect class="c2" x="675.6" y="411.4" width="8.7" height="9.3"/><rect class="c1" x="162.8" y="420.1" width="9.3" height="9.3"/><rect class="c8" x="171.5" y="420.1" width="9.3" height="9.3"/><rect class="c3" x="180.2" y="420.1" width="9.3" height="9.3"/><rect class="c2" x="188.9" y="420.1" width="9.3" height="9.3"/><rect class="c1" x="197.6" y="420.1" width="9.3" height="9.3"/><rect class="c7" x="206.3" y="420.1" width="9.3" height="9.3"/><rect class="c3" x="215.0" y="420.1" width="9.3" height="9.3"/><rect class="c1" x="223.7" y="420.1" width="18.0" height="9.3"/><rect class="c8" x="241.1" y="420.1" width="9.3" height="9.3"/><rect class="c1" x="249.8" y="420.1" width="26.7" height="9.3"/><rect class="c6" x="275.8" y="420.1" width="9.3" height="9.3"/><rect class="c1" x="284.5" y="420.1" width="9.3" height="9.3"/><rect class="c4" x="293.2" y="420.1" width="9.3" height="9.3"/><rect class="c1" x="301.9" y="420.1" width="9.3" height="9.3"/><rect class="c7" x="310.6" y="420.1" width="9.3" height="9.3"/><rect class="c2" x="319.3" y="420.1" width="9.3" height="9.3"/><rect class="c4" x="328.0" y="420.1" width="9.3" height="9.3"/><rect class="c8" x="336.6" y="420.1" width="9.3" height="9.3"/><rect class="c2" x="345.3" y="420.1" width="9.3" height="9.3"/><rect class="c3" x="354.0" y="420.1" width="9.3" height="9.3"/><rect class="c1" x="362.7" y="420.1" width="18.0" height="9.3"/><rect class="c8" x="380.1" y="420.1" width="9.3" height="9.3"/><rect class="c1" x="388.8" y="420.1" width="35.4" height="9.3"/><rect class="c8" x="423.5" y="420.1" width="9.3" height="9.3"/><rect class="c1" x="432.2" y="420.1" width="9.3" height="9.3"/><rect class="c3" x="440.9" y="420.1" width="9.3" height="9.3"/><rect class="c6" x="449.6" y="420.1" width="9.3" height="9.3"/><rect class="c1" x="458.3" y="420.1" width="9.3" height="9.3"/><rect class="c8" x="467.0" y="420.1" width="9.3" height="9.3"/><rect class="c3" x="475.7" y="420.1" width="35.4" height="9.3"/><rect class="c8" x="510.4" y="420.1" width="9.3" height="9.3"/><rect class="c2" x="519.1" y="420.1" width="9.3" height="9.3"/><rect class="c1" x="527.8" y="420.1" width="9.3" height="9.3"/><rect class="c3" x="536.5" y="420.1" width="9.3" height="9.3"/><rect class="c1" x="545.2" y="420.1" width="26.7" height="9.3"/><rect class="c0" x="571.3" y="420.1" width="9.3" height="9.3"/><rect class="c1" x="580.0" y="420.1" width="18.0" height="9.3"/><rect class="c2" x="597.4" y="420.1" width="9.3" height="9.3"/><rect class="c3" x="606.0" y="420.1" width="9.3" height="9.3"/><rect class="c1" x="614.7" y="420.1" width="9.3" height="9.3"/><rect class="c2" x="623.4" y="420.1" width="9.3" height="9.3"/><rect class="c7" x="632.1" y="420.1" width="9.3" height="9.3"/><rect class="c3" x="640.8" y="420.1" width="9.3" height="9.3"/><rect class="c2" x="649.5" y="420.1" width="9.3" height="9.3"/><rect class="c3" x="658.2" y="420.1" width="9.3" height="9.3"/><rect class="c7" x="666.9" y="420.1" width="9.3" height="9.3"/><rect class="c2" x="675.6" y="420.1" width="8.7" height="9.3"/><rect class="c2" x="162.8" y="428.8" width="9.3" height="9.3"/><rect class="c1" x="171.5" y="428.8" width="18.0" height="9.3"/><rect class="c3" x="188.9" y="428.8" width="9.3" height="9.3"/><rect class="c8" x="197.6" y="428.8" width="18.0" height="9.3"/><rect class="c2" x="215.0" y="428.8" width="9.3" height="9.3"/><rect class="c3" x="223.7" y="428.8" width="18.0" height="9.3"/><rect class="c1" x="241.1" y="428.8" width="9.3" height="9.3"/><rect class="c2" x="249.8" y="428.8" width="9.3" height="9.3"/><rect class="c1" x="258.4" y="428.8" width="9.3" height="9.3"/><rect class="c8" x="267.1" y="428.8" width="9.3" height="9.3"/><rect class="c1" x="275.8" y="428.8" width="9.3" height="9.3"/><rect class="c8" x="284.5" y="428.8" width="9.3" height="9.3"/><rect class="c6" x="293.2" y="428.8" width="9.3" height="9.3"/><rect class="c3" x="301.9" y="428.8" width="9.3" height="9.3"/><rect class="c0" x="310.6" y="428.8" width="9.3" height="9.3"/><rect class="c1" x="319.3" y="428.8" width="9.3" height="9.3"/><rect class="c2" x="328.0" y="428.8" width="9.3" height="9.3"/><rect class="c1" x="336.6" y="428.8" width="9.3" height="9.3"/><rect class="c3" x="345.3" y="428.8" width="9.3" height="9.3"/><rect class="c1" x="354.0" y="428.8" width="18.0" height="9.3"/><rect class="c8" x="371.4" y="428.8" width="9.3" height="9.3"/><rect class="c3" x="380.1" y="428.8" width="9.3" height="9.3"/><rect class="c8" x="388.8" y="428.8" width="9.3" height="9.3"/><rect class="c2" x="397.5" y="428.8" width="9.3" height="9.3"/><rect class="c8" x="406.2" y="428.8" width="18.0" height="9.3"/><rect class="c1" x="423.5" y="428.8" width="9.3" height="9.3"/><rect class="c8" x="432.2" y="428.8" width="9.3" height="9.3"/><rect class="c2" x="440.9" y="428.8" width="18.0" height="9.3"/><rect class="c1" x="458.3" y="428.8" width="18.0" height="9.3"/><rect class="c3" x="475.7" y="428.8" width="9.3" height="9.3"/><rect class="c1" x="484.4" y="428.8" width="18.0" height="9.3"/><rect class="c2" x="501.8" y="428.8" width="9.3" height="9.3"/><rect class="c7" x="510.4" y="428.8" width="9.3" height="9.3"/><rect class="c2" x="519.1" y="428.8" width="9.3" height="9.3"/><rect class="c1" x="527.8" y="428.8" width="9.3" height="9.3"/><rect class="c8" x="536.5" y="428.8" width="9.3" height="9.3"/><rect class="c3" x="545.2" y="428.8" width="26.7" height="9.3"/><rect class="c8" x="571.3" y="428.8" width="9.3" height="9.3"/><rect class="c9" x="580.0" y="428.8" width="9.3" height="9.3"/><rect class="c8" x="588.7" y="428.8" width="9.3" height="9.3"/><rect class="c5" x="597.4" y="428.8" width="9.3" height="9.3"/><rect class="c3" x="606.0" y="428.8" width="9.3" height="9.3"/><rect class="c1" x="614.7" y="428.8" width="9.3" height="9.3"/><rect class="c2" x="623.4" y="428.8" width="9.3" height="9.3"/><rect class="c1" x="632.1" y="428.8" width="9.3" height="9.3"/><rect class="c8" x="640.8" y="428.8" width="9.3" height="9.3"/><rect class="c2" x="649.5" y="428.8" width="18.0" height="9.3"/><rect class="c1" x="666.9" y="428.8" width="17.4" height="9.3"/><rect class="c3" x="162.8" y="437.5" width="9.3" height="9.3"/><rect class="c1" x="171.5" y="437.5" width="9.3" height="9.3"/><rect class="c3" x="180.2" y="437.5" width="9.3" height="9.3"/><rect class="c5" x="188.9" y="437.5" width="9.3" height="9.3"/><rect class="c2" x="197.6" y="437.5" width="9.3" height="9.3"/><rect class="c8" x="206.3" y="437.5" width="9.3" height="9.3"/><rect class="c3" x="215.0" y="437.5" width="9.3" height="9.3"/><rect class="c1" x="223.7" y="437.5" width="9.3" height="9.3"/><rect class="c8" x="232.4" y="437.5" width="9.3" height="9.3"/><rect class="c7" x="241.1" y="437.5" width="9.3" height="9.3"/><rect class="c5" x="249.8" y="437.5" width="9.3" height="9.3"/><rect class="c1" x="258.4" y="437.5" width="9.3" height="9.3"/><rect class="c2" x="267.1" y="437.5" width="26.7" height="9.3"/><rect class="c3" x="293.2" y="437.5" width="9.3" height="9.3"/><rect class="c2" x="301.9" y="437.5" width="9.3" height="9.3"/><rect class="c3" x="310.6" y="437.5" width="18.0" height="9.3"/><rect class="c2" x="328.0" y="437.5" width="9.3" height="9.3"/><rect class="c8" x="336.6" y="437.5" width="9.3" height="9.3"/><rect class="c2" x="345.3" y="437.5" width="9.3" height="9.3"/><rect class="c8" x="354.0" y="437.5" width="9.3" height="9.3"/><rect class="c0" x="362.7" y="437.5" width="9.3" height="9.3"/><rect class="c8" x="371.4" y="437.5" width="9.3" height="9.3"/><rect class="c3" x="380.1" y="437.5" width="9.3" height="9.3"/><rect class="c1" x="388.8" y="437.5" width="26.7" height="9.3"/><rect class="c0" x="414.9" y="437.5" width="9.3" height="9.3"/><rect class="c1" x="423.5" y="437.5" width="9.3" height="9.3"/><rect class="c3" x="432.2" y="437.5" width="18.0" height="9.3"/><rect class="c2" x="449.6" y="437.5" width="9.3" height="9.3"/><rect class="c0" x="458.3" y="437.5" width="9.3" height="9.3"/><rect class="c3" x="467.0" y="437.5" width="9.3" height="9.3"/><rect class="c2" x="475.7" y="437.5" width="9.3" height="9.3"/><rect class="c1" x="484.4" y="437.5" width="9.3" height="9.3"/><rect class="c3" x="493.1" y="437.5" width="9.3" height="9.3"/><rect class="c5" x="501.8" y="437.5" width="9.3" height="9.3"/><rect class="c1" x="510.4" y="437.5" width="9.3" height="9.3"/><rect class="c2" x="519.1" y="437.5" width="9.3" height="9.3"/><rect class="c3" x="527.8" y="437.5" width="44.0" height="9.3"/><rect class="c8" x="571.3" y="437.5" width="9.3" height="9.3"/><rect class="c3" x="580.0" y="437.5" width="9.3" height="9.3"/><rect class="c0" x="588.7" y="437.5" width="9.3" height="9.3"/><rect class="c10" x="597.4" y="437.5" width="9.3" height="9.3"/><rect class="c8" x="606.0" y="437.5" width="9.3" height="9.3"/><rect class="c2" x="614.7" y="437.5" width="9.3" height="9.3"/><rect class="c4" x="623.4" y="437.5" width="9.3" height="9.3"/><rect class="c8" x="632.1" y="437.5" width="9.3" height="9.3"/><rect class="c2" x="640.8" y="437.5" width="18.0" height="9.3"/><rect class="c5" x="658.2" y="437.5" width="9.3" height="9.3"/><rect class="c1" x="666.9" y="437.5" width="9.3" height="9.3"/><rect class="c3" x="675.6" y="437.5" width="8.7" height="9.3"/><rect class="c6" x="162.8" y="446.1" width="9.3" height="9.3"/><rect class="c2" x="171.5" y="446.1" width="9.3" height="9.3"/><rect class="c5" x="180.2" y="446.1" width="9.3" height="9.3"/><rect class="c6" x="188.9" y="446.1" width="9.3" height="9.3"/><rect class="c2" x="197.6" y="446.1" width="9.3" height="9.3"/><rect class="c6" x="206.3" y="446.1" width="9.3" height="9.3"/><rect class="c11" x="215.0" y="446.1" width="9.3" height="9.3"/><rect class="c4" x="223.7" y="446.1" width="9.3" height="9.3"/><rect class="c10" x="232.4" y="446.1" width="18.0" height="9.3"/><rect class="c8" x="249.8" y="446.1" width="9.3" height="9.3"/><rect class="c4" x="258.4" y="446.1" width="9.3" height="9.3"/><rect class="c3" x="267.1" y="446.1" width="9.3" height="9.3"/><rect class="c10" x="275.8" y="446.1" width="9.3" height="9.3"/><rect class="c2" x="284.5" y="446.1" width="9.3" height="9.3"/><rect class="c12" x="293.2" y="446.1" width="9.3" height="9.3"/><rect class="c3" x="301.9" y="446.1" width="18.0" height="9.3"/><rect class="c10" x="319.3" y="446.1" width="9.3" height="9.3"/><rect class="c13" x="328.0" y="446.1" width="9.3" height="9.3"/><rect class="c5" x="336.6" y="446.1" width="9.3" height="9.3"/><rect class="c4" x="345.3" y="446.1" width="9.3" height="9.3"/><rect class="c11" x="354.0" y="446.1" width="9.3" height="9.3"/><rect class="c10" x="362.7" y="446.1" width="9.3" height="9.3"/><rect class="c4" x="371.4" y="446.1" width="9.3" height="9.3"/><rect class="c2" x="380.1" y="446.1" width="9.3" height="9.3"/><rect class="c5" x="388.8" y="446.1" width="18.0" height="9.3"/><rect class="c4" x="406.2" y="446.1" width="9.3" height="9.3"/><rect class="c5" x="414.9" y="446.1" width="18.0" height="9.3"/><rect class="c2" x="432.2" y="446.1" width="9.3" height="9.3"/><rect class="c11" x="440.9" y="446.1" width="9.3" height="9.3"/><rect class="c10" x="449.6" y="446.1" width="9.3" height="9.3"/><rect class="c4" x="458.3" y="446.1" width="9.3" height="9.3"/><rect class="c6" x="467.0" y="446.1" width="18.0" height="9.3"/><rect class="c10" x="484.4" y="446.1" width="9.3" height="9.3"/><rect class="c4" x="493.1" y="446.1" width="9.3" height="9.3"/><rect class="c3" x="501.8" y="446.1" width="9.3" height="9.3"/><rect class="c2" x="510.4" y="446.1" width="9.3" height="9.3"/><rect class="c10" x="519.1" y="446.1" width="9.3" height="9.3"/><rect class="c2" x="527.8" y="446.1" width="9.3" height="9.3"/><rect class="c6" x="536.5" y="446.1" width="9.3" height="9.3"/><rect class="c2" x="545.2" y="446.1" width="9.3" height="9.3"/><rect class="c5" x="553.9" y="446.1" width="9.3" height="9.3"/><rect class="c6" x="562.6" y="446.1" width="9.3" height="9.3"/><rect class="c2" x="571.3" y="446.1" width="18.0" height="9.3"/><rect class="c4" x="588.7" y="446.1" width="9.3" height="9.3"/><rect class="c14" x="597.4" y="446.1" width="9.3" height="9.3"/><rect class="c10" x="606.0" y="446.1" width="9.3" height="9.3"/><rect class="c2" x="614.7" y="446.1" width="18.0" height="9.3"/><rect class="c5" x="632.1" y="446.1" width="18.0" height="9.3"/><rect class="c11" x="649.5" y="446.1" width="9.3" height="9.3"/><rect class="c5" x="658.2" y="446.1" width="9.3" height="9.3"/><rect class="c6" x="666.9" y="446.1" width="9.3" height="9.3"/><rect class="c4" x="675.6" y="446.1" width="8.7" height="9.3"/><rect class="c2" x="162.8" y="454.8" width="9.3" height="9.3"/><rect class="c1" x="171.5" y="454.8" width="9.3" height="9.3"/><rect class="c2" x="180.2" y="454.8" width="9.3" height="9.3"/><rect class="c4" x="188.9" y="454.8" width="9.3" height="9.3"/><rect class="c6" x="197.6" y="454.8" width="9.3" height="9.3"/><rect class="c3" x="206.3" y="454.8" width="9.3" height="9.3"/><rect class="c6" x="215.0" y="454.8" width="9.3" height="9.3"/><rect class="c2" x="223.7" y="454.8" width="9.3" height="9.3"/><rect class="c3" x="232.4" y="454.8" width="9.3" height="9.3"/><rect class="c8" x="241.1" y="454.8" width="9.3" height="9.3"/><rect class="c4" x="249.8" y="454.8" width="9.3" height="9.3"/><rect class="c3" x="258.4" y="454.8" width="9.3" height="9.3"/><rect class="c5" x="267.1" y="454.8" width="9.3" height="9.3"/><rect class="c6" x="275.8" y="454.8" width="18.0" height="9.3"/><rect class="c1" x="293.2" y="454.8" width="9.3" height="9.3"/><rect class="c2" x="301.9" y="454.8" width="18.0" height="9.3"/><rect class="c1" x="319.3" y="454.8" width="9.3" height="9.3"/><rect class="c3" x="328.0" y="454.8" width="9.3" height="9.3"/><rect class="c1" x="336.6" y="454.8" width="9.3" height="9.3"/><rect class="c2" x="345.3" y="454.8" width="9.3" height="9.3"/><rect class="c8" x="354.0" y="454.8" width="26.7" height="9.3"/><rect class="c6" x="380.1" y="454.8" width="9.3" height="9.3"/><rect class="c3" x="388.8" y="454.8" width="26.7" height="9.3"/><rect class="c8" x="414.9" y="454.8" width="9.3" height="9.3"/><rect class="c6" x="423.5" y="454.8" width="18.0" height="9.3"/><rect class="c1" x="440.9" y="454.8" width="9.3" height="9.3"/><rect class="c2" x="449.6" y="454.8" width="9.3" height="9.3"/><rect class="c7" x="458.3" y="454.8" width="9.3" height="9.3"/><rect class="c6" x="467.0" y="454.8" width="9.3" height="9.3"/><rect class="c5" x="475.7" y="454.8" width="9.3" height="9.3"/><rect class="c1" x="484.4" y="454.8" width="9.3" height="9.3"/><rect class="c3" x="493.1" y="454.8" width="9.3" height="9.3"/><rect class="c10" x="501.8" y="454.8" width="9.3" height="9.3"/><rect class="c3" x="510.4" y="454.8" width="9.3" height="9.3"/><rect class="c5" x="519.1" y="454.8" width="9.3" height="9.3"/><rect class="c3" x="527.8" y="454.8" width="9.3" height="9.3"/><rect class="c1" x="536.5" y="454.8" width="9.3" height="9.3"/><rect class="c5" x="545.2" y="454.8" width="9.3" height="9.3"/><rect class="c3" x="553.9" y="454.8" width="9.3" height="9.3"/><rect class="c2" x="562.6" y="454.8" width="9.3" height="9.3"/><rect class="c3" x="571.3" y="454.8" width="9.3" height="9.3"/><rect class="c2" x="580.0" y="454.8" width="9.3" height="9.3"/><rect class="c8" x="588.7" y="454.8" width="9.3" height="9.3"/><rect class="c11" x="597.4" y="454.8" width="9.3" height="9.3"/><rect class="c9" x="606.0" y="454.8" width="9.3" height="9.3"/><rect class="c6" x="614.7" y="454.8" width="9.3" height="9.3"/><rect class="c10" x="623.4" y="454.8" width="9.3" height="9.3"/><rect class="c3" x="632.1" y="454.8" width="9.3" height="9.3"/><rect class="c2" x="640.8" y="454.8" width="9.3" height="9.3"/><rect class="c6" x="649.5" y="454.8" width="9.3" height="9.3"/><rect class="c5" x="658.2" y="454.8" width="9.3" height="9.3"/><rect class="c2" x="666.9" y="454.8" width="9.3" height="9.3"/><rect class="c3" x="675.6" y="454.8" width="8.7" height="9.3"/><rect class="c3" x="162.8" y="463.5" width="18.0" height="9.3"/><rect class="c1" x="180.2" y="463.5" width="18.0" height="9.3"/><rect class="c7" x="197.6" y="463.5" width="9.3" height="9.3"/><rect class="c8" x="206.3" y="463.5" width="9.3" height="9.3"/><rect class="c5" x="215.0" y="463.5" width="9.3" height="9.3"/><rect class="c1" x="223.7" y="463.5" width="9.3" height="9.3"/><rect class="c6" x="232.4" y="463.5" width="9.3" height="9.3"/><rect class="c2" x="241.1" y="463.5" width="9.3" height="9.3"/><rect class="c3" x="249.8" y="463.5" width="9.3" height="9.3"/><rect class="c1" x="258.4" y="463.5" width="9.3" height="9.3"/><rect class="c7" x="267.1" y="463.5" width="9.3" height="9.3"/><rect class="c3" x="275.8" y="463.5" width="9.3" height="9.3"/><rect class="c1" x="284.5" y="463.5" width="9.3" height="9.3"/><rect class="c4" x="293.2" y="463.5" width="9.3" height="9.3"/><rect class="c3" x="301.9" y="463.5" width="9.3" height="9.3"/><rect class="c7" x="310.6" y="463.5" width="9.3" height="9.3"/><rect class="c2" x="319.3" y="463.5" width="9.3" height="9.3"/><rect class="c5" x="328.0" y="463.5" width="9.3" height="9.3"/><rect class="c2" x="336.6" y="463.5" width="9.3" height="9.3"/><rect class="c8" x="345.3" y="463.5" width="9.3" height="9.3"/><rect class="c3" x="354.0" y="463.5" width="35.4" height="9.3"/><rect class="c7" x="388.8" y="463.5" width="9.3" height="9.3"/><rect class="c2" x="397.5" y="463.5" width="9.3" height="9.3"/><rect class="c3" x="406.2" y="463.5" width="18.0" height="9.3"/><rect class="c6" x="423.5" y="463.5" width="9.3" height="9.3"/><rect class="c8" x="432.2" y="463.5" width="9.3" height="9.3"/><rect class="c5" x="440.9" y="463.5" width="9.3" height="9.3"/><rect class="c2" x="449.6" y="463.5" width="9.3" height="9.3"/><rect class="c3" x="458.3" y="463.5" width="9.3" height="9.3"/><rect class="c1" x="467.0" y="463.5" width="35.4" height="9.3"/><rect class="c2" x="501.8" y="463.5" width="9.3" height="9.3"/><rect class="c8" x="510.4" y="463.5" width="9.3" height="9.3"/><rect class="c6" x="519.1" y="463.5" width="9.3" height="9.3"/><rect class="c1" x="527.8" y="463.5" width="9.3" height="9.3"/><rect class="c3" x="536.5" y="463.5" width="9.3" height="9.3"/><rect class="c1" x="545.2" y="463.5" width="44.0" height="9.3"/><rect class="c3" x="588.7" y="463.5" width="9.3" height="9.3"/><rect class="c2" x="597.4" y="463.5" width="18.0" height="9.3"/><rect class="c9" x="614.7" y="463.5" width="9.3" height="9.3"/><rect class="c1" x="623.4" y="463.5" width="9.3" height="9.3"/><rect class="c3" x="632.1" y="463.5" width="9.3" height="9.3"/><rect class="c1" x="640.8" y="463.5" width="9.3" height="9.3"/><rect class="c4" x="649.5" y="463.5" width="9.3" height="9.3"/><rect class="c8" x="658.2" y="463.5" width="9.3" height="9.3"/><rect class="c1" x="666.9" y="463.5" width="17.4" height="9.3"/><rect class="c2" x="162.8" y="472.2" width="9.3" height="9.3"/><rect class="c6" x="171.5" y="472.2" width="9.3" height="9.3"/><rect class="c2" x="180.2" y="472.2" width="9.3" height="9.3"/><rect class="c3" x="188.9" y="472.2" width="9.3" height="9.3"/><rect class="c7" x="197.6" y="472.2" width="9.3" height="9.3"/><rect class="c2" x="206.3" y="472.2" width="9.3" height="9.3"/><rect class="c5" x="215.0" y="472.2" width="9.3" height="9.3"/><rect class="c6" x="223.7" y="472.2" width="9.3" height="9.3"/><rect class="c10" x="232.4" y="472.2" width="9.3" height="9.3"/><rect class="c4" x="241.1" y="472.2" width="9.3" height="9.3"/><rect class="c3" x="249.8" y="472.2" width="18.0" height="9.3"/><rect class="c8" x="267.1" y="472.2" width="9.3" height="9.3"/><rect class="c2" x="275.8" y="472.2" width="9.3" height="9.3"/><rect class="c1" x="284.5" y="472.2" width="9.3" height="9.3"/><rect class="c13" x="293.2" y="472.2" width="9.3" height="9.3"/><rect class="c5" x="301.9" y="472.2" width="9.3" height="9.3"/><rect class="c8" x="310.6" y="472.2" width="9.3" height="9.3"/><rect class="c4" x="319.3" y="472.2" width="9.3" height="9.3"/><rect class="c11" x="328.0" y="472.2" width="9.3" height="9.3"/><rect class="c5" x="336.6" y="472.2" width="9.3" height="9.3"/><rect class="c2" x="345.3" y="472.2" width="9.3" height="9.3"/><rect class="c4" x="354.0" y="472.2" width="9.3" height="9.3"/><rect class="c5" x="362.7" y="472.2" width="18.0" height="9.3"/><rect class="c3" x="380.1" y="472.2" width="9.3" height="9.3"/><rect class="c2" x="388.8" y="472.2" width="9.3" height="9.3"/><rect class="c5" x="397.5" y="472.2" width="9.3" height="9.3"/><rect class="c6" x="406.2" y="472.2" width="9.3" height="9.3"/><rect class="c5" x="414.9" y="472.2" width="9.3" height="9.3"/><rect class="c6" x="423.5" y="472.2" width="9.3" height="9.3"/><rect class="c1" x="432.2" y="472.2" width="9.3" height="9.3"/><rect class="c4" x="440.9" y="472.2" width="9.3" height="9.3"/><rect class="c5" x="449.6" y="472.2" width="18.0" height="9.3"/><rect class="c3" x="467.0" y="472.2" width="9.3" height="9.3"/><rect class="c2" x="475.7" y="472.2" width="9.3" height="9.3"/><rect class="c6" x="484.4" y="472.2" width="9.3" height="9.3"/><rect class="c5" x="493.1" y="472.2" width="9.3" height="9.3"/><rect class="c3" x="501.8" y="472.2" width="9.3" height="9.3"/><rect class="c1" x="510.4" y="472.2" width="9.3" height="9.3"/><rect class="c5" x="519.1" y="472.2" width="9.3" height="9.3"/><rect class="c3" x="527.8" y="472.2" width="9.3" height="9.3"/><rect class="c5" x="536.5" y="472.2" width="9.3" height="9.3"/><rect class="c1" x="545.2" y="472.2" width="9.3" height="9.3"/><rect class="c6" x="553.9" y="472.2" width="18.0" height="9.3"/><rect class="c2" x="571.3" y="472.2" width="9.3" height="9.3"/><rect class="c3" x="580.0" y="472.2" width="9.3" height="9.3"/><rect class="c5" x="588.7" y="472.2" width="9.3" height="9.3"/><rect class="c2" x="597.4" y="472.2" width="9.3" height="9.3"/><rect class="c10" x="606.0" y="472.2" width="9.3" height="9.3"/><rect class="c1" x="614.7" y="472.2" width="9.3" height="9.3"/><rect class="c9" x="623.4" y="472.2" width="9.3" height="9.3"/><rect class="c2" x="632.1" y="472.2" width="9.3" height="9.3"/><rect class="c3" x="640.8" y="472.2" width="9.3" height="9.3"/><rect class="c4" x="649.5" y="472.2" width="9.3" height="9.3"/><rect class="c3" x="658.2" y="472.2" width="18.0" height="9.3"/><rect class="c5" x="675.6" y="472.2" width="8.7" height="9.3"/><rect class="c8" x="162.8" y="480.9" width="18.0" height="9.3"/><rect class="c3" x="180.2" y="480.9" width="9.3" height="9.3"/><rect class="c2" x="188.9" y="480.9" width="9.3" height="9.3"/><rect class="c3" x="197.6" y="480.9" width="9.3" height="9.3"/><rect class="c8" x="206.3" y="480.9" width="9.3" height="9.3"/><rect class="c3" x="215.0" y="480.9" width="9.3" height="9.3"/><rect class="c1" x="223.7" y="480.9" width="18.0" height="9.3"/><rect class="c8" x="241.1" y="480.9" width="9.3" height="9.3"/><rect class="c3" x="249.8" y="480.9" width="9.3" height="9.3"/><rect class="c1" x="258.4" y="480.9" width="9.3" height="9.3"/><rect class="c3" x="267.1" y="480.9" width="26.7" height="9.3"/><rect class="c6" x="293.2" y="480.9" width="9.3" height="9.3"/><rect class="c3" x="301.9" y="480.9" width="9.3" height="9.3"/><rect class="c1" x="310.6" y="480.9" width="9.3" height="9.3"/><rect class="c2" x="319.3" y="480.9" width="9.3" height="9.3"/><rect class="c6" x="328.0" y="480.9" width="9.3" height="9.3"/><rect class="c8" x="336.6" y="480.9" width="9.3" height="9.3"/><rect class="c3" x="345.3" y="480.9" width="9.3" height="9.3"/><rect class="c1" x="354.0" y="480.9" width="9.3" height="9.3"/><rect class="c8" x="362.7" y="480.9" width="18.0" height="9.3"/><rect class="c1" x="380.1" y="480.9" width="35.4" height="9.3"/><rect class="c8" x="414.9" y="480.9" width="9.3" height="9.3"/><rect class="c1" x="423.5" y="480.9" width="26.7" height="9.3"/><rect class="c2" x="449.6" y="480.9" width="9.3" height="9.3"/><rect class="c7" x="458.3" y="480.9" width="9.3" height="9.3"/><rect class="c8" x="467.0" y="480.9" width="9.3" height="9.3"/><rect class="c3" x="475.7" y="480.9" width="18.0" height="9.3"/><rect class="c1" x="493.1" y="480.9" width="9.3" height="9.3"/><rect class="c2" x="501.8" y="480.9" width="9.3" height="9.3"/><rect class="c1" x="510.4" y="480.9" width="9.3" height="9.3"/><rect class="c6" x="519.1" y="480.9" width="9.3" height="9.3"/><rect class="c7" x="527.8" y="480.9" width="9.3" height="9.3"/><rect class="c3" x="536.5" y="480.9" width="9.3" height="9.3"/><rect class="c1" x="545.2" y="480.9" width="18.0" height="9.3"/><rect class="c8" x="562.6" y="480.9" width="18.0" height="9.3"/><rect class="c3" x="580.0" y="480.9" width="9.3" height="9.3"/><rect class="c8" x="588.7" y="480.9" width="9.3" height="9.3"/><rect class="c5" x="597.4" y="480.9" width="9.3" height="9.3"/><rect class="c3" x="606.0" y="480.9" width="18.0" height="9.3"/><rect class="c6" x="623.4" y="480.9" width="9.3" height="9.3"/><rect class="c0" x="632.1" y="480.9" width="9.3" height="9.3"/><rect class="c3" x="640.8" y="480.9" width="9.3" height="9.3"/><rect class="c6" x="649.5" y="480.9" width="9.3" height="9.3"/><rect class="c2" x="658.2" y="480.9" width="9.3" height="9.3"/><rect class="c8" x="666.9" y="480.9" width="9.3" height="9.3"/><rect class="c3" x="675.6" y="480.9" width="8.7" height="9.3"/><rect class="c1" x="162.8" y="489.6" width="18.0" height="9.3"/><rect class="c3" x="180.2" y="489.6" width="9.3" height="9.3"/><rect class="c2" x="188.9" y="489.6" width="9.3" height="9.3"/><rect class="c8" x="197.6" y="489.6" width="9.3" height="9.3"/><rect class="c3" x="206.3" y="489.6" width="9.3" height="9.3"/><rect class="c6" x="215.0" y="489.6" width="9.3" height="9.3"/><rect class="c2" x="223.7" y="489.6" width="9.3" height="9.3"/><rect class="c5" x="232.4" y="489.6" width="9.3" height="9.3"/><rect class="c3" x="241.1" y="489.6" width="18.0" height="9.3"/><rect class="c1" x="258.4" y="489.6" width="18.0" height="9.3"/><rect class="c2" x="275.8" y="489.6" width="9.3" height="9.3"/><rect class="c8" x="284.5" y="489.6" width="9.3" height="9.3"/><rect class="c5" x="293.2" y="489.6" width="9.3" height="9.3"/><rect class="c2" x="301.9" y="489.6" width="9.3" height="9.3"/><rect class="c8" x="310.6" y="489.6" width="9.3" height="9.3"/><rect class="c2" x="319.3" y="489.6" width="9.3" height="9.3"/><rect class="c4" x="328.0" y="489.6" width="9.3" height="9.3"/><rect class="c3" x="336.6" y="489.6" width="44.0" height="9.3"/><rect class="c1" x="380.1" y="489.6" width="18.0" height="9.3"/><rect class="c2" x="397.5" y="489.6" width="9.3" height="9.3"/><rect class="c1" x="406.2" y="489.6" width="9.3" height="9.3"/><rect class="c3" x="414.9" y="489.6" width="9.3" height="9.3"/><rect class="c6" x="423.5" y="489.6" width="9.3" height="9.3"/><rect class="c1" x="432.2" y="489.6" width="9.3" height="9.3"/><rect class="c6" x="440.9" y="489.6" width="18.0" height="9.3"/><rect class="c3" x="458.3" y="489.6" width="18.0" height="9.3"/><rect class="c2" x="475.7" y="489.6" width="9.3" height="9.3"/><rect class="c1" x="484.4" y="489.6" width="9.3" height="9.3"/><rect class="c2" x="493.1" y="489.6" width="9.3" height="9.3"/><rect class="c6" x="501.8" y="489.6" width="9.3" height="9.3"/><rect class="c8" x="510.4" y="489.6" width="9.3" height="9.3"/><rect class="c6" x="519.1" y="489.6" width="9.3" height="9.3"/><rect class="c3" x="527.8" y="489.6" width="18.0" height="9.3"/><rect class="c1" x="545.2" y="489.6" width="9.3" height="9.3"/><rect class="c3" x="553.9" y="489.6" width="18.0" height="9.3"/><rect class="c1" x="571.3" y="489.6" width="18.0" height="9.3"/><rect class="c3" x="588.7" y="489.6" width="9.3" height="9.3"/><rect class="c5" x="597.4" y="489.6" width="9.3" height="9.3"/><rect class="c2" x="606.0" y="489.6" width="9.3" height="9.3"/><rect class="c3" x="614.7" y="489.6" width="18.0" height="9.3"/><rect class="c1" x="632.1" y="489.6" width="9.3" height="9.3"/><rect class="c9" x="640.8" y="489.6" width="9.3" height="9.3"/><rect class="c2" x="649.5" y="489.6" width="9.3" height="9.3"/><rect class="c3" x="658.2" y="489.6" width="26.1" height="9.3"/><rect class="c2" x="162.8" y="498.3" width="18.0" height="9.3"/><rect class="c5" x="180.2" y="498.3" width="9.3" height="9.3"/><rect class="c10" x="188.9" y="498.3" width="9.3" height="9.3"/><rect class="c5" x="197.6" y="498.3" width="9.3" height="9.3"/><rect class="c6" x="206.3" y="498.3" width="9.3" height="9.3"/><rect class="c2" x="215.0" y="498.3" width="9.3" height="9.3"/><rect class="c5" x="223.7" y="498.3" width="18.0" height="9.3"/><rect class="c2" x="241.1" y="498.3" width="9.3" height="9.3"/><rect class="c10" x="249.8" y="498.3" width="9.3" height="9.3"/><rect class="c2" x="258.4" y="498.3" width="9.3" height="9.3"/><rect class="c4" x="267.1" y="498.3" width="18.0" height="9.3"/><rect class="c5" x="284.5" y="498.3" width="18.0" height="9.3"/><rect class="c4" x="301.9" y="498.3" width="9.3" height="9.3"/><rect class="c6" x="310.6" y="498.3" width="9.3" height="9.3"/><rect class="c5" x="319.3" y="498.3" width="9.3" height="9.3"/><rect class="c10" x="328.0" y="498.3" width="9.3" height="9.3"/><rect class="c2" x="336.6" y="498.3" width="9.3" height="9.3"/><rect class="c4" x="345.3" y="498.3" width="9.3" height="9.3"/><rect class="c6" x="354.0" y="498.3" width="9.3" height="9.3"/><rect class="c3" x="362.7" y="498.3" width="18.0" height="9.3"/><rect class="c2" x="380.1" y="498.3" width="9.3" height="9.3"/><rect class="c6" x="388.8" y="498.3" width="18.0" height="9.3"/><rect class="c2" x="406.2" y="498.3" width="26.7" height="9.3"/><rect class="c6" x="432.2" y="498.3" width="18.0" height="9.3"/><rect class="c4" x="449.6" y="498.3" width="9.3" height="9.3"/><rect class="c6" x="458.3" y="498.3" width="9.3" height="9.3"/><rect class="c5" x="467.0" y="498.3" width="9.3" height="9.3"/><rect class="c4" x="475.7" y="498.3" width="9.3" height="9.3"/><rect class="c2" x="484.4" y="498.3" width="9.3" height="9.3"/><rect class="c5" x="493.1" y="498.3" width="9.3" height="9.3"/><rect class="c4" x="501.8" y="498.3" width="9.3" height="9.3"/><rect class="c2" x="510.4" y="498.3" width="9.3" height="9.3"/><rect class="c5" x="519.1" y="498.3" width="9.3" height="9.3"/><rect class="c6" x="527.8" y="498.3" width="9.3" height="9.3"/><rect class="c5" x="536.5" y="498.3" width="9.3" height="9.3"/><rect class="c6" x="545.2" y="498.3" width="9.3" height="9.3"/><rect class="c5" x="553.9" y="498.3" width="18.0" height="9.3"/><rect class="c2" x="571.3" y="498.3" width="26.7" height="9.3"/><rect class="c11" x="597.4" y="498.3" width="9.3" height="9.3"/><rect class="c6" x="606.0" y="498.3" width="9.3" height="9.3"/><rect class="c4" x="614.7" y="498.3" width="18.0" height="9.3"/><rect class="c2" x="632.1" y="498.3" width="18.0" height="9.3"/><rect class="c14" x="649.5" y="498.3" width="9.3" height="9.3"/><rect class="c4" x="658.2" y="498.3" width="9.3" height="9.3"/><rect class="c6" x="666.9" y="498.3" width="9.3" height="9.3"/><rect class="c5" x="675.6" y="498.3" width="8.7" height="9.3"/><rect class="c6" x="162.8" y="507.0" width="18.0" height="9.3"/><rect class="c2" x="180.2" y="507.0" width="9.3" height="9.3"/><rect class="c3" x="188.9" y="507.0" width="9.3" height="9.3"/><rect class="c1" x="197.6" y="507.0" width="9.3" height="9.3"/><rect class="c3" x="206.3" y="507.0" width="9.3" height="9.3"/><rect class="c4" x="215.0" y="507.0" width="9.3" height="9.3"/><rect class="c3" x="223.7" y="507.0" width="9.3" height="9.3"/><rect class="c5" x="232.4" y="507.0" width="9.3" height="9.3"/><rect class="c2" x="241.1" y="507.0" width="9.3" height="9.3"/><rect class="c5" x="249.8" y="507.0" width="9.3" height="9.3"/><rect class="c2" x="258.4" y="507.0" width="9.3" height="9.3"/><rect class="c3" x="267.1" y="507.0" width="9.3" height="9.3"/><rect class="c6" x="275.8" y="507.0" width="9.3" height="9.3"/><rect class="c3" x="284.5" y="507.0" width="9.3" height="9.3"/><rect class="c11" x="293.2" y="507.0" width="9.3" height="9.3"/><rect class="c5" x="301.9" y="507.0" width="9.3" height="9.3"/><rect class="c1" x="310.6" y="507.0" width="9.3" height="9.3"/><rect class="c6" x="319.3" y="507.0" width="9.3" height="9.3"/><rect class="c10" x="328.0" y="507.0" width="9.3" height="9.3"/><rect class="c6" x="336.6" y="507.0" width="9.3" height="9.3"/><rect class="c3" x="345.3" y="507.0" width="9.3" height="9.3"/><rect class="c6" x="354.0" y="507.0" width="18.0" height="9.3"/><rect class="c2" x="371.4" y="507.0" width="18.0" height="9.3"/><rect class="c3" x="388.8" y="507.0" width="9.3" height="9.3"/><rect class="c6" x="397.5" y="507.0" width="18.0" height="9.3"/><rect class="c2" x="414.9" y="507.0" width="9.3" height="9.3"/><rect class="c5" x="423.5" y="507.0" width="9.3" height="9.3"/><rect class="c1" x="432.2" y="507.0" width="9.3" height="9.3"/><rect class="c4" x="440.9" y="507.0" width="9.3" height="9.3"/><rect class="c2" x="449.6" y="507.0" width="9.3" height="9.3"/><rect class="c6" x="458.3" y="507.0" width="9.3" height="9.3"/><rect class="c2" x="467.0" y="507.0" width="18.0" height="9.3"/><rect class="c3" x="484.4" y="507.0" width="9.3" height="9.3"/><rect class="c2" x="493.1" y="507.0" width="9.3" height="9.3"/><rect class="c6" x="501.8" y="507.0" width="9.3" height="9.3"/><rect class="c1" x="510.4" y="507.0" width="9.3" height="9.3"/><rect class="c6" x="519.1" y="507.0" width="9.3" height="9.3"/><rect class="c3" x="527.8" y="507.0" width="9.3" height="9.3"/><rect class="c6" x="536.5" y="507.0" width="9.3" height="9.3"/><rect class="c1" x="545.2" y="507.0" width="9.3" height="9.3"/><rect class="c2" x="553.9" y="507.0" width="18.0" height="9.3"/><rect class="c3" x="571.3" y="507.0" width="9.3" height="9.3"/><rect class="c2" x="580.0" y="507.0" width="9.3" height="9.3"/><rect class="c6" x="588.7" y="507.0" width="9.3" height="9.3"/><rect class="c4" x="597.4" y="507.0" width="18.0" height="9.3"/><rect class="c8" x="614.7" y="507.0" width="9.3" height="9.3"/><rect class="c1" x="623.4" y="507.0" width="9.3" height="9.3"/><rect class="c2" x="632.1" y="507.0" width="18.0" height="9.3"/><rect class="c10" x="649.5" y="507.0" width="9.3" height="9.3"/><rect class="c7" x="658.2" y="507.0" width="9.3" height="9.3"/><rect class="c2" x="666.9" y="507.0" width="17.4" height="9.3"/><rect class="c3" x="162.8" y="515.7" width="9.3" height="9.3"/><rect class="c1" x="171.5" y="515.7" width="9.3" height="9.3"/><rect class="c3" x="180.2" y="515.7" width="9.3" height="9.3"/><rect class="c2" x="188.9" y="515.7" width="9.3" height="9.3"/><rect class="c8" x="197.6" y="515.7" width="9.3" height="9.3"/><rect class="c7" x="206.3" y="515.7" width="9.3" height="9.3"/><rect class="c2" x="215.0" y="515.7" width="9.3" height="9.3"/><rect class="c8" x="223.7" y="515.7" width="9.3" height="9.3"/><rect class="c3" x="232.4" y="515.7" width="9.3" height="9.3"/><rect class="c1" x="241.1" y="515.7" width="9.3" height="9.3"/><rect class="c3" x="249.8" y="515.7" width="9.3" height="9.3"/><rect class="c1" x="258.4" y="515.7" width="18.0" height="9.3"/><rect class="c2" x="275.8" y="515.7" width="9.3" height="9.3"/><rect class="c1" x="284.5" y="515.7" width="9.3" height="9.3"/><rect class="c5" x="293.2" y="515.7" width="9.3" height="9.3"/><rect class="c3" x="301.9" y="515.7" width="9.3" height="9.3"/><rect class="c7" x="310.6" y="515.7" width="9.3" height="9.3"/><rect class="c2" x="319.3" y="515.7" width="9.3" height="9.3"/><rect class="c5" x="328.0" y="515.7" width="9.3" height="9.3"/><rect class="c8" x="336.6" y="515.7" width="9.3" height="9.3"/><rect class="c3" x="345.3" y="515.7" width="9.3" height="9.3"/><rect class="c1" x="354.0" y="515.7" width="9.3" height="9.3"/><rect class="c7" x="362.7" y="515.7" width="9.3" height="9.3"/><rect class="c1" x="371.4" y="515.7" width="61.4" height="9.3"/><rect class="c7" x="432.2" y="515.7" width="9.3" height="9.3"/><rect class="c2" x="440.9" y="515.7" width="18.0" height="9.3"/><rect class="c1" x="458.3" y="515.7" width="9.3" height="9.3"/><rect class="c8" x="467.0" y="515.7" width="9.3" height="9.3"/><rect class="c3" x="475.7" y="515.7" width="9.3" height="9.3"/><rect class="c1" x="484.4" y="515.7" width="9.3" height="9.3"/><rect class="c3" x="493.1" y="515.7" width="18.0" height="9.3"/><rect class="c8" x="510.4" y="515.7" width="9.3" height="9.3"/><rect class="c2" x="519.1" y="515.7" width="9.3" height="9.3"/><rect class="c8" x="527.8" y="515.7" width="9.3" height="9.3"/><rect class="c2" x="536.5" y="515.7" width="9.3" height="9.3"/><rect class="c7" x="545.2" y="515.7" width="9.3" height="9.3"/><rect class="c3" x="553.9" y="515.7" width="18.0" height="9.3"/><rect class="c7" x="571.3" y="515.7" width="9.3" height="9.3"/><rect class="c1" x="580.0" y="515.7" width="18.0" height="9.3"/><rect class="c6" x="597.4" y="515.7" width="9.3" height="9.3"/><rect class="c3" x="606.0" y="515.7" width="9.3" height="9.3"/><rect class="c8" x="614.7" y="515.7" width="9.3" height="9.3"/><rect class="c2" x="623.4" y="515.7" width="9.3" height="9.3"/><rect class="c8" x="632.1" y="515.7" width="9.3" height="9.3"/><rect class="c3" x="640.8" y="515.7" width="9.3" height="9.3"/><rect class="c6" x="649.5" y="515.7" width="9.3" height="9.3"/><rect class="c3" x="658.2" y="515.7" width="9.3" height="9.3"/><rect class="c0" x="666.9" y="515.7" width="9.3" height="9.3"/><rect class="c3" x="675.6" y="515.7" width="8.7" height="9.3"/><rect class="c2" x="162.8" y="524.4" width="9.3" height="8.7"/><rect class="c3" x="171.5" y="524.4" width="9.3" height="8.7"/><rect class="c8" x="180.2" y="524.4" width="9.3" height="8.7"/><rect class="c3" x="188.9" y="524.4" width="18.0" height="8.7"/><rect class="c1" x="206.3" y="524.4" width="9.3" height="8.7"/><rect class="c5" x="215.0" y="524.4" width="9.3" height="8.7"/><rect class="c1" x="223.7" y="524.4" width="9.3" height="8.7"/><rect class="c3" x="232.4" y="524.4" width="9.3" height="8.7"/><rect class="c1" x="241.1" y="524.4" width="9.3" height="8.7"/><rect class="c5" x="249.8" y="524.4" width="9.3" height="8.7"/><rect class="c1" x="258.4" y="524.4" width="9.3" height="8.7"/><rect class="c3" x="267.1" y="524.4" width="18.0" height="8.7"/><rect class="c1" x="284.5" y="524.4" width="9.3" height="8.7"/><rect class="c2" x="293.2" y="524.4" width="9.3" height="8.7"/><rect class="c3" x="301.9" y="524.4" width="9.3" height="8.7"/><rect class="c1" x="310.6" y="524.4" width="9.3" height="8.7"/><rect class="c7" x="319.3" y="524.4" width="9.3" height="8.7"/><rect class="c3" x="328.0" y="524.4" width="18.0" height="8.7"/><rect class="c1" x="345.3" y="524.4" width="9.3" height="8.7"/><rect class="c8" x="354.0" y="524.4" width="9.3" height="8.7"/><rect class="c1" x="362.7" y="524.4" width="9.3" height="8.7"/><rect class="c7" x="371.4" y="524.4" width="9.3" height="8.7"/><rect class="c6" x="380.1" y="524.4" width="9.3" height="8.7"/><rect class="c7" x="388.8" y="524.4" width="9.3" height="8.7"/><rect class="c2" x="397.5" y="524.4" width="9.3" height="8.7"/><rect class="c1" x="406.2" y="524.4" width="18.0" height="8.7"/><rect class="c2" x="423.5" y="524.4" width="9.3" height="8.7"/><rect class="c3" x="432.2" y="524.4" width="9.3" height="8.7"/><rect class="c2" x="440.9" y="524.4" width="9.3" height="8.7"/><rect class="c1" x="449.6" y="524.4" width="9.3" height="8.7"/><rect class="c8" x="458.3" y="524.4" width="9.3" height="8.7"/><rect class="c3" x="467.0" y="524.4" width="18.0" height="8.7"/><rect class="c7" x="484.4" y="524.4" width="18.0" height="8.7"/><rect class="c4" x="501.8" y="524.4" width="9.3" height="8.7"/><rect class="c1" x="510.4" y="524.4" width="9.3" height="8.7"/><rect class="c6" x="519.1" y="524.4" width="9.3" height="8.7"/><rect class="c3" x="527.8" y="524.4" width="9.3" height="8.7"/><rect class="c8" x="536.5" y="524.4" width="9.3" height="8.7"/><rect class="c2" x="545.2" y="524.4" width="9.3" height="8.7"/><rect class="c3" x="553.9" y="524.4" width="9.3" height="8.7"/><rect class="c1" x="562.6" y="524.4" width="35.4" height="8.7"/><rect class="c4" x="597.4" y="524.4" width="9.3" height="8.7"/><rect class="c1" x="606.0" y="524.4" width="18.0" height="8.7"/><rect class="c6" x="623.4" y="524.4" width="9.3" height="8.7"/><rect class="c3" x="632.1" y="524.4" width="9.3" height="8.7"/><rect class="c2" x="640.8" y="524.4" width="9.3" height="8.7"/><rect class="c6" x="649.5" y="524.4" width="9.3" height="8.7"/><rect class="c2" x="658.2" y="524.4" width="9.3" height="8.7"/><rect class="c3" x="666.9" y="524.4" width="9.3" height="8.7"/><rect class="c7" x="675.6" y="524.4" width="8.7" height="8.7"/></g>
<rect x="162.85" y="11.65" width="521.4" height="521.4" fill="none" stroke="#000" stroke-width="1.4"/>
<rect x="719.7" y="11.8" width="26.1" height="521.3" fill="url(#g)" stroke="#000" stroke-width="1.45"/>
<line x1="167.19" y1="533.05" x2="167.19" y2="539.7" class="tk"/><text transform="translate(167.19 562.6) scale(1.06 1)" text-anchor="middle" class="t">0</text><line x1="156" y1="16.00" x2="162.85" y2="16.00" class="tk"/><text transform="translate(150.4 23.80) scale(1.06 1)" text-anchor="end" class="t">0</text><line x1="254.09" y1="533.05" x2="254.09" y2="539.7" class="tk"/><text transform="translate(254.09 562.6) scale(1.06 1)" text-anchor="middle" class="t">10</text><line x1="156" y1="102.89" x2="162.85" y2="102.89" class="tk"/><text transform="translate(150.4 110.69) scale(1.06 1)" text-anchor="end" class="t">10</text><line x1="341.00" y1="533.05" x2="341.00" y2="539.7" class="tk"/><text transform="translate(341.00 562.6) scale(1.06 1)" text-anchor="middle" class="t">20</text><line x1="156" y1="189.79" x2="162.85" y2="189.79" class="tk"/><text transform="translate(150.4 197.59) scale(1.06 1)" text-anchor="end" class="t">20</text><line x1="427.89" y1="533.05" x2="427.89" y2="539.7" class="tk"/><text transform="translate(427.89 562.6) scale(1.06 1)" text-anchor="middle" class="t">30</text><line x1="156" y1="276.69" x2="162.85" y2="276.69" class="tk"/><text transform="translate(150.4 284.49) scale(1.06 1)" text-anchor="end" class="t">30</text><line x1="514.79" y1="533.05" x2="514.79" y2="539.7" class="tk"/><text transform="translate(514.79 562.6) scale(1.06 1)" text-anchor="middle" class="t">40</text><line x1="156" y1="363.59" x2="162.85" y2="363.59" class="tk"/><text transform="translate(150.4 371.39) scale(1.06 1)" text-anchor="end" class="t">40</text><line x1="601.69" y1="533.05" x2="601.69" y2="539.7" class="tk"/><text transform="translate(601.69 562.6) scale(1.06 1)" text-anchor="middle" class="t">50</text><line x1="156" y1="450.49" x2="162.85" y2="450.49" class="tk"/><text transform="translate(150.4 458.29) scale(1.06 1)" text-anchor="end" class="t">50</text><line x1="745.80" y1="529.00" x2="752.30" y2="529.00" class="tk"/><text transform="translate(760.3 536.80) scale(1.06 1)" class="t">0.3</text><line x1="745.80" y1="457.89" x2="752.30" y2="457.89" class="tk"/><text transform="translate(760.3 465.69) scale(1.06 1)" class="t">0.4</text><line x1="745.80" y1="386.78" x2="752.30" y2="386.78" class="tk"/><text transform="translate(760.3 394.58) scale(1.06 1)" class="t">0.5</text><line x1="745.80" y1="315.67" x2="752.30" y2="315.67" class="tk"/><text transform="translate(760.3 323.47) scale(1.06 1)" class="t">0.6</text><line x1="745.80" y1="244.56" x2="752.30" y2="244.56" class="tk"/><text transform="translate(760.3 252.36) scale(1.06 1)" class="t">0.7</text><line x1="745.80" y1="173.45" x2="752.30" y2="173.45" class="tk"/><text transform="translate(760.3 181.25) scale(1.06 1)" class="t">0.8</text><line x1="745.80" y1="102.34" x2="752.30" y2="102.34" class="tk"/><text transform="translate(760.3 110.14) scale(1.06 1)" class="t">0.9</text><line x1="745.80" y1="31.23" x2="752.30" y2="31.23" class="tk"/><text transform="translate(760.3 39.03) scale(1.06 1)" class="t">1.0</text>
<text transform="translate(423.6 591.9) scale(1.112 1)" text-anchor="middle" class="lab">Test writer index</text>
<text transform="translate(114.8 273.2) rotate(-90) scale(1.112 1)" text-anchor="middle" class="lab">Test writer index</text>
</svg>
<div class="cap j" style="top:605.1px">Figure 8.&nbsp; The heat map of the DTW matrix.&nbsp; The dark diagonal</div>
<div class="cap" style="top:646.3px;word-spacing:-0.3px">indicates that the generated characters still own a higher similarity</div>
<div class="cap" style="top:686.5px">even using different</div>
<div class="cap" style="top:686.5px;left:283.5px;width:auto"><i style="display:inline-block;transform:scaleX(1.27);transform-origin:0 0;-webkit-text-stroke:0">X</i></div>
<div class="cap" style="top:695.5px;left:311px;width:auto;font-size:23px"><i style="display:inline-block;transform:scaleX(1.35);transform-origin:0 0;-webkit-text-stroke:0">s</i></div>
<div class="cap" style="top:686.5px;left:334px;width:auto">belonging to the same writer.</div>
</body></html>
